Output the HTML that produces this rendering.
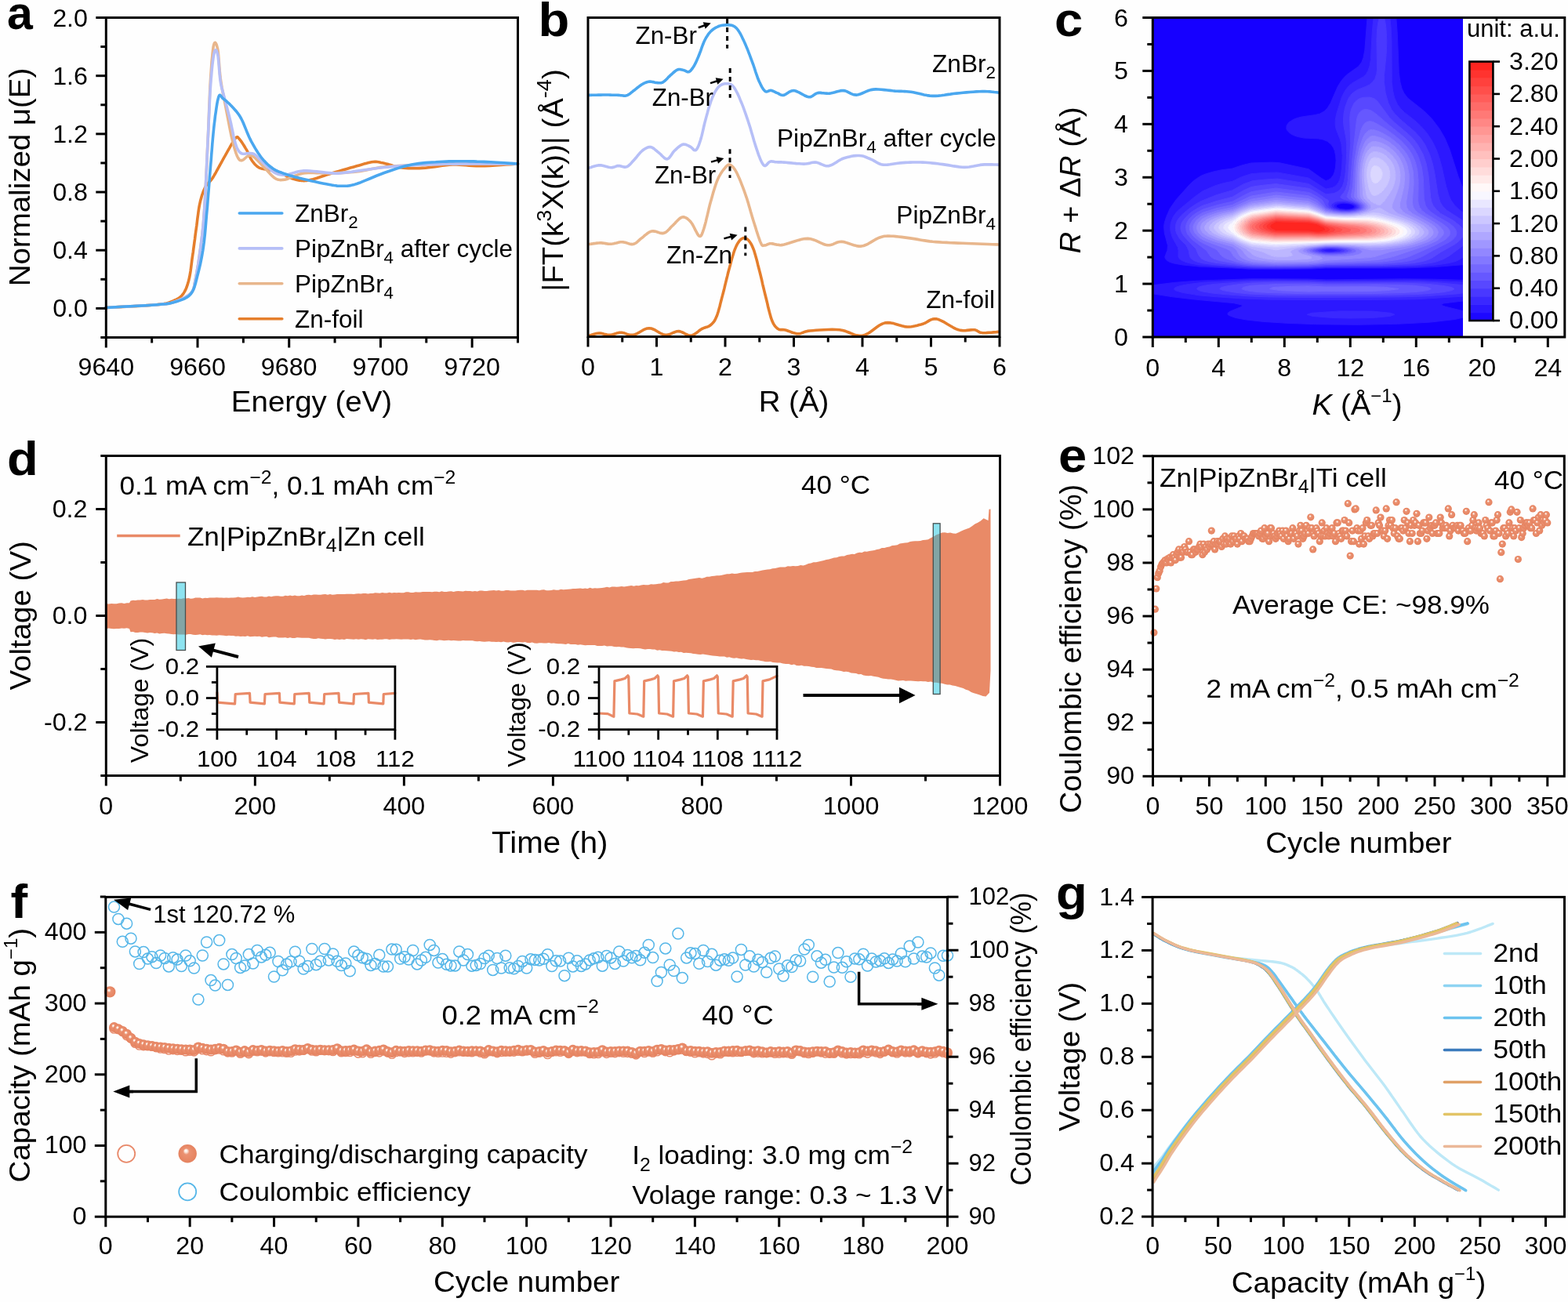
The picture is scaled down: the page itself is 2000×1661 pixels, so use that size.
<!DOCTYPE html>
<html><head><meta charset="utf-8"><style>
html,body{margin:0;padding:0;background:#fff;}
svg{display:block;}
text{font-family:'Liberation Sans', Arial, sans-serif;}
</style></head><body>
<svg width="2000" height="1661" viewBox="0 0 2000 1661">
<rect width="2000" height="1661" fill="#fefefe"/>
<path d="M135.0,392.5 L140.3,392.2 L147.7,391.9 L156.5,391.4 L166.1,391.0 L175.9,390.4 L185.2,389.9 L193.4,389.3 L200.0,388.7 L205.0,388.1 L209.0,387.5 L212.2,386.9 L214.8,386.2 L217.0,385.5 L219.0,384.7 L220.9,383.9 L222.9,383.0 L224.9,382.1 L226.7,381.2 L228.2,380.2 L229.6,379.2 L230.9,378.1 L232.0,376.9 L233.2,375.5 L234.3,373.9 L235.4,372.1 L236.4,370.2 L237.3,368.2 L238.2,366.0 L239.0,363.7 L239.7,361.2 L240.5,358.5 L241.2,355.6 L241.9,352.5 L242.5,349.1 L243.1,345.5 L243.6,341.7 L244.1,337.8 L244.6,333.8 L245.1,329.8 L245.7,325.8 L246.3,321.7 L246.8,317.5 L247.4,313.2 L248.0,308.8 L248.6,304.4 L249.1,300.0 L249.7,295.7 L250.3,291.5 L250.9,287.3 L251.4,283.1 L251.9,278.8 L252.5,274.6 L253.0,270.6 L253.6,266.6 L254.2,262.9 L254.9,259.5 L255.6,256.3 L256.4,253.4 L257.2,250.6 L258.0,248.0 L258.9,245.5 L259.8,243.2 L260.7,241.1 L261.7,239.0 L262.7,237.2 L263.8,235.6 L265.0,234.2 L266.2,233.0 L267.4,231.7 L268.6,230.5 L269.7,229.1 L270.9,227.5 L272.0,225.7 L273.1,223.9 L274.2,222.0 L275.3,220.1 L276.4,218.0 L277.6,215.9 L278.7,213.8 L280.0,211.5 L281.3,209.1 L282.8,206.5 L284.2,203.9 L285.7,201.1 L287.3,198.4 L288.7,195.8 L290.2,193.2 L291.5,190.9 L292.8,188.7 L294.0,186.4 L295.3,184.2 L296.5,182.1 L297.6,180.2 L298.7,178.5 L299.7,177.1 L300.6,176.0 L301.4,175.3 L302.0,174.9 L302.5,174.7 L302.9,174.8 L303.3,175.1 L303.8,175.6 L304.4,176.3 L305.2,177.2 L306.1,178.3 L307.2,179.7 L308.4,181.4 L309.6,183.3 L310.9,185.2 L312.1,187.2 L313.2,189.1 L314.3,190.9 L315.3,192.6 L316.1,194.4 L317.0,196.2 L317.8,198.0 L318.5,199.8 L319.4,201.5 L320.2,203.1 L321.2,204.6 L322.2,206.0 L323.3,207.4 L324.3,208.7 L325.5,209.9 L326.6,211.0 L327.8,212.1 L329.0,213.0 L330.3,213.8 L331.6,214.4 L333.0,214.9 L334.3,215.3 L335.8,215.5 L337.2,215.8 L338.7,216.0 L340.2,216.2 L341.8,216.5 L343.4,216.8 L345.1,217.1 L346.8,217.4 L348.5,217.7 L350.3,218.1 L352.0,218.5 L353.8,218.9 L355.5,219.5 L357.2,220.2 L358.9,221.0 L360.6,221.9 L362.3,222.9 L364.1,223.9 L365.8,224.8 L367.5,225.7 L369.2,226.4 L370.9,227.1 L372.6,227.7 L374.4,228.3 L376.1,228.8 L377.8,229.3 L379.6,229.7 L381.3,230.1 L383.0,230.3 L384.7,230.5 L386.2,230.5 L387.7,230.6 L389.3,230.5 L390.9,230.4 L392.6,230.1 L394.5,229.8 L396.7,229.3 L399.1,228.7 L401.6,228.0 L404.2,227.2 L407.0,226.2 L410.0,225.2 L413.1,224.2 L416.5,223.1 L420.0,222.0 L423.9,220.8 L428.3,219.5 L432.9,218.2 L437.6,216.8 L442.4,215.4 L447.0,214.1 L451.2,212.9 L455.0,211.8 L458.3,210.9 L461.4,210.0 L464.2,209.1 L466.8,208.4 L469.3,207.8 L471.6,207.2 L473.8,206.8 L476.0,206.5 L478.0,206.4 L479.7,206.4 L481.3,206.5 L482.8,206.7 L484.3,207.0 L485.9,207.4 L487.8,207.8 L490.0,208.3 L492.5,208.9 L495.3,209.6 L498.3,210.5 L501.4,211.4 L504.6,212.2 L507.9,213.0 L511.2,213.7 L514.5,214.2 L517.8,214.5 L521.1,214.7 L524.4,214.8 L527.8,214.8 L531.3,214.8 L534.9,214.6 L538.6,214.4 L542.5,214.2 L546.5,213.8 L550.8,213.3 L555.1,212.7 L559.6,212.0 L564.1,211.3 L568.6,210.7 L573.1,210.3 L577.5,210.0 L581.8,210.0 L585.9,210.1 L590.1,210.4 L594.2,210.8 L598.4,211.2 L602.8,211.5 L607.5,211.8 L612.5,211.8 L618.2,211.7 L624.7,211.4 L631.7,211.0 L638.7,210.5 L645.4,210.0 L651.6,209.6 L656.7,209.2 L660.5,209.0" stroke="#e57e2c" stroke-width="3.6" fill="none" stroke-linejoin="round" stroke-linecap="round"/>
<path d="M135.0,392.5 L140.3,392.2 L147.7,391.8 L156.5,391.3 L166.1,390.8 L175.9,390.3 L185.2,389.7 L193.4,389.2 L200.0,388.7 L204.9,388.3 L208.7,387.9 L211.8,387.6 L214.2,387.3 L216.3,386.9 L218.3,386.4 L220.4,385.8 L222.9,385.0 L225.7,384.0 L228.5,382.9 L231.4,381.6 L234.2,380.3 L236.9,378.8 L239.4,377.3 L241.6,375.7 L243.4,374.0 L244.8,372.4 L245.8,371.0 L246.5,369.5 L247.0,368.0 L247.5,366.2 L247.9,364.0 L248.3,361.3 L249.0,357.9 L249.8,353.8 L250.7,349.0 L251.6,343.7 L252.6,338.0 L253.5,332.1 L254.4,326.1 L255.2,320.1 L256.0,314.4 L256.7,309.1 L257.3,304.2 L257.9,299.4 L258.4,294.5 L259.0,289.3 L259.5,283.4 L260.0,276.6 L260.6,268.7 L261.2,259.4 L261.8,248.7 L262.4,237.1 L263.0,224.9 L263.6,212.5 L264.1,200.1 L264.7,188.3 L265.2,177.2 L265.7,166.6 L266.1,156.1 L266.5,145.7 L266.9,135.6 L267.3,125.8 L267.7,116.5 L268.1,107.9 L268.6,100.0 L269.1,92.7 L269.6,85.7 L270.0,79.3 L270.6,73.4 L271.1,68.2 L271.6,63.7 L272.1,60.0 L272.7,57.2 L273.3,55.4 L273.9,54.5 L274.6,54.4 L275.2,55.1 L275.9,56.3 L276.5,58.1 L277.1,60.4 L277.7,62.9 L278.2,66.1 L278.6,70.1 L279.0,74.8 L279.4,79.8 L279.8,85.1 L280.2,90.4 L280.7,95.4 L281.2,100.0 L281.8,104.1 L282.4,107.9 L283.0,111.6 L283.7,115.2 L284.4,118.9 L285.2,122.8 L286.0,126.9 L286.9,131.5 L287.9,136.7 L289.0,142.5 L290.2,148.6 L291.4,154.9 L292.6,161.1 L293.8,167.1 L294.9,172.5 L296.0,177.2 L297.0,181.3 L297.9,184.9 L298.8,188.2 L299.7,191.2 L300.5,193.8 L301.3,196.1 L302.1,198.2 L302.9,200.0 L303.7,201.5 L304.4,202.7 L305.0,203.5 L305.7,204.1 L306.3,204.4 L307.0,204.6 L307.8,204.6 L308.6,204.6 L309.5,204.3 L310.5,203.7 L311.5,202.9 L312.5,202.0 L313.6,201.0 L314.6,200.1 L315.6,199.4 L316.6,198.9 L317.5,198.6 L318.2,198.4 L319.0,198.3 L319.7,198.2 L320.5,198.4 L321.3,198.7 L322.3,199.2 L323.5,200.0 L324.9,201.1 L326.4,202.6 L328.1,204.2 L329.9,206.1 L331.8,208.1 L333.6,210.1 L335.4,212.0 L337.2,213.8 L338.9,215.6 L340.7,217.5 L342.5,219.5 L344.2,221.4 L346.0,223.2 L347.7,224.9 L349.4,226.4 L351.0,227.5 L352.5,228.3 L354.0,228.9 L355.5,229.3 L356.9,229.5 L358.2,229.6 L359.6,229.5 L361.0,229.4 L362.4,229.3 L363.8,229.1 L365.1,228.7 L366.5,228.2 L367.8,227.7 L369.2,227.0 L370.6,226.4 L372.2,225.8 L373.8,225.2 L375.5,224.6 L377.1,224.0 L378.8,223.3 L380.6,222.6 L382.6,222.0 L384.7,221.4 L387.1,220.9 L389.8,220.6 L392.9,220.4 L396.2,220.4 L399.9,220.5 L403.7,220.6 L407.7,220.8 L411.8,221.0 L415.9,221.0 L420.0,221.0 L424.1,220.9 L428.4,220.8 L432.8,220.6 L437.2,220.4 L441.7,220.1 L446.1,219.8 L450.6,219.5 L455.0,219.0 L459.3,218.4 L463.3,217.7 L467.4,216.9 L471.4,216.1 L475.6,215.2 L480.0,214.4 L484.8,213.6 L490.0,213.0 L495.7,212.5 L501.9,212.0 L508.4,211.6 L515.2,211.2 L522.0,210.8 L529.0,210.5 L535.8,210.3 L542.5,210.0 L549.0,209.8 L555.3,209.6 L561.6,209.4 L567.9,209.3 L574.4,209.2 L581.0,209.1 L587.8,209.1 L595.0,209.0 L603.0,209.0 L612.0,208.9 L621.5,208.9 L631.0,208.9 L640.2,209.0 L648.4,209.0 L655.4,209.0 L660.5,209.0" stroke="#e8b68c" stroke-width="3.6" fill="none" stroke-linejoin="round" stroke-linecap="round"/>
<path d="M135.0,392.5 L140.3,392.2 L147.7,391.8 L156.5,391.3 L166.1,390.8 L175.9,390.3 L185.2,389.7 L193.4,389.2 L200.0,388.7 L204.9,388.3 L208.7,387.9 L211.8,387.6 L214.2,387.3 L216.3,386.9 L218.3,386.4 L220.4,385.8 L222.9,385.0 L225.7,384.0 L228.5,382.9 L231.4,381.6 L234.2,380.3 L236.9,378.8 L239.4,377.3 L241.6,375.7 L243.4,374.0 L244.8,372.4 L245.8,371.0 L246.5,369.5 L247.0,368.0 L247.5,366.2 L247.9,364.0 L248.3,361.3 L249.0,357.9 L249.8,353.8 L250.7,349.0 L251.6,343.7 L252.6,338.0 L253.5,332.1 L254.4,326.1 L255.2,320.1 L256.0,314.4 L256.7,309.1 L257.3,304.2 L257.9,299.4 L258.4,294.5 L259.0,289.3 L259.5,283.4 L260.0,276.6 L260.6,268.7 L261.2,259.3 L261.8,248.5 L262.4,236.7 L263.0,224.4 L263.6,211.8 L264.1,199.5 L264.7,187.9 L265.2,177.2 L265.7,167.3 L266.1,157.8 L266.5,148.6 L266.9,139.8 L267.3,131.3 L267.7,123.3 L268.1,115.7 L268.6,108.6 L269.1,101.8 L269.7,95.4 L270.2,89.2 L270.8,83.6 L271.4,78.5 L272.0,74.0 L272.6,70.3 L273.2,67.4 L273.8,65.4 L274.4,64.2 L274.9,63.7 L275.5,63.8 L276.1,64.6 L276.6,65.9 L277.2,67.6 L277.7,69.7 L278.2,72.5 L278.6,76.3 L279.0,80.7 L279.4,85.6 L279.8,90.6 L280.2,95.5 L280.7,100.0 L281.2,104.0 L281.8,107.4 L282.4,110.4 L283.1,113.2 L283.8,115.9 L284.6,118.5 L285.3,121.1 L286.1,123.9 L286.9,126.9 L287.7,130.1 L288.5,133.4 L289.4,136.7 L290.3,140.2 L291.2,143.7 L292.1,147.2 L292.9,150.7 L293.8,154.3 L294.7,158.0 L295.5,162.0 L296.4,166.1 L297.2,170.1 L298.0,174.1 L298.9,177.8 L299.7,181.1 L300.6,184.0 L301.4,186.4 L302.2,188.4 L303.0,190.2 L303.8,191.6 L304.6,192.8 L305.5,193.9 L306.4,194.7 L307.5,195.5 L308.7,196.0 L310.1,196.3 L311.6,196.2 L313.2,196.1 L314.8,195.8 L316.3,195.6 L317.7,195.5 L318.9,195.5 L319.9,195.6 L320.8,195.7 L321.6,195.8 L322.3,195.9 L323.1,196.2 L323.9,196.5 L324.8,197.1 L325.8,197.8 L327.0,198.8 L328.3,200.0 L329.6,201.4 L331.1,202.9 L332.6,204.5 L334.1,206.1 L335.6,207.7 L337.2,209.2 L338.8,210.7 L340.5,212.3 L342.2,213.9 L344.0,215.5 L345.7,217.0 L347.5,218.4 L349.3,219.6 L351.0,220.6 L352.6,221.4 L354.2,222.0 L355.7,222.5 L357.2,222.8 L358.8,223.0 L360.6,223.1 L362.5,223.1 L364.6,223.0 L367.0,222.7 L369.4,222.1 L372.1,221.3 L374.9,220.4 L377.8,219.6 L380.9,218.8 L384.1,218.2 L387.5,217.9 L391.2,217.9 L395.3,218.1 L399.6,218.5 L404.1,218.9 L408.5,219.4 L412.7,219.9 L416.6,220.3 L420.0,220.6 L422.7,220.8 L424.6,220.9 L426.1,221.1 L427.5,221.2 L429.0,221.2 L431.0,221.1 L433.7,220.9 L437.5,220.5 L442.4,219.9 L448.2,219.2 L454.6,218.2 L461.6,217.2 L468.8,216.2 L476.1,215.2 L483.2,214.3 L490.0,213.5 L496.6,212.9 L503.1,212.3 L509.7,211.8 L516.2,211.4 L522.8,211.0 L529.4,210.6 L535.9,210.3 L542.5,210.0 L549.0,209.7 L555.3,209.6 L561.6,209.4 L567.9,209.3 L574.4,209.2 L581.0,209.1 L587.8,209.1 L595.0,209.0 L603.0,209.0 L612.0,208.9 L621.5,208.9 L631.0,208.9 L640.2,209.0 L648.4,209.0 L655.4,209.0 L660.5,209.0" stroke="#b6bff7" stroke-width="3.6" fill="none" stroke-linejoin="round" stroke-linecap="round"/>
<path d="M135.0,392.5 L140.3,392.2 L147.7,391.8 L156.5,391.3 L166.1,390.8 L175.9,390.3 L185.2,389.7 L193.4,389.2 L200.0,388.7 L204.9,388.3 L208.7,388.0 L211.8,387.7 L214.2,387.4 L216.3,387.1 L218.3,386.6 L220.4,386.1 L222.9,385.3 L225.7,384.5 L228.5,383.6 L231.3,382.6 L234.0,381.6 L236.6,380.3 L239.1,378.9 L241.4,377.1 L243.4,375.0 L245.1,372.5 L246.5,369.7 L247.8,366.7 L248.8,363.4 L249.8,359.9 L250.7,356.2 L251.6,352.5 L252.6,348.7 L253.6,344.9 L254.5,341.0 L255.5,336.9 L256.3,332.8 L257.2,328.4 L258.0,324.0 L258.8,319.3 L259.5,314.4 L260.2,309.3 L260.8,304.0 L261.4,298.6 L261.9,293.0 L262.4,287.2 L262.9,281.2 L263.4,275.0 L264.0,268.7 L264.6,262.1 L265.1,255.1 L265.7,247.9 L266.3,240.5 L266.9,233.1 L267.4,225.7 L268.0,218.5 L268.6,211.5 L269.2,204.6 L269.7,197.6 L270.3,190.7 L270.8,183.8 L271.4,177.2 L272.0,170.7 L272.6,164.6 L273.2,158.9 L273.9,153.4 L274.5,148.0 L275.3,142.7 L276.0,137.8 L276.7,133.3 L277.4,129.3 L278.2,126.0 L278.9,123.5 L279.6,121.9 L280.2,121.2 L280.8,121.3 L281.4,121.8 L282.0,122.7 L282.8,123.8 L283.6,124.9 L284.6,125.8 L285.8,126.7 L287.0,127.7 L288.5,128.8 L289.9,130.1 L291.5,131.5 L293.0,132.9 L294.5,134.4 L296.0,136.0 L297.4,137.6 L298.9,139.2 L300.3,140.8 L301.8,142.5 L303.2,144.3 L304.6,146.3 L306.1,148.6 L307.5,151.0 L308.9,153.8 L310.3,156.8 L311.7,160.2 L313.1,163.6 L314.5,167.1 L315.9,170.6 L317.4,174.0 L318.9,177.2 L320.5,180.3 L322.2,183.3 L323.9,186.4 L325.6,189.4 L327.4,192.3 L329.1,195.0 L330.9,197.6 L332.6,200.0 L334.3,202.2 L336.0,204.2 L337.8,206.1 L339.5,207.9 L341.2,209.5 L343.0,211.1 L344.7,212.5 L346.4,213.8 L348.0,215.0 L349.6,216.0 L351.1,216.9 L352.6,217.6 L354.2,218.4 L355.9,219.1 L357.9,219.8 L360.0,220.6 L362.3,221.5 L364.8,222.3 L367.3,223.1 L370.0,224.0 L372.9,224.8 L376.0,225.7 L379.4,226.6 L383.0,227.5 L387.1,228.5 L391.7,229.6 L396.7,230.7 L401.8,231.8 L406.9,232.9 L411.8,233.9 L416.2,234.8 L420.0,235.5 L423.1,236.1 L425.7,236.5 L428.0,236.8 L430.0,237.1 L431.8,237.2 L433.6,237.3 L435.4,237.3 L437.5,237.3 L439.6,237.2 L441.5,237.2 L443.3,237.1 L445.2,236.9 L447.2,236.6 L449.4,236.1 L452.0,235.4 L455.0,234.5 L458.5,233.3 L462.5,231.7 L466.8,229.9 L471.4,228.0 L476.1,226.0 L480.8,224.0 L485.5,222.2 L490.0,220.5 L494.4,219.0 L498.8,217.5 L503.1,216.0 L507.5,214.6 L511.9,213.3 L516.2,212.1 L520.6,211.0 L525.0,210.0 L529.4,209.2 L533.8,208.6 L538.1,208.1 L542.5,207.6 L546.9,207.3 L551.2,207.0 L555.6,206.8 L560.0,206.5 L564.4,206.3 L568.8,206.1 L573.1,205.9 L577.5,205.9 L581.9,205.8 L586.2,205.8 L590.6,205.8 L595.0,205.8 L599.4,205.9 L603.9,205.9 L608.3,206.1 L612.8,206.2 L617.2,206.4 L621.6,206.6 L625.8,206.8 L630.0,207.0 L634.2,207.2 L638.7,207.5 L643.1,207.8 L647.4,208.1 L651.5,208.4 L655.1,208.6 L658.2,208.8 L660.5,209.0" stroke="#4aa7ef" stroke-width="3.6" fill="none" stroke-linejoin="round" stroke-linecap="round"/>
<rect x="135.30" y="22.50" width="525.20" height="408.00" stroke="#000" stroke-width="3" fill="none"/>
<line x1="135.30" y1="393.41" x2="122.30" y2="393.41" stroke="#000" stroke-width="3"/>
<line x1="135.30" y1="319.23" x2="122.30" y2="319.23" stroke="#000" stroke-width="3"/>
<line x1="135.30" y1="245.05" x2="122.30" y2="245.05" stroke="#000" stroke-width="3"/>
<line x1="135.30" y1="170.86" x2="122.30" y2="170.86" stroke="#000" stroke-width="3"/>
<line x1="135.30" y1="96.68" x2="122.30" y2="96.68" stroke="#000" stroke-width="3"/>
<line x1="135.30" y1="22.50" x2="122.30" y2="22.50" stroke="#000" stroke-width="3"/>
<line x1="135.30" y1="430.50" x2="128.30" y2="430.50" stroke="#000" stroke-width="3"/>
<line x1="135.30" y1="356.32" x2="128.30" y2="356.32" stroke="#000" stroke-width="3"/>
<line x1="135.30" y1="282.14" x2="128.30" y2="282.14" stroke="#000" stroke-width="3"/>
<line x1="135.30" y1="207.95" x2="128.30" y2="207.95" stroke="#000" stroke-width="3"/>
<line x1="135.30" y1="133.77" x2="128.30" y2="133.77" stroke="#000" stroke-width="3"/>
<line x1="135.30" y1="59.59" x2="128.30" y2="59.59" stroke="#000" stroke-width="3"/>
<text font-size="31" text-anchor="end" transform="translate(112.0,404.4) scale(1.04,1)" fill="#000">0.0</text>
<text font-size="31" text-anchor="end" transform="translate(112.0,330.2) scale(1.04,1)" fill="#000">0.4</text>
<text font-size="31" text-anchor="end" transform="translate(112.0,256.0) scale(1.04,1)" fill="#000">0.8</text>
<text font-size="31" text-anchor="end" transform="translate(112.0,181.9) scale(1.04,1)" fill="#000">1.2</text>
<text font-size="31" text-anchor="end" transform="translate(112.0,107.7) scale(1.04,1)" fill="#000">1.6</text>
<text font-size="31" text-anchor="end" transform="translate(112.0,33.5) scale(1.04,1)" fill="#000">2.0</text>
<line x1="135.30" y1="430.50" x2="135.30" y2="443.50" stroke="#000" stroke-width="3"/>
<line x1="252.01" y1="430.50" x2="252.01" y2="443.50" stroke="#000" stroke-width="3"/>
<line x1="368.72" y1="430.50" x2="368.72" y2="443.50" stroke="#000" stroke-width="3"/>
<line x1="485.43" y1="430.50" x2="485.43" y2="443.50" stroke="#000" stroke-width="3"/>
<line x1="602.14" y1="430.50" x2="602.14" y2="443.50" stroke="#000" stroke-width="3"/>
<line x1="193.66" y1="430.50" x2="193.66" y2="437.50" stroke="#000" stroke-width="3"/>
<line x1="310.37" y1="430.50" x2="310.37" y2="437.50" stroke="#000" stroke-width="3"/>
<line x1="427.08" y1="430.50" x2="427.08" y2="437.50" stroke="#000" stroke-width="3"/>
<line x1="543.79" y1="430.50" x2="543.79" y2="437.50" stroke="#000" stroke-width="3"/>
<line x1="660.50" y1="430.50" x2="660.50" y2="437.50" stroke="#000" stroke-width="3"/>
<text font-size="31" text-anchor="middle" transform="translate(135.3,479.0) scale(1.04,1)" fill="#000">9640</text>
<text font-size="31" text-anchor="middle" transform="translate(252.0,479.0) scale(1.04,1)" fill="#000">9660</text>
<text font-size="31" text-anchor="middle" transform="translate(368.7,479.0) scale(1.04,1)" fill="#000">9680</text>
<text font-size="31" text-anchor="middle" transform="translate(485.4,479.0) scale(1.04,1)" fill="#000">9700</text>
<text font-size="31" text-anchor="middle" transform="translate(602.1,479.0) scale(1.04,1)" fill="#000">9720</text>
<text font-size="37" text-anchor="middle" transform="translate(397.5,525.0) scale(1.04,1)" fill="#000">Energy (eV)</text>
<text font-size="37" text-anchor="middle" transform="translate(38.0,226.0) rotate(-90) scale(1.04,1)" fill="#000">Normalized μ(E)</text>
<text font-size="59" text-anchor="start" font-weight="bold" transform="translate(9.0,37.0)" fill="#000">a</text>
<line x1="305.30" y1="272.00" x2="359.80" y2="272.00" stroke="#4aa7ef" stroke-width="3.6" stroke-linecap="round"/>
<text font-size="31" text-anchor="start" transform="translate(376.0,282.8) scale(1.015,1)" fill="#000">ZnBr<tspan font-size="22" dy="8">2</tspan></text>
<line x1="305.30" y1="316.90" x2="359.80" y2="316.90" stroke="#b6bff7" stroke-width="3.6" stroke-linecap="round"/>
<text font-size="31" text-anchor="start" transform="translate(376.0,327.7) scale(1.015,1)" fill="#000">PipZnBr<tspan font-size="22" dy="8">4</tspan><tspan dy="-8"> after cycle</tspan></text>
<line x1="305.30" y1="361.80" x2="359.80" y2="361.80" stroke="#e8b68c" stroke-width="3.6" stroke-linecap="round"/>
<text font-size="31" text-anchor="start" transform="translate(376.0,372.6) scale(1.015,1)" fill="#000">PipZnBr<tspan font-size="22" dy="8">4</tspan></text>
<line x1="305.30" y1="406.70" x2="359.80" y2="406.70" stroke="#e57e2c" stroke-width="3.6" stroke-linecap="round"/>
<text font-size="31" text-anchor="start" transform="translate(376.0,417.5) scale(1.015,1)" fill="#000">Zn-foil</text>
<path d="M751.6,121.4 L753.2,121.4 L755.2,121.3 L757.7,121.2 L760.5,121.2 L763.4,121.1 L766.2,121.1 L769.0,121.0 L771.5,121.0 L773.8,121.0 L776.1,121.0 L778.4,121.1 L780.7,121.2 L782.9,121.2 L784.9,121.3 L786.9,121.3 L788.7,121.4 L790.3,121.5 L791.8,121.7 L793.2,121.8 L794.5,122.0 L795.7,122.1 L796.9,122.2 L798.1,122.1 L799.3,121.8 L800.5,121.3 L801.7,120.7 L802.8,120.0 L804.0,119.1 L805.1,118.2 L806.2,117.3 L807.4,116.3 L808.6,115.4 L809.9,114.5 L811.2,113.4 L812.5,112.3 L813.9,111.3 L815.3,110.2 L816.6,109.2 L817.9,108.3 L819.2,107.5 L820.4,106.8 L821.6,106.2 L822.8,105.7 L823.9,105.2 L825.1,104.8 L826.2,104.5 L827.3,104.3 L828.5,104.1 L829.7,104.1 L830.9,104.2 L832.0,104.4 L833.2,104.6 L834.4,104.9 L835.6,105.2 L836.7,105.4 L837.8,105.5 L838.8,105.6 L839.8,105.7 L840.8,105.7 L841.7,105.8 L842.7,105.7 L843.7,105.6 L844.7,105.3 L845.7,104.8 L846.8,104.1 L847.9,103.2 L849.1,102.1 L850.3,100.9 L851.5,99.7 L852.6,98.4 L853.8,97.3 L855.0,96.2 L856.2,95.2 L857.4,94.1 L858.5,93.0 L859.7,92.0 L860.9,91.0 L862.1,90.1 L863.2,89.4 L864.3,88.9 L865.4,88.6 L866.4,88.5 L867.4,88.5 L868.4,88.7 L869.4,88.9 L870.3,89.1 L871.3,89.4 L872.2,89.6 L873.1,89.9 L873.9,90.2 L874.8,90.7 L875.6,91.1 L876.4,91.5 L877.2,91.8 L878.0,91.8 L878.8,91.6 L879.6,91.1 L880.5,90.5 L881.3,89.6 L882.1,88.6 L883.0,87.5 L883.8,86.3 L884.7,85.0 L885.5,83.6 L886.3,82.1 L887.2,80.5 L888.0,78.7 L888.8,76.9 L889.6,75.0 L890.5,73.0 L891.3,71.0 L892.1,69.0 L892.9,66.9 L893.7,64.8 L894.5,62.5 L895.3,60.2 L896.1,58.0 L897.0,55.8 L897.8,53.7 L898.7,51.8 L899.6,50.0 L900.5,48.3 L901.5,46.7 L902.5,45.2 L903.4,43.7 L904.5,42.4 L905.6,41.1 L906.7,39.9 L907.9,38.8 L909.2,37.8 L910.5,36.8 L911.8,35.9 L913.2,35.2 L914.6,34.5 L916.0,33.8 L917.3,33.3 L918.6,32.9 L920.0,32.5 L921.4,32.3 L922.8,32.1 L924.1,32.0 L925.4,31.9 L926.7,31.9 L927.9,31.9 L929.0,31.9 L930.1,31.9 L931.1,32.0 L932.1,32.1 L933.1,32.3 L934.0,32.5 L934.9,32.9 L935.8,33.3 L936.7,33.8 L937.5,34.4 L938.3,35.0 L939.1,35.7 L939.9,36.5 L940.7,37.5 L941.5,38.6 L942.4,39.9 L943.3,41.4 L944.3,43.0 L945.2,44.8 L946.2,46.8 L947.2,48.9 L948.3,51.1 L949.3,53.4 L950.4,55.8 L951.5,58.4 L952.7,61.2 L953.9,64.2 L955.1,67.3 L956.3,70.4 L957.4,73.5 L958.6,76.6 L959.7,79.6 L960.8,82.5 L961.8,85.5 L962.8,88.5 L963.7,91.5 L964.7,94.4 L965.7,97.2 L966.6,99.8 L967.6,102.2 L968.6,104.5 L969.6,106.6 L970.6,108.7 L971.6,110.6 L972.6,112.3 L973.6,113.9 L974.6,115.1 L975.6,116.1 L976.6,116.7 L977.6,116.9 L978.6,116.7 L979.6,116.4 L980.5,116.0 L981.5,115.6 L982.5,115.4 L983.5,115.4 L984.5,115.6 L985.5,116.0 L986.5,116.4 L987.5,116.8 L988.5,117.3 L989.5,117.8 L990.5,118.3 L991.5,118.7 L992.5,119.1 L993.4,119.6 L994.2,120.1 L995.1,120.6 L996.1,121.0 L997.1,121.3 L998.2,121.5 L999.4,121.4 L1000.8,121.0 L1002.2,120.2 L1003.7,119.2 L1005.3,118.2 L1007.0,117.1 L1008.8,116.3 L1010.6,115.7 L1012.6,115.6 L1014.7,116.0 L1017.1,117.0 L1019.6,118.2 L1022.2,119.6 L1024.8,121.0 L1027.2,122.3 L1029.5,123.2 L1031.6,123.7 L1033.4,123.7 L1034.9,123.2 L1036.3,122.5 L1037.5,121.6 L1038.8,120.7 L1040.1,119.8 L1041.4,119.1 L1043.0,118.6 L1044.7,118.4 L1046.5,118.4 L1048.3,118.6 L1050.2,118.7 L1052.1,119.0 L1054.1,119.1 L1056.2,119.2 L1058.2,119.1 L1060.3,118.8 L1062.5,118.3 L1064.7,117.7 L1067.0,117.0 L1069.2,116.4 L1071.5,115.9 L1073.7,115.6 L1075.9,115.6 L1078.0,115.9 L1080.0,116.6 L1081.9,117.6 L1083.9,118.6 L1085.8,119.6 L1087.9,120.4 L1090.0,120.9 L1092.3,121.1 L1094.7,120.8 L1097.2,120.0 L1099.7,119.0 L1102.3,117.8 L1105.1,116.6 L1107.9,115.5 L1110.8,114.6 L1113.8,114.1 L1117.0,113.9 L1120.5,114.0 L1124.1,114.2 L1127.8,114.6 L1131.5,115.0 L1135.0,115.4 L1138.4,115.8 L1141.6,116.1 L1144.4,116.3 L1147.0,116.4 L1149.4,116.4 L1151.7,116.5 L1154.0,116.6 L1156.4,116.7 L1159.0,117.0 L1161.8,117.3 L1164.9,117.8 L1168.2,118.5 L1171.6,119.3 L1175.1,120.1 L1178.7,120.9 L1182.3,121.6 L1185.9,122.1 L1189.6,122.4 L1193.3,122.4 L1197.0,122.1 L1200.7,121.7 L1204.5,121.2 L1208.3,120.6 L1212.2,120.1 L1216.1,119.5 L1220.0,119.1 L1224.1,118.7 L1228.3,118.3 L1232.6,117.9 L1237.0,117.5 L1241.2,117.2 L1245.3,116.9 L1249.2,116.7 L1252.8,116.6 L1256.2,116.6 L1259.5,116.7 L1262.6,116.9 L1265.6,117.2 L1268.3,117.5 L1270.7,117.7 L1272.7,118.0 L1274.3,118.1" stroke="#4aa7ef" stroke-width="3.6" fill="none" stroke-linejoin="round" stroke-linecap="round"/>
<path d="M751.6,214.1 L752.6,213.8 L754.0,213.4 L755.6,212.8 L757.3,212.3 L759.2,211.7 L761.2,211.3 L763.1,210.9 L764.9,210.8 L766.7,210.9 L768.6,211.2 L770.5,211.7 L772.5,212.2 L774.4,212.7 L776.2,213.2 L777.9,213.5 L779.5,213.7 L780.9,213.6 L782.1,213.4 L783.3,213.1 L784.4,212.7 L785.4,212.3 L786.4,211.9 L787.5,211.6 L788.7,211.5 L790.0,211.6 L791.3,211.8 L792.6,212.2 L794.0,212.6 L795.4,212.9 L796.7,213.1 L798.0,213.1 L799.3,212.8 L800.5,212.2 L801.7,211.4 L802.8,210.4 L804.0,209.3 L805.1,208.1 L806.2,206.8 L807.4,205.5 L808.6,204.2 L809.9,202.8 L811.2,201.3 L812.5,199.7 L813.8,198.0 L815.2,196.4 L816.5,194.8 L817.9,193.5 L819.2,192.3 L820.5,191.3 L821.9,190.3 L823.2,189.5 L824.5,188.8 L825.8,188.2 L827.1,187.8 L828.5,187.6 L829.8,187.6 L831.1,187.9 L832.4,188.6 L833.8,189.4 L835.1,190.5 L836.4,191.6 L837.7,192.7 L839.1,193.9 L840.4,194.9 L841.7,196.0 L843.1,197.3 L844.4,198.7 L845.8,200.0 L847.1,201.2 L848.4,202.2 L849.7,202.8 L851.0,202.9 L852.2,202.4 L853.4,201.5 L854.5,200.2 L855.7,198.6 L856.8,196.9 L857.9,195.2 L859.1,193.6 L860.3,192.3 L861.6,191.1 L862.9,189.9 L864.2,188.6 L865.6,187.5 L867.0,186.4 L868.3,185.5 L869.6,184.8 L870.9,184.3 L872.1,184.1 L873.4,184.2 L874.6,184.4 L875.8,184.9 L876.9,185.4 L878.1,185.9 L879.1,186.5 L880.2,187.0 L881.2,187.6 L882.2,188.4 L883.1,189.3 L884.0,190.3 L884.9,191.1 L885.7,191.6 L886.6,191.8 L887.4,191.6 L888.2,190.9 L889.0,190.0 L889.7,188.7 L890.4,187.2 L891.2,185.5 L891.9,183.5 L892.6,181.4 L893.4,179.0 L894.2,176.4 L895.0,173.4 L895.8,170.1 L896.6,166.6 L897.4,163.0 L898.2,159.5 L899.1,155.9 L900.0,152.5 L900.9,149.1 L901.9,145.6 L902.8,142.1 L903.8,138.6 L904.8,135.2 L905.9,131.9 L906.9,128.8 L908.0,126.0 L909.1,123.4 L910.2,121.0 L911.3,118.7 L912.4,116.6 L913.6,114.7 L914.8,112.9 L916.0,111.4 L917.3,110.1 L918.7,109.0 L920.2,108.2 L921.7,107.5 L923.3,107.1 L924.9,106.8 L926.4,106.7 L927.9,106.7 L929.2,106.8 L930.4,107.0 L931.4,107.3 L932.4,107.8 L933.3,108.4 L934.2,109.1 L935.1,110.1 L936.1,111.3 L937.1,112.8 L938.2,114.6 L939.3,116.6 L940.5,118.9 L941.7,121.4 L942.9,124.1 L944.0,126.9 L945.2,129.7 L946.4,132.6 L947.6,135.6 L948.8,138.8 L949.9,142.0 L951.1,145.4 L952.3,148.9 L953.5,152.3 L954.6,155.7 L955.7,159.1 L956.8,162.5 L957.8,165.9 L958.8,169.4 L959.8,172.8 L960.8,176.2 L961.7,179.5 L962.7,182.7 L963.6,185.6 L964.5,188.4 L965.4,191.1 L966.3,193.7 L967.1,196.1 L967.9,198.4 L968.8,200.5 L969.5,202.5 L970.3,204.2 L971.0,205.7 L971.7,207.1 L972.3,208.3 L973.0,209.3 L973.6,210.2 L974.2,210.8 L974.9,211.3 L975.6,211.5 L976.4,211.4 L977.1,210.9 L977.9,210.2 L978.7,209.3 L979.6,208.3 L980.4,207.4 L981.3,206.7 L982.2,206.2 L983.1,206.0 L984.0,205.9 L985.0,206.0 L985.9,206.1 L986.9,206.3 L988.0,206.5 L989.0,206.7 L990.1,206.8 L991.1,206.8 L992.1,206.9 L993.0,206.9 L994.0,206.9 L995.1,206.9 L996.4,206.9 L998.0,207.0 L1000.0,207.1 L1002.5,207.3 L1005.5,207.6 L1008.8,207.9 L1012.3,208.2 L1015.9,208.6 L1019.3,208.8 L1022.5,209.0 L1025.3,209.1 L1027.7,209.0 L1029.8,208.7 L1031.7,208.4 L1033.5,207.9 L1035.2,207.5 L1036.9,207.2 L1038.6,207.1 L1040.5,207.1 L1042.5,207.5 L1044.5,208.1 L1046.4,209.0 L1048.5,209.9 L1050.5,210.7 L1052.6,211.4 L1054.7,211.8 L1056.9,211.7 L1059.1,211.1 L1061.4,210.1 L1063.8,208.8 L1066.2,207.4 L1068.6,205.8 L1071.0,204.3 L1073.4,203.0 L1075.9,202.0 L1078.4,201.2 L1081.0,200.5 L1083.6,199.9 L1086.2,199.3 L1088.8,198.9 L1091.4,198.6 L1093.8,198.5 L1096.1,198.5 L1098.2,198.7 L1100.3,199.1 L1102.2,199.6 L1104.0,200.3 L1105.8,201.0 L1107.6,201.8 L1109.4,202.5 L1111.3,203.3 L1113.1,204.1 L1114.8,205.1 L1116.5,206.1 L1118.2,207.2 L1120.0,208.1 L1121.9,209.0 L1124.0,209.7 L1126.4,210.1 L1129.1,210.2 L1132.0,210.1 L1135.1,209.8 L1138.4,209.3 L1141.8,208.8 L1145.1,208.3 L1148.5,207.9 L1151.7,207.6 L1154.9,207.4 L1158.0,207.3 L1161.2,207.1 L1164.3,207.0 L1167.5,207.0 L1170.7,207.0 L1173.8,207.0 L1177.0,207.1 L1180.1,207.3 L1183.3,207.5 L1186.4,207.8 L1189.5,208.1 L1192.6,208.4 L1195.8,208.8 L1199.0,209.2 L1202.3,209.6 L1205.7,210.1 L1209.2,210.6 L1212.8,211.2 L1216.4,211.9 L1219.9,212.4 L1223.4,212.9 L1226.9,213.3 L1230.1,213.4 L1233.2,213.3 L1236.2,213.0 L1239.0,212.5 L1241.8,212.0 L1244.6,211.4 L1247.3,210.9 L1250.1,210.4 L1252.8,210.1 L1255.7,209.9 L1258.8,209.9 L1261.9,209.9 L1265.0,209.9 L1267.9,210.0 L1270.5,210.0 L1272.6,210.1 L1274.3,210.1" stroke="#b6bff7" stroke-width="3.6" fill="none" stroke-linejoin="round" stroke-linecap="round"/>
<path d="M752.0,311.5 L753.0,311.4 L754.4,311.1 L756.0,310.9 L757.8,310.6 L759.7,310.4 L761.6,310.1 L763.5,310.0 L765.3,309.9 L767.0,309.9 L768.8,310.1 L770.5,310.3 L772.3,310.6 L774.1,310.9 L775.9,311.1 L777.6,311.2 L779.4,311.2 L781.2,311.0 L782.9,310.7 L784.7,310.3 L786.5,309.9 L788.2,309.4 L790.0,309.0 L791.7,308.8 L793.5,308.7 L795.3,308.9 L797.1,309.3 L798.9,309.8 L800.7,310.4 L802.5,311.0 L804.3,311.4 L806.0,311.6 L807.6,311.5 L809.1,311.0 L810.5,310.3 L811.9,309.4 L813.2,308.3 L814.5,307.1 L815.8,305.9 L817.2,304.7 L818.6,303.6 L820.1,302.5 L821.5,301.2 L823.0,299.9 L824.6,298.7 L826.1,297.5 L827.7,296.4 L829.4,295.6 L831.1,295.0 L832.9,294.9 L834.9,295.1 L836.9,295.6 L839.0,296.2 L841.1,296.9 L843.1,297.4 L844.9,297.6 L846.7,297.4 L848.3,296.8 L849.7,295.9 L851.1,294.8 L852.4,293.5 L853.7,292.2 L855.0,290.7 L856.3,289.3 L857.7,288.0 L859.2,286.6 L860.8,285.0 L862.3,283.2 L864.0,281.5 L865.6,279.9 L867.1,278.6 L868.7,277.6 L870.2,277.0 L871.6,276.9 L873.1,277.1 L874.4,277.6 L875.8,278.3 L877.1,279.3 L878.5,280.5 L879.8,281.8 L881.2,283.3 L882.6,285.2 L884.0,287.7 L885.5,290.5 L886.9,293.4 L888.4,296.2 L889.7,298.6 L891.0,300.4 L892.1,301.3 L893.1,301.4 L894.0,300.9 L894.7,299.9 L895.4,298.5 L896.1,296.7 L896.8,294.6 L897.6,292.2 L898.4,289.6 L899.3,286.6 L900.2,283.1 L901.1,279.2 L902.1,275.1 L903.1,270.8 L904.1,266.5 L905.1,262.3 L906.2,258.3 L907.3,254.4 L908.4,250.4 L909.5,246.4 L910.7,242.5 L911.9,238.6 L913.1,235.0 L914.3,231.6 L915.6,228.5 L916.9,225.7 L918.4,223.1 L919.8,220.7 L921.3,218.5 L922.8,216.5 L924.2,214.8 L925.4,213.3 L926.6,212.1 L927.6,211.2 L928.4,210.5 L929.2,210.1 L929.9,210.0 L930.6,210.1 L931.2,210.3 L932.0,210.7 L932.8,211.3 L933.7,212.0 L934.6,212.8 L935.5,213.8 L936.4,215.0 L937.4,216.4 L938.4,218.1 L939.5,220.0 L940.6,222.3 L941.8,225.0 L943.2,228.0 L944.6,231.4 L946.0,235.1 L947.5,238.9 L948.9,242.7 L950.3,246.6 L951.6,250.4 L952.9,254.2 L954.1,258.1 L955.2,262.0 L956.4,266.0 L957.5,270.0 L958.7,274.0 L959.8,277.9 L961.0,281.7 L962.2,285.5 L963.5,289.6 L964.7,293.6 L966.0,297.6 L967.2,301.3 L968.4,304.7 L969.4,307.6 L970.4,309.9 L971.2,311.5 L971.8,312.6 L972.4,313.1 L972.8,313.4 L973.3,313.3 L973.8,313.2 L974.4,313.0 L975.1,313.0 L975.9,312.9 L976.8,312.7 L977.7,312.4 L978.7,311.9 L979.7,311.5 L980.8,311.1 L981.8,310.8 L982.9,310.7 L984.0,310.7 L985.2,310.9 L986.4,311.1 L987.6,311.4 L988.8,311.7 L990.0,311.9 L991.2,312.2 L992.3,312.3 L993.2,312.4 L993.8,312.5 L994.3,312.6 L994.8,312.7 L995.5,312.7 L996.5,312.6 L998.0,312.4 L1000.0,312.0 L1002.7,311.3 L1006.1,310.2 L1009.9,309.0 L1014.0,307.7 L1018.3,306.4 L1022.5,305.3 L1026.6,304.6 L1030.3,304.4 L1033.8,304.8 L1037.2,305.7 L1040.5,306.9 L1043.7,308.4 L1046.9,309.9 L1049.9,311.2 L1052.8,312.3 L1055.6,312.8 L1058.1,312.8 L1060.4,312.3 L1062.5,311.6 L1064.5,310.7 L1066.4,309.8 L1068.5,309.0 L1070.8,308.5 L1073.3,308.3 L1076.1,308.6 L1079.1,309.4 L1082.3,310.5 L1085.6,311.6 L1089.0,312.7 L1092.3,313.6 L1095.5,314.1 L1098.6,314.1 L1101.6,313.5 L1104.7,312.3 L1107.7,310.8 L1110.6,309.1 L1113.5,307.4 L1116.3,305.7 L1118.9,304.3 L1121.4,303.2 L1123.6,302.5 L1125.4,302.0 L1127.1,301.6 L1128.6,301.3 L1130.2,301.2 L1132.0,301.1 L1134.1,301.1 L1136.5,301.2 L1139.4,301.3 L1142.6,301.6 L1146.1,302.0 L1149.8,302.4 L1153.5,302.9 L1157.2,303.4 L1160.9,303.9 L1164.3,304.4 L1167.5,304.9 L1170.5,305.4 L1173.4,305.9 L1176.3,306.4 L1179.3,306.9 L1182.4,307.4 L1185.8,307.9 L1189.6,308.3 L1193.7,308.6 L1198.0,308.9 L1202.5,309.2 L1207.3,309.4 L1212.2,309.7 L1217.2,309.9 L1222.3,310.1 L1227.6,310.3 L1233.3,310.5 L1239.8,310.8 L1246.5,311.0 L1253.3,311.3 L1259.8,311.5 L1265.7,311.7 L1270.6,311.9 L1274.3,312.0" stroke="#e8b68c" stroke-width="3.6" fill="none" stroke-linejoin="round" stroke-linecap="round"/>
<path d="M752.0,428.1 L752.9,427.8 L754.1,427.4 L755.5,426.9 L757.0,426.4 L758.7,425.9 L760.4,425.5 L762.1,425.2 L763.8,425.0 L765.5,425.1 L767.2,425.3 L768.9,425.7 L770.7,426.2 L772.5,426.6 L774.3,427.0 L776.1,427.2 L777.9,427.3 L779.7,427.1 L781.4,426.8 L783.1,426.3 L784.9,425.7 L786.6,425.1 L788.4,424.7 L790.2,424.3 L792.0,424.2 L793.8,424.4 L795.7,424.8 L797.5,425.4 L799.4,426.1 L801.3,426.7 L803.3,427.2 L805.4,427.4 L807.6,427.3 L809.9,426.7 L812.4,425.6 L814.9,424.2 L817.5,422.7 L820.1,421.2 L822.8,419.9 L825.4,419.0 L828.0,418.7 L830.6,419.0 L833.2,420.0 L835.8,421.2 L838.3,422.8 L840.9,424.3 L843.4,425.7 L845.9,426.7 L848.3,427.3 L850.6,427.3 L852.9,426.8 L855.0,426.1 L857.2,425.1 L859.3,424.2 L861.4,423.4 L863.4,422.8 L865.5,422.6 L867.5,422.9 L869.6,423.6 L871.6,424.5 L873.5,425.6 L875.5,426.6 L877.4,427.5 L879.3,428.0 L881.2,428.1 L883.1,427.7 L884.9,426.9 L886.7,425.7 L888.6,424.4 L890.3,423.1 L892.0,421.7 L893.7,420.5 L895.3,419.5 L896.8,418.8 L898.3,418.2 L899.8,417.7 L901.1,417.3 L902.5,416.9 L903.8,416.3 L905.0,415.7 L906.2,414.8 L907.3,413.8 L908.4,412.9 L909.3,411.9 L910.3,410.8 L911.2,409.5 L912.1,407.9 L913.0,406.0 L914.0,403.8 L915.0,401.1 L916.0,398.0 L917.0,394.6 L918.0,391.0 L918.9,387.2 L919.9,383.3 L920.9,379.4 L921.9,375.6 L922.9,371.8 L923.9,367.9 L924.8,363.9 L925.8,359.9 L926.8,355.8 L927.8,351.9 L928.7,348.0 L929.7,344.3 L930.7,340.7 L931.7,337.0 L932.6,333.4 L933.6,329.8 L934.6,326.4 L935.6,323.2 L936.5,320.3 L937.5,317.7 L938.5,315.4 L939.4,313.3 L940.4,311.4 L941.4,309.8 L942.4,308.4 L943.3,307.1 L944.3,306.1 L945.3,305.2 L946.3,304.5 L947.3,304.0 L948.3,303.7 L949.2,303.6 L950.2,303.7 L951.2,304.0 L952.2,304.5 L953.2,305.2 L954.2,306.1 L955.2,307.1 L956.1,308.3 L957.1,309.7 L958.1,311.3 L959.1,313.2 L960.0,315.3 L961.0,317.7 L962.0,320.4 L962.9,323.5 L963.9,326.9 L964.9,330.5 L965.9,334.3 L966.8,338.2 L967.8,342.0 L968.8,345.9 L969.8,349.8 L970.8,353.9 L971.8,358.0 L972.7,362.3 L973.7,366.5 L974.7,370.7 L975.7,374.8 L976.7,378.8 L977.7,382.8 L978.7,386.9 L979.6,391.0 L980.6,395.0 L981.6,398.9 L982.6,402.5 L983.5,405.7 L984.5,408.5 L985.5,410.8 L986.4,412.8 L987.4,414.4 L988.3,415.8 L989.3,416.9 L990.2,417.9 L991.2,418.7 L992.3,419.5 L993.4,420.1 L994.4,420.5 L995.4,420.6 L996.5,420.6 L997.6,420.6 L998.8,420.6 L1000.2,420.7 L1001.7,421.0 L1003.4,421.5 L1005.3,422.2 L1007.3,422.9 L1009.3,423.7 L1011.5,424.5 L1013.6,425.1 L1015.7,425.6 L1017.7,425.8 L1019.5,425.7 L1021.0,425.4 L1022.5,424.9 L1023.9,424.3 L1025.6,423.6 L1027.5,423.0 L1029.9,422.4 L1032.9,422.0 L1036.6,421.7 L1041.0,421.3 L1045.8,421.0 L1051.0,420.7 L1056.2,420.5 L1061.4,420.4 L1066.3,420.5 L1070.8,420.8 L1074.9,421.5 L1078.7,422.6 L1082.4,424.0 L1085.9,425.5 L1089.4,426.9 L1092.8,427.9 L1096.3,428.4 L1099.9,428.3 L1103.5,427.2 L1107.2,425.4 L1110.8,423.0 L1114.5,420.2 L1118.1,417.5 L1121.7,415.0 L1125.3,413.1 L1128.9,411.9 L1132.5,411.6 L1136.1,411.9 L1139.8,412.6 L1143.4,413.7 L1146.9,414.8 L1150.4,415.8 L1153.7,416.6 L1156.8,417.0 L1159.7,417.0 L1162.5,416.7 L1165.0,416.3 L1167.5,415.8 L1169.9,415.2 L1172.3,414.5 L1174.6,413.9 L1177.0,413.2 L1179.3,412.4 L1181.4,411.3 L1183.4,410.1 L1185.4,408.9 L1187.4,407.9 L1189.6,407.1 L1192.0,406.7 L1194.7,406.9 L1197.7,407.8 L1201.1,409.3 L1204.7,411.2 L1208.4,413.5 L1212.2,415.7 L1215.8,417.8 L1219.3,419.6 L1222.5,420.8 L1225.5,421.4 L1228.3,421.7 L1231.1,421.7 L1233.7,421.4 L1236.2,421.1 L1238.5,420.9 L1240.7,420.7 L1242.7,420.8 L1244.4,421.1 L1245.7,421.6 L1246.7,422.2 L1247.7,422.8 L1248.6,423.4 L1249.7,423.9 L1251.1,424.3 L1252.8,424.6 L1255.1,424.7 L1257.9,424.6 L1261.0,424.4 L1264.2,424.2 L1267.3,423.9 L1270.2,423.7 L1272.6,423.4 L1274.3,423.3" stroke="#e57e2c" stroke-width="3.6" fill="none" stroke-linejoin="round" stroke-linecap="round"/>
<rect x="750.00" y="22.50" width="525.00" height="407.00" stroke="#000" stroke-width="3" fill="none"/>
<line x1="750.00" y1="429.50" x2="750.00" y2="442.50" stroke="#000" stroke-width="3"/>
<line x1="837.50" y1="429.50" x2="837.50" y2="442.50" stroke="#000" stroke-width="3"/>
<line x1="925.00" y1="429.50" x2="925.00" y2="442.50" stroke="#000" stroke-width="3"/>
<line x1="1012.50" y1="429.50" x2="1012.50" y2="442.50" stroke="#000" stroke-width="3"/>
<line x1="1100.00" y1="429.50" x2="1100.00" y2="442.50" stroke="#000" stroke-width="3"/>
<line x1="1187.50" y1="429.50" x2="1187.50" y2="442.50" stroke="#000" stroke-width="3"/>
<line x1="1275.00" y1="429.50" x2="1275.00" y2="442.50" stroke="#000" stroke-width="3"/>
<line x1="793.75" y1="429.50" x2="793.75" y2="436.50" stroke="#000" stroke-width="3"/>
<line x1="881.25" y1="429.50" x2="881.25" y2="436.50" stroke="#000" stroke-width="3"/>
<line x1="968.75" y1="429.50" x2="968.75" y2="436.50" stroke="#000" stroke-width="3"/>
<line x1="1056.25" y1="429.50" x2="1056.25" y2="436.50" stroke="#000" stroke-width="3"/>
<line x1="1143.75" y1="429.50" x2="1143.75" y2="436.50" stroke="#000" stroke-width="3"/>
<line x1="1231.25" y1="429.50" x2="1231.25" y2="436.50" stroke="#000" stroke-width="3"/>
<text font-size="31" text-anchor="middle" transform="translate(750.0,479.0) scale(1.04,1)" fill="#000">0</text>
<text font-size="31" text-anchor="middle" transform="translate(837.5,479.0) scale(1.04,1)" fill="#000">1</text>
<text font-size="31" text-anchor="middle" transform="translate(925.0,479.0) scale(1.04,1)" fill="#000">2</text>
<text font-size="31" text-anchor="middle" transform="translate(1012.5,479.0) scale(1.04,1)" fill="#000">3</text>
<text font-size="31" text-anchor="middle" transform="translate(1100.0,479.0) scale(1.04,1)" fill="#000">4</text>
<text font-size="31" text-anchor="middle" transform="translate(1187.5,479.0) scale(1.04,1)" fill="#000">5</text>
<text font-size="31" text-anchor="middle" transform="translate(1275.0,479.0) scale(1.04,1)" fill="#000">6</text>
<text font-size="37" text-anchor="middle" transform="translate(1012.5,525.0) scale(1.04,1)" fill="#000">R (Å)</text>
<text font-size="37" text-anchor="middle" transform="translate(717.5,230.0) rotate(-90) scale(1.04,1)" fill="#000">|FT(k<tspan font-size="26" dy="-14.5">3</tspan><tspan dy="14.5">X(k))| (Å</tspan><tspan font-size="26" dy="-14.5">-4</tspan><tspan dy="14.5">)</tspan></text>
<text font-size="62" text-anchor="start" font-weight="bold" transform="translate(686.5,46.0) scale(1.05,1)" fill="#000">b</text>
<line x1="927.60" y1="24.00" x2="927.60" y2="61.70" stroke="#000" stroke-width="3" stroke-dasharray="6,5"/>
<line x1="931.20" y1="86.90" x2="931.20" y2="124.70" stroke="#000" stroke-width="3" stroke-dasharray="6,5"/>
<line x1="931.00" y1="190.20" x2="931.00" y2="227.00" stroke="#000" stroke-width="3" stroke-dasharray="6,5"/>
<line x1="950.80" y1="289.60" x2="950.80" y2="326.30" stroke="#000" stroke-width="3" stroke-dasharray="6,5"/>
<line x1="890.80" y1="35.20" x2="899.17" y2="32.20" stroke="#000" stroke-width="2.5"/>
<path d="M906.7,29.5 L899.7,36.8 L896.7,28.3Z" fill="#000"/>
<line x1="906.00" y1="106.10" x2="914.98" y2="103.23" stroke="#000" stroke-width="2.5"/>
<path d="M922.6,100.8 L915.4,107.8 L912.7,99.3Z" fill="#000"/>
<line x1="907.00" y1="206.60" x2="915.71" y2="204.10" stroke="#000" stroke-width="2.5"/>
<path d="M923.4,201.9 L916.0,208.7 L913.5,200.1Z" fill="#000"/>
<line x1="923.40" y1="304.40" x2="932.88" y2="301.81" stroke="#000" stroke-width="2.5"/>
<path d="M940.6,299.7 L933.1,306.4 L930.7,297.7Z" fill="#000"/>
<text font-size="31" text-anchor="start" transform="translate(810.6,56.4) scale(1.01,1)" fill="#000">Zn-Br</text>
<text font-size="31" text-anchor="start" transform="translate(831.8,134.6) scale(1.01,1)" fill="#000">Zn-Br</text>
<text font-size="31" text-anchor="start" transform="translate(835.0,233.5) scale(1.01,1)" fill="#000">Zn-Br</text>
<text font-size="31" text-anchor="start" transform="translate(849.9,335.7) scale(1.02,1)" fill="#000">Zn-Zn</text>
<text font-size="31" text-anchor="end" transform="translate(1270.0,91.6) scale(1.02,1)" fill="#000">ZnBr<tspan font-size="22" dy="8">2</tspan></text>
<text font-size="31" text-anchor="end" transform="translate(1270.5,187.4) scale(1.02,1)" fill="#000">PipZnBr<tspan font-size="22" dy="8">4</tspan><tspan dy="-8"> after cycle</tspan></text>
<text font-size="31" text-anchor="end" transform="translate(1270.0,285.0) scale(1.02,1)" fill="#000">PipZnBr<tspan font-size="22" dy="8">4</tspan></text>
<text font-size="31" text-anchor="end" transform="translate(1269.0,393.0) scale(1.02,1)" fill="#000">Zn-foil</text>
<defs><clipPath id="cclip"><rect x="1470.3" y="22.5" width="395.7" height="407.5"/></clipPath></defs>
<g clip-path="url(#cclip)"><rect x="1470" y="22" width="397" height="409" fill="#1600ff"/>
<path d="M1677.2,413.7 1732.8,414.3 1782.5,413.3 1824.3,411.1 1855.5,407.5 1866.0,405.1 1866.0,396.7 1843.4,391.1 1837.8,389.1 1841.1,387.0 1866.0,384.0 1866.0,378.2 1816.3,381.4 1788.5,382.1 1669.2,382.6 1597.7,381.7 1544.0,378.2 1518.2,375.3 1504.7,372.7 1498.9,370.6 1497.2,368.6 1499.3,366.5 1505.5,364.5 1516.4,362.4 1533.4,360.4 1595.7,357.2 1627.5,356.9 1669.2,357.4 1691.1,358.2 1804.4,357.5 1866.0,360.0 1866.0,357.4 1828.2,356.2 1788.5,355.8 1691.1,356.9 1669.2,356.0 1595.7,355.7 1524.7,358.3 1497.8,360.4 1470.5,363.8 1470.5,374.8 1494.3,378.6 1522.2,381.9 1573.8,386.7 1584.2,389.1 1584.1,391.1 1569.0,397.2 1566.1,399.3 1566.1,401.3 1567.9,402.5 1575.7,405.4 1589.7,408.0 1611.6,410.4 1641.4,412.3 1675.4,413.6ZM1698.3,405.4 1674.1,403.4 1667.1,401.3 1673.0,399.3 1709.0,396.9 1750.7,397.1 1774.1,399.3 1779.1,401.3 1773.0,403.4 1754.7,405.2 1742.8,405.7 1720.9,406.0 1699.1,405.5ZM1571.9,342.0 1595.7,343.4 1627.5,343.7 1675.2,343.0 1691.1,342.0 1790.5,342.1 1830.2,340.6 1866.0,337.7 1866.0,328.5 1860.6,331.7 1856.1,333.6 1847.1,335.8 1832.2,338.0 1806.4,340.0 1760.7,341.0 1691.1,341.0 1669.2,342.1 1627.5,342.7 1597.7,342.4 1550.0,339.7 1528.0,337.9 1516.9,335.8 1510.5,333.8 1506.3,331.7 1504.0,329.7 1502.9,327.6 1503.0,319.4 1502.2,315.4 1495.4,303.1 1492.9,294.9 1492.9,286.7 1495.3,278.5 1499.2,272.4 1506.3,265.3 1530.1,246.2 1534.1,243.6 1540.1,240.8 1556.0,234.9 1571.9,231.2 1583.8,225.6 1595.7,221.7 1625.5,219.8 1631.5,220.2 1669.2,227.0 1691.1,241.0 1699.1,239.5 1702.8,237.6 1705.1,235.5 1708.7,229.4 1710.3,223.2 1711.6,213.0 1712.2,198.7 1711.8,190.5 1710.4,182.3 1703.4,161.8 1702.9,155.7 1704.1,147.5 1710.2,127.0 1713.8,118.8 1716.9,113.7 1720.9,109.1 1724.9,105.9 1736.8,99.3 1740.7,96.3 1743.8,92.2 1745.8,88.1 1747.5,82.0 1748.6,73.8 1750.2,41.0 1752.0,22.6 1744.0,22.6 1740.8,64.1 1738.9,73.8 1736.8,79.3 1732.8,84.7 1718.9,94.6 1715.0,98.2 1711.0,102.8 1706.2,110.6 1697.1,131.5 1693.1,138.0 1689.1,142.0 1683.2,145.2 1677.2,146.6 1659.3,149.2 1651.3,151.6 1644.3,155.7 1641.2,159.8 1640.8,163.9 1641.5,165.9 1645.3,170.0 1649.4,172.4 1655.3,174.5 1663.3,176.1 1681.2,176.9 1687.1,177.9 1693.1,180.3 1697.9,184.3 1700.7,188.4 1702.4,192.5 1703.7,198.7 1704.1,204.8 1703.6,213.0 1702.3,219.1 1700.7,223.2 1697.6,227.3 1694.6,229.4 1691.1,230.7 1685.1,227.1 1669.2,215.7 1631.5,207.6 1621.5,207.1 1595.7,208.0 1583.8,210.9 1571.9,215.0 1557.9,216.8 1548.0,218.9 1538.1,221.8 1532.1,224.2 1524.2,229.3 1518.2,234.5 1500.3,254.5 1492.4,265.8 1487.7,276.5 1485.2,284.6 1484.6,288.7 1485.2,296.9 1489.5,313.3 1488.9,319.4 1485.8,327.6 1486.3,329.7 1487.8,331.7 1490.7,333.8 1496.4,335.8 1507.9,337.9 1532.1,340.4 1570.2,342.0ZM1695.1,321.6 1701.0,321.4 1707.4,319.4 1703.0,318.2 1697.1,317.6 1691.1,318.1 1687.0,319.4 1691.1,321.2 1693.4,321.5ZM1692.8,319.4 1700.2,319.4 1693.1,319.5ZM1866.0,270.9 1866.0,240.0 1860.0,224.9 1849.0,190.5 1842.9,176.1 1835.8,163.9 1826.4,151.6 1816.3,141.5 1795.5,125.0 1790.8,118.8 1788.0,112.7 1785.9,104.5 1784.3,92.2 1782.3,43.1 1780.8,22.6 1772.8,22.6 1774.1,34.9 1775.0,51.3 1775.3,104.5 1776.6,116.0 1778.8,125.0 1782.5,133.1 1786.5,138.5 1791.5,143.4 1804.5,153.6 1812.3,160.7 1818.7,168.0 1825.8,178.2 1831.1,188.4 1835.7,200.7 1839.1,213.0 1845.2,239.6 1849.2,251.9 1852.5,258.0 1855.6,262.1 1859.7,266.2 1864.9,270.3ZM1705.0,266.3 1711.0,267.7 1716.9,268.2 1722.9,267.7 1726.9,266.6 1730.0,264.2 1729.3,262.1 1724.9,259.7 1715.0,257.9 1709.0,258.2 1705.0,259.1 1703.0,260.1 1701.2,262.1 1701.7,264.2 1704.9,266.2ZM1708.3,266.2 1704.7,264.2 1704.5,262.1 1707.0,260.4 1713.0,259.2 1722.1,260.1 1726.9,262.2 1727.7,264.2 1725.1,266.2 1720.9,267.1 1716.9,267.2 1709.0,266.4Z" fill="#2c18ff" stroke="#2c18ff" stroke-width="1" fill-rule="evenodd"/>
<path d="M1699.1,405.5 1720.9,406.0 1742.8,405.7 1754.7,405.2 1773.0,403.4 1779.1,401.3 1774.1,399.3 1750.7,397.1 1709.0,396.9 1673.0,399.3 1667.1,401.3 1674.1,403.4 1698.3,405.4ZM1585.8,381.0 1619.6,382.2 1667.3,382.6 1750.7,382.5 1806.4,381.8 1866.0,378.2 1866.0,373.9 1826.3,377.4 1782.5,378.9 1669.2,379.5 1627.5,379.1 1595.7,378.2 1559.9,375.5 1544.0,373.7 1537.1,372.7 1529.2,370.6 1526.5,368.6 1528.2,366.5 1536.1,364.2 1548.3,362.4 1579.8,360.0 1597.7,358.9 1627.5,358.4 1669.2,358.7 1691.1,359.6 1796.4,359.2 1829.7,360.4 1866.0,363.6 1866.0,360.0 1806.4,357.5 1691.1,358.2 1669.2,357.4 1627.5,356.9 1595.7,357.2 1534.1,360.3 1516.4,362.4 1505.5,364.5 1499.3,366.5 1497.2,368.6 1498.9,370.6 1508.3,373.4 1529.0,376.8 1548.0,378.5 1583.9,380.9ZM1589.7,342.0 1627.5,342.7 1669.2,342.1 1691.1,341.0 1760.7,341.0 1806.4,340.0 1832.2,338.0 1847.1,335.8 1856.1,333.6 1860.6,331.7 1866.0,328.5 1866.0,313.5 1846.7,327.6 1838.4,331.7 1832.6,333.8 1823.5,335.8 1806.4,338.0 1762.7,339.6 1691.1,340.0 1669.2,341.2 1627.5,341.7 1595.7,341.2 1550.2,337.9 1532.1,335.5 1525.9,333.8 1520.2,330.7 1517.6,327.6 1516.0,319.4 1514.3,315.4 1512.2,312.3 1504.3,304.1 1500.3,296.9 1499.4,292.8 1499.3,288.7 1500.2,284.6 1502.0,280.6 1506.9,274.4 1520.2,263.7 1534.1,255.4 1554.0,247.9 1571.9,242.7 1583.8,235.8 1595.7,231.0 1613.6,229.0 1629.5,228.0 1669.2,234.4 1691.1,247.7 1701.0,246.7 1705.0,245.1 1709.0,242.2 1711.1,239.6 1713.0,236.1 1714.9,229.4 1717.2,204.8 1717.7,192.5 1717.5,182.3 1713.5,155.7 1713.7,147.5 1715.0,139.3 1718.9,127.6 1721.6,122.9 1724.9,119.0 1730.9,114.7 1742.8,110.0 1746.8,108.0 1750.9,104.5 1754.6,98.3 1756.1,92.2 1756.6,86.1 1755.9,57.4 1756.3,41.0 1757.4,30.8 1759.3,22.6 1752.0,22.6 1750.2,41.0 1748.4,75.8 1747.0,84.0 1744.9,90.2 1742.5,94.3 1738.8,97.9 1724.9,105.9 1720.9,109.1 1716.9,113.7 1713.8,118.8 1711.0,125.0 1704.6,145.4 1703.1,153.6 1703.1,159.8 1703.9,163.9 1709.0,177.3 1710.9,184.3 1712.2,198.7 1711.6,213.0 1710.3,223.2 1708.7,229.4 1707.0,233.0 1705.0,235.6 1702.8,237.6 1699.1,239.5 1691.1,241.0 1669.2,227.0 1629.5,219.9 1613.6,220.3 1595.7,221.7 1583.8,225.6 1571.9,231.2 1559.9,233.8 1550.0,236.8 1534.1,243.6 1524.2,250.7 1504.3,267.0 1500.3,271.0 1496.3,276.5 1493.2,284.6 1492.7,288.7 1492.9,294.9 1495.4,303.1 1502.2,315.4 1503.0,319.4 1502.9,327.6 1504.0,329.7 1506.3,331.7 1510.5,333.8 1516.9,335.8 1528.0,337.9 1548.0,339.6 1589.2,342.0ZM1687.1,321.6 1697.1,322.4 1708.3,321.5 1712.1,319.4 1706.7,317.4 1697.1,316.8 1687.9,317.4 1683.3,319.4 1686.8,321.5ZM1693.4,321.5 1691.1,321.2 1687.0,319.4 1691.1,318.1 1697.1,317.6 1703.0,318.2 1707.4,319.4 1701.0,321.4 1695.1,321.6ZM1866.0,281.5 1866.0,270.9 1862.1,268.3 1855.6,262.1 1851.2,256.0 1848.4,249.8 1844.6,237.6 1839.1,213.0 1835.7,200.7 1832.0,190.5 1827.0,180.2 1820.3,170.0 1812.3,160.7 1804.5,153.6 1791.5,143.4 1786.5,138.5 1782.5,133.1 1778.8,125.0 1776.6,116.0 1775.3,104.5 1775.0,51.3 1774.1,34.9 1772.8,22.6 1765.5,22.6 1766.6,26.4 1767.9,34.9 1768.9,53.3 1768.2,69.7 1765.5,96.3 1765.4,104.5 1767.3,118.8 1770.1,129.1 1773.7,137.2 1779.3,145.4 1785.4,151.6 1800.4,163.8 1806.8,170.0 1813.6,178.2 1819.8,188.4 1824.3,198.7 1827.4,208.9 1830.0,221.2 1834.2,248.5 1836.2,256.0 1838.2,260.4 1841.0,264.2 1845.6,268.3 1864.3,280.6ZM1709.0,268.3 1716.9,268.9 1722.9,268.5 1726.9,267.6 1730.9,265.7 1732.0,264.2 1730.9,261.6 1726.9,259.3 1718.9,257.0 1713.0,256.3 1707.0,256.5 1703.0,257.3 1698.6,260.1 1697.8,262.1 1698.8,264.2 1701.7,266.2 1708.8,268.3ZM1704.9,266.2 1701.7,264.2 1701.2,262.1 1703.0,260.1 1705.0,259.1 1709.0,258.2 1715.0,257.9 1724.9,259.7 1729.3,262.1 1730.0,264.2 1726.9,266.6 1722.9,267.7 1716.9,268.2 1711.0,267.7 1705.0,266.3Z" fill="#3a28ff" stroke="#3a28ff" stroke-width="1" fill-rule="evenodd"/>
<path d="M1617.6,378.9 1669.2,379.5 1784.5,378.9 1820.3,377.8 1858.1,374.9 1866.0,373.9 1866.0,363.6 1834.2,360.7 1806.4,359.4 1691.1,359.6 1669.2,358.7 1621.5,358.5 1595.7,358.9 1548.3,362.4 1534.5,364.5 1528.2,366.5 1526.5,368.6 1529.2,370.6 1534.1,372.0 1546.0,374.0 1561.9,375.6 1593.7,378.0 1616.3,378.8ZM1641.0,376.8 1593.7,375.1 1575.8,373.2 1560.1,370.6 1555.7,368.6 1557.8,366.5 1567.2,364.5 1581.8,362.4 1597.7,361.0 1627.5,360.2 1669.2,360.3 1691.1,361.2 1790.5,361.1 1821.3,362.4 1840.8,364.5 1851.6,366.5 1855.0,368.6 1851.8,370.6 1841.0,372.7 1832.2,373.7 1806.4,375.6 1758.7,376.8 1641.4,376.8ZM1579.8,340.1 1597.7,341.3 1627.5,341.7 1669.2,341.2 1691.1,340.0 1764.6,339.6 1807.4,337.9 1826.3,335.3 1832.6,333.8 1840.2,331.0 1848.1,326.7 1866.0,313.5 1866.0,302.1 1861.5,307.2 1856.2,311.3 1838.2,321.4 1830.2,327.1 1825.6,329.7 1820.5,331.7 1813.3,333.8 1798.4,336.1 1764.6,338.1 1691.1,338.8 1669.2,340.2 1627.5,340.7 1595.7,340.1 1553.5,335.8 1542.3,333.8 1534.1,330.9 1530.0,327.6 1525.4,317.4 1509.9,301.0 1506.5,294.9 1505.9,290.8 1506.4,286.7 1509.6,280.6 1518.2,271.6 1528.1,265.2 1534.1,262.2 1544.0,258.8 1571.9,251.2 1585.8,243.0 1595.7,238.5 1609.6,236.3 1629.5,234.5 1669.2,240.3 1681.2,246.7 1691.1,253.8 1693.1,254.5 1694.7,256.0 1693.8,260.1 1694.1,262.1 1695.6,264.2 1698.6,266.2 1707.0,268.8 1716.9,269.6 1726.9,268.5 1732.5,266.2 1734.0,264.2 1733.5,262.1 1731.1,260.1 1724.9,257.3 1713.0,253.9 1709.6,251.9 1710.5,249.8 1713.9,245.7 1716.3,241.7 1718.3,235.5 1719.3,229.4 1722.7,184.3 1722.7,174.1 1721.5,153.6 1721.9,147.5 1722.9,141.3 1726.2,133.2 1730.9,127.7 1736.8,124.8 1742.8,123.9 1750.7,124.8 1754.7,127.0 1756.7,128.8 1767.0,143.4 1773.9,151.6 1780.4,157.7 1797.6,172.0 1806.7,182.3 1810.8,188.4 1814.0,194.6 1819.2,208.9 1822.0,223.2 1824.8,251.9 1826.1,258.0 1827.9,262.1 1830.8,266.2 1835.2,270.3 1858.1,284.3 1862.0,287.8 1866.0,292.4 1866.0,281.5 1845.6,268.3 1840.2,263.1 1837.0,258.0 1834.1,247.8 1830.0,221.2 1827.4,208.9 1823.5,196.6 1817.6,184.3 1812.0,176.1 1804.8,168.0 1785.4,151.6 1779.3,145.4 1774.8,139.3 1770.8,131.1 1767.3,118.8 1765.4,104.5 1765.5,96.3 1768.2,69.7 1768.9,53.3 1767.9,34.9 1766.6,26.4 1765.5,22.6 1759.3,22.6 1757.4,30.8 1756.5,39.0 1755.9,51.3 1756.5,88.1 1755.8,94.3 1753.7,100.4 1750.9,104.5 1746.8,108.0 1742.8,110.0 1730.9,114.7 1724.9,119.0 1721.6,122.9 1719.2,127.0 1715.5,137.2 1713.9,145.4 1713.4,153.6 1713.8,159.8 1716.8,176.1 1717.6,184.3 1717.7,194.6 1717.0,208.9 1715.8,223.2 1714.4,231.4 1712.3,237.6 1709.0,242.2 1705.0,245.1 1701.0,246.7 1691.1,247.7 1669.2,234.4 1629.5,228.0 1615.6,228.8 1597.7,230.6 1585.8,234.9 1571.9,242.7 1552.0,248.5 1532.1,256.4 1524.2,261.0 1516.2,266.6 1506.9,274.4 1502.0,280.6 1500.2,284.6 1499.3,288.7 1499.4,292.8 1500.3,296.9 1504.3,304.1 1512.2,312.3 1514.3,315.4 1516.0,319.4 1517.6,327.6 1519.0,329.7 1521.6,331.7 1525.9,333.8 1534.1,335.9 1550.2,337.9 1578.0,339.9ZM1708.8,268.3 1701.7,266.2 1698.8,264.2 1697.8,262.1 1698.6,260.1 1703.0,257.3 1707.0,256.5 1713.0,256.3 1718.9,257.0 1726.9,259.3 1730.9,261.6 1732.0,264.2 1730.9,265.7 1726.9,267.6 1722.9,268.5 1716.9,268.9 1709.0,268.3ZM1683.2,321.6 1689.1,322.8 1695.1,323.2 1709.0,322.4 1713.6,321.5 1716.2,319.4 1712.0,317.4 1699.1,316.1 1687.1,316.8 1683.8,317.4 1679.9,319.4 1682.7,321.5ZM1686.8,321.5 1683.3,319.4 1687.9,317.4 1697.1,316.8 1706.7,317.4 1712.1,319.4 1708.3,321.5 1697.1,322.4 1687.1,321.6Z" fill="#4938ff" stroke="#4938ff" stroke-width="1" fill-rule="evenodd"/>
<path d="M1641.4,376.8 1758.7,376.8 1806.4,375.6 1832.2,373.7 1841.0,372.7 1851.8,370.6 1855.0,368.6 1851.6,366.5 1840.8,364.5 1821.3,362.4 1790.5,361.1 1691.1,361.2 1669.2,360.3 1627.5,360.2 1597.7,361.0 1581.8,362.4 1567.2,364.5 1557.8,366.5 1555.7,368.6 1560.1,370.6 1575.8,373.2 1593.7,375.1 1641.0,376.8ZM1662.0,374.7 1619.6,373.5 1605.0,372.7 1591.7,371.1 1588.9,370.6 1583.9,368.6 1585.6,366.5 1595.7,364.3 1629.5,362.4 1669.2,362.2 1691.1,363.2 1758.7,362.9 1802.4,364.1 1821.4,366.5 1825.4,368.6 1824.3,369.1 1820.7,370.6 1808.4,372.3 1788.5,373.5 1750.7,374.6 1663.3,374.7ZM1593.7,339.9 1627.5,340.7 1669.2,340.2 1691.1,338.8 1764.6,338.1 1786.5,337.0 1802.4,335.7 1814.3,333.5 1820.5,331.7 1826.3,329.3 1838.2,321.4 1856.2,311.3 1861.5,307.2 1866.0,302.1 1866.0,292.4 1862.0,287.8 1854.1,281.6 1837.9,272.4 1832.2,267.6 1827.9,262.1 1826.1,258.0 1824.8,251.9 1822.0,223.2 1819.2,208.9 1815.0,196.6 1808.4,184.6 1803.5,178.2 1798.4,172.8 1778.6,156.1 1772.0,149.5 1756.7,128.8 1752.7,125.6 1746.8,124.0 1738.8,124.3 1734.8,125.4 1731.9,127.0 1728.9,129.5 1726.9,132.0 1723.5,139.3 1722.1,145.4 1721.6,151.6 1722.7,182.3 1719.3,229.4 1718.3,235.5 1716.3,241.7 1713.9,245.7 1710.5,249.8 1709.6,251.9 1713.0,253.9 1724.9,257.3 1731.1,260.1 1733.5,262.1 1734.0,264.2 1732.5,266.2 1726.9,268.5 1718.9,269.6 1711.0,269.3 1703.0,267.8 1698.6,266.2 1695.6,264.2 1694.1,262.1 1693.8,260.1 1694.7,256.0 1693.1,254.5 1691.1,253.8 1681.2,246.7 1671.2,241.1 1669.2,240.3 1627.5,234.5 1607.6,236.6 1595.7,238.5 1585.8,243.0 1571.9,251.2 1552.0,256.4 1534.1,262.2 1528.1,265.2 1520.2,270.1 1515.1,274.4 1509.6,280.6 1507.1,284.6 1506.0,288.7 1506.0,292.8 1507.3,296.9 1509.9,301.0 1514.2,305.9 1525.4,317.4 1528.9,325.6 1532.0,329.7 1535.8,331.7 1542.0,333.7 1552.0,335.6 1593.3,339.9ZM1586.3,337.9 1556.0,332.7 1548.0,330.0 1544.3,327.6 1538.5,319.4 1520.2,305.4 1514.8,299.0 1513.1,294.9 1512.5,288.7 1513.6,284.6 1516.2,280.0 1519.4,276.5 1524.2,272.6 1534.1,267.1 1554.0,261.1 1571.9,257.1 1587.8,248.5 1595.7,244.8 1607.6,242.6 1627.5,240.0 1669.2,245.4 1671.2,246.1 1681.2,251.4 1685.1,254.2 1687.1,256.1 1690.2,262.1 1691.9,264.2 1695.3,266.2 1701.0,268.4 1711.0,270.1 1720.9,270.2 1728.9,268.9 1734.7,266.2 1736.0,264.2 1734.8,261.4 1730.9,258.5 1720.7,253.9 1718.4,251.9 1718.1,249.8 1721.1,241.7 1722.6,233.5 1724.6,204.8 1730.5,151.6 1732.7,145.4 1734.8,142.5 1738.8,139.9 1742.8,139.3 1748.7,140.8 1754.7,144.8 1769.7,157.7 1790.5,174.5 1798.2,182.3 1802.9,188.4 1806.6,194.6 1809.5,200.7 1813.3,213.0 1815.4,227.3 1816.4,253.9 1818.3,262.1 1820.9,266.2 1825.0,270.3 1834.1,276.5 1848.4,284.6 1854.1,289.2 1856.8,292.8 1858.0,296.9 1857.0,301.0 1855.7,303.1 1852.1,306.6 1848.1,309.2 1828.0,319.4 1813.6,327.6 1802.6,331.7 1792.3,333.8 1776.6,335.4 1758.7,336.5 1691.1,337.6 1669.2,339.1 1627.5,339.7 1597.7,338.9 1587.8,338.0ZM1689.1,323.7 1705.0,323.8 1713.0,322.9 1718.4,321.5 1720.4,319.4 1716.6,317.4 1711.0,316.4 1703.0,315.6 1693.1,315.5 1680.2,317.4 1676.5,319.4 1679.0,321.5 1688.3,323.5ZM1682.7,321.5 1679.9,319.4 1683.8,317.4 1687.1,316.8 1699.1,316.1 1712.0,317.4 1716.2,319.4 1713.6,321.5 1709.0,322.4 1695.1,323.2 1689.1,322.8 1683.2,321.6Z" fill="#5848ff" stroke="#5848ff" stroke-width="1" fill-rule="evenodd"/>
<path d="M1663.3,374.7 1750.7,374.6 1788.5,373.5 1808.4,372.3 1820.7,370.6 1824.3,369.1 1825.4,368.6 1821.4,366.5 1802.4,364.1 1758.7,362.9 1691.1,363.2 1669.2,362.2 1629.5,362.4 1595.7,364.3 1585.6,366.5 1583.9,368.6 1588.9,370.6 1591.7,371.1 1605.0,372.7 1619.6,373.5 1662.0,374.7ZM1632.6,370.6 1619.5,368.6 1623.7,366.5 1647.4,365.3 1669.2,364.9 1691.1,366.0 1740.8,365.7 1766.6,366.3 1784.2,368.6 1769.4,370.6 1752.7,371.4 1718.9,371.8 1691.1,371.4 1669.2,372.0 1633.5,370.7ZM1587.8,338.0 1597.7,338.9 1627.5,339.7 1669.2,339.1 1691.1,337.6 1758.7,336.5 1776.6,335.4 1792.3,333.8 1802.6,331.7 1813.6,327.6 1828.0,319.4 1848.1,309.2 1852.1,306.6 1855.7,303.1 1857.0,301.0 1858.0,296.9 1856.8,292.8 1854.1,289.2 1848.4,284.6 1834.1,276.5 1825.0,270.3 1820.9,266.2 1818.3,262.1 1816.4,253.9 1815.4,227.3 1813.3,213.0 1809.5,200.7 1806.6,194.6 1802.9,188.4 1798.2,182.3 1790.5,174.5 1769.7,157.7 1754.7,144.8 1748.7,140.8 1742.8,139.3 1738.8,139.9 1734.8,142.5 1732.7,145.4 1730.5,151.6 1724.6,204.8 1722.6,233.5 1721.1,241.7 1718.1,249.8 1718.4,251.9 1720.7,253.9 1730.9,258.5 1734.8,261.4 1736.0,264.2 1734.7,266.2 1728.9,268.9 1720.9,270.2 1711.0,270.1 1701.0,268.4 1695.3,266.2 1691.9,264.2 1690.2,262.1 1687.1,256.1 1685.1,254.2 1681.2,251.4 1671.2,246.1 1669.2,245.4 1627.5,240.0 1607.6,242.6 1595.7,244.8 1587.8,248.5 1571.9,257.1 1554.0,261.1 1534.1,267.1 1524.2,272.6 1519.4,276.5 1516.2,280.0 1513.6,284.6 1512.5,288.7 1513.1,294.9 1514.8,299.0 1520.2,305.4 1538.5,319.4 1544.3,327.6 1548.0,330.0 1556.0,332.7 1586.3,337.9ZM1604.8,337.9 1595.7,337.3 1584.7,335.8 1576.0,333.8 1563.3,329.7 1559.6,327.6 1557.4,325.6 1552.7,319.4 1549.9,317.4 1534.1,310.1 1528.1,306.5 1521.7,301.0 1517.9,294.9 1517.2,290.8 1517.7,286.7 1521.2,280.6 1526.1,276.0 1534.1,271.2 1552.0,265.6 1571.9,261.3 1595.7,250.1 1627.5,244.9 1669.2,249.8 1681.2,255.7 1691.1,266.0 1701.0,269.3 1711.0,270.8 1720.9,270.9 1728.9,269.7 1734.8,267.5 1736.8,266.2 1738.0,264.2 1737.5,262.1 1734.8,259.4 1725.5,253.9 1723.7,251.9 1723.3,249.8 1725.5,237.6 1727.5,206.9 1730.9,185.3 1735.8,165.9 1738.7,159.8 1740.8,157.2 1742.8,155.8 1746.8,154.6 1750.7,155.2 1754.7,157.0 1764.6,162.7 1774.6,169.4 1788.0,180.2 1797.0,190.5 1800.9,196.6 1803.8,202.8 1806.0,208.9 1807.9,217.1 1809.2,231.4 1808.7,256.0 1809.3,260.1 1810.7,264.2 1813.7,268.3 1818.5,272.4 1840.2,285.5 1846.1,290.1 1848.4,292.8 1849.3,294.9 1849.3,299.0 1848.3,301.0 1846.1,303.6 1842.2,306.5 1830.2,312.9 1796.9,327.6 1790.6,329.7 1781.1,331.7 1765.5,333.8 1752.7,334.7 1691.1,336.2 1669.2,338.0 1627.5,338.5 1605.6,337.9ZM1683.2,323.6 1691.1,324.8 1699.1,325.0 1709.0,324.5 1716.4,323.5 1723.5,321.5 1724.8,319.4 1721.2,317.4 1718.9,316.9 1709.2,315.4 1701.0,314.9 1691.1,315.0 1683.2,316.0 1676.4,317.4 1673.2,319.4 1675.2,321.5 1682.9,323.5ZM1688.3,323.5 1679.0,321.5 1676.5,319.4 1680.2,317.4 1693.1,315.5 1703.0,315.6 1711.0,316.4 1716.6,317.4 1720.4,319.4 1718.4,321.5 1713.0,322.9 1705.0,323.8 1689.1,323.7Z" fill="#6658ff" stroke="#6658ff" stroke-width="1" fill-rule="evenodd"/>
<path d="M1633.5,370.7 1669.2,372.0 1691.1,371.4 1718.9,371.8 1752.7,371.4 1769.4,370.6 1784.2,368.6 1766.6,366.3 1740.8,365.7 1691.1,366.0 1669.2,364.9 1647.4,365.3 1623.7,366.5 1619.5,368.6 1632.6,370.6ZM1605.6,337.9 1627.5,338.5 1669.2,338.0 1691.1,336.2 1752.7,334.7 1765.5,333.8 1781.1,331.7 1790.6,329.7 1796.9,327.6 1830.2,312.9 1842.2,306.5 1846.1,303.6 1848.3,301.0 1849.3,299.0 1849.3,294.9 1848.4,292.8 1846.1,290.1 1840.2,285.5 1818.5,272.4 1813.7,268.3 1810.7,264.2 1809.3,260.1 1808.7,256.0 1809.2,231.4 1807.9,217.1 1806.0,208.9 1803.8,202.8 1800.9,196.6 1797.0,190.5 1788.0,180.2 1774.6,169.4 1764.6,162.7 1754.7,157.0 1750.7,155.2 1746.8,154.6 1742.8,155.8 1740.8,157.2 1738.7,159.8 1735.8,165.9 1730.9,185.3 1727.5,206.9 1725.5,237.6 1723.3,249.8 1723.7,251.9 1725.5,253.9 1734.8,259.4 1737.5,262.1 1738.0,264.2 1736.8,266.2 1734.8,267.5 1728.9,269.7 1720.9,270.9 1711.0,270.8 1701.0,269.3 1691.1,266.0 1681.2,255.7 1669.2,249.8 1627.5,244.9 1595.7,250.1 1571.9,261.3 1552.0,265.6 1534.1,271.2 1526.1,276.0 1521.2,280.6 1517.7,286.7 1517.2,290.8 1517.9,294.9 1521.7,301.0 1528.1,306.5 1534.1,310.1 1549.9,317.4 1552.7,319.4 1557.4,325.6 1559.6,327.6 1563.3,329.7 1576.0,333.8 1584.7,335.8 1595.7,337.3 1604.8,337.9ZM1597.3,335.8 1586.3,333.8 1580.0,331.7 1575.8,329.4 1574.0,327.6 1570.1,321.5 1567.9,319.4 1564.4,317.4 1538.1,307.7 1534.1,305.9 1529.6,303.1 1525.3,299.0 1523.8,296.9 1522.1,292.8 1522.0,288.7 1522.5,286.7 1526.1,281.0 1532.1,276.1 1538.1,273.4 1552.0,268.9 1571.9,264.6 1595.7,254.2 1627.5,249.1 1669.2,253.6 1679.2,258.4 1691.1,267.7 1701.0,270.3 1711.0,271.6 1720.9,271.6 1728.9,270.6 1736.0,268.3 1739.0,266.2 1740.1,264.2 1739.7,262.1 1736.8,259.1 1729.5,253.9 1727.9,251.9 1727.5,249.8 1728.6,239.6 1729.4,217.1 1730.6,204.8 1733.9,188.4 1738.8,174.6 1741.7,170.0 1744.8,166.9 1746.8,165.9 1750.7,165.2 1756.7,166.8 1762.7,169.3 1774.6,176.4 1784.5,184.5 1793.1,194.6 1796.7,200.7 1799.4,206.9 1802.4,219.1 1803.2,233.5 1801.3,258.0 1802.5,264.2 1805.2,268.3 1810.0,272.4 1830.2,284.0 1836.5,288.7 1840.1,292.8 1841.1,294.9 1841.4,296.9 1841.0,299.0 1839.8,301.0 1835.6,305.1 1832.6,307.2 1820.3,312.8 1776.6,327.6 1758.7,331.4 1742.8,332.7 1691.1,334.5 1681.2,335.9 1669.2,336.7 1627.5,337.3 1597.7,335.9ZM1691.1,325.7 1701.0,326.0 1713.0,325.4 1720.9,324.3 1726.9,322.7 1729.5,321.5 1730.1,319.4 1726.3,317.4 1718.9,315.8 1705.0,314.4 1691.1,314.4 1682.4,315.4 1672.6,317.4 1669.7,319.4 1671.4,321.5 1679.2,323.8 1690.5,325.6ZM1682.9,323.5 1675.2,321.5 1673.2,319.4 1676.4,317.4 1683.2,316.0 1691.1,315.0 1701.0,314.9 1709.2,315.4 1718.9,316.9 1721.2,317.4 1724.8,319.4 1723.5,321.5 1716.4,323.5 1709.0,324.5 1699.1,325.0 1691.1,324.8 1683.2,323.6Z" fill="#7568ff" stroke="#7568ff" stroke-width="1" fill-rule="evenodd"/>
<path d="M1597.7,335.9 1627.5,337.3 1669.2,336.7 1681.2,335.9 1691.1,334.5 1742.8,332.7 1758.7,331.4 1776.6,327.6 1820.3,312.8 1832.6,307.2 1835.6,305.1 1839.8,301.0 1841.0,299.0 1841.4,296.9 1841.1,294.9 1840.1,292.8 1836.5,288.7 1830.2,284.0 1810.0,272.4 1805.2,268.3 1802.5,264.2 1801.3,258.0 1803.2,233.5 1802.4,219.1 1799.4,206.9 1796.7,200.7 1793.1,194.6 1784.5,184.5 1774.6,176.4 1762.7,169.3 1756.7,166.8 1750.7,165.2 1746.8,165.9 1744.8,166.9 1741.7,170.0 1738.8,174.6 1733.9,188.4 1730.6,204.8 1729.4,217.1 1728.6,239.6 1727.5,249.8 1727.9,251.9 1729.5,253.9 1736.8,259.1 1739.7,262.1 1740.1,264.2 1739.0,266.2 1736.0,268.3 1728.9,270.6 1720.9,271.6 1711.0,271.6 1701.0,270.3 1691.1,267.7 1679.2,258.4 1669.2,253.6 1627.5,249.1 1595.7,254.2 1571.9,264.6 1552.0,268.9 1538.1,273.4 1532.1,276.1 1526.1,281.0 1522.5,286.7 1522.0,288.7 1522.1,292.8 1523.8,296.9 1525.3,299.0 1529.6,303.1 1534.1,305.9 1538.1,307.7 1564.4,317.4 1567.9,319.4 1570.1,321.5 1574.0,327.6 1575.8,329.4 1580.0,331.7 1586.3,333.8 1597.3,335.8ZM1598.0,333.8 1589.7,331.7 1583.8,328.8 1580.6,325.6 1577.3,319.4 1571.9,314.7 1546.0,307.1 1538.1,303.9 1532.8,301.0 1528.8,296.9 1527.5,294.9 1526.5,290.8 1527.2,286.7 1530.1,282.3 1534.1,278.9 1542.0,275.2 1554.0,271.3 1571.9,267.4 1595.7,257.5 1627.5,252.6 1669.2,256.8 1679.2,261.6 1691.1,269.2 1703.0,271.6 1713.0,272.4 1722.9,272.2 1730.9,271.0 1738.7,268.3 1741.4,266.2 1742.4,264.2 1742.1,262.1 1740.5,260.1 1733.1,253.9 1731.8,251.9 1731.3,249.8 1732.0,219.1 1733.1,206.9 1736.3,192.5 1740.8,181.5 1743.0,178.2 1746.8,174.7 1748.7,173.8 1752.7,173.3 1762.7,176.2 1772.6,181.6 1782.5,189.9 1789.4,198.7 1792.7,204.8 1795.0,210.9 1797.3,223.2 1797.1,235.5 1793.6,258.0 1794.2,264.2 1796.7,268.3 1801.6,272.4 1824.1,284.6 1828.2,287.4 1831.9,290.8 1834.2,294.9 1834.4,296.9 1832.8,301.0 1830.9,303.1 1828.2,305.1 1822.3,308.3 1806.4,313.9 1796.4,316.5 1772.8,321.5 1753.0,327.6 1746.8,328.6 1691.1,332.3 1681.2,334.1 1669.2,335.1 1627.5,335.8 1599.7,333.9ZM1683.2,325.7 1691.1,327.2 1701.0,327.5 1715.0,327.3 1724.9,326.5 1732.8,324.6 1735.1,323.5 1737.6,321.5 1736.6,319.4 1732.4,317.4 1720.9,315.1 1705.0,313.8 1691.1,313.8 1677.5,315.4 1668.7,317.4 1665.8,319.4 1667.2,321.5 1669.2,322.4 1675.2,324.2 1682.9,325.6ZM1690.5,325.6 1679.2,323.8 1671.4,321.5 1669.7,319.4 1672.6,317.4 1682.4,315.4 1691.1,314.4 1705.0,314.4 1718.9,315.8 1726.3,317.4 1730.1,319.4 1729.5,321.5 1726.9,322.7 1720.9,324.3 1713.0,325.4 1701.0,326.0 1691.1,325.7Z" fill="#8378ff" stroke="#8378ff" stroke-width="1" fill-rule="evenodd"/>
<path d="M1599.7,333.9 1627.5,335.8 1669.2,335.1 1681.2,334.1 1691.1,332.3 1746.8,328.6 1753.0,327.6 1772.8,321.5 1796.4,316.5 1806.4,313.9 1822.3,308.3 1828.2,305.1 1830.9,303.1 1832.8,301.0 1834.4,296.9 1834.2,294.9 1831.9,290.8 1828.2,287.4 1824.1,284.6 1801.6,272.4 1796.7,268.3 1794.2,264.2 1793.6,258.0 1797.1,235.5 1797.3,223.2 1795.0,210.9 1792.7,204.8 1789.4,198.7 1782.5,189.9 1772.6,181.6 1762.7,176.2 1752.7,173.3 1748.7,173.8 1746.8,174.7 1743.0,178.2 1740.8,181.5 1736.3,192.5 1733.1,206.9 1732.0,219.1 1731.3,249.8 1731.8,251.9 1733.1,253.9 1740.5,260.1 1742.1,262.1 1742.4,264.2 1741.4,266.2 1738.7,268.3 1730.9,271.0 1722.9,272.2 1713.0,272.4 1703.0,271.6 1691.1,269.2 1679.2,261.6 1669.2,256.8 1627.5,252.6 1595.7,257.5 1571.9,267.4 1554.0,271.3 1542.0,275.2 1534.1,278.9 1530.1,282.3 1527.2,286.7 1526.5,290.8 1527.5,294.9 1528.8,296.9 1532.8,301.0 1538.1,303.9 1546.0,307.1 1571.9,314.7 1577.3,319.4 1580.6,325.6 1583.8,328.8 1589.7,331.7 1598.0,333.8ZM1623.8,333.8 1603.4,331.7 1594.4,329.7 1589.7,326.5 1584.4,319.4 1582.0,317.4 1573.8,312.2 1571.9,311.2 1552.0,306.0 1539.8,301.0 1534.1,297.1 1531.5,292.8 1531.3,288.7 1533.3,284.6 1538.3,280.6 1547.1,276.5 1557.9,273.0 1571.9,269.8 1583.8,264.5 1595.7,260.2 1627.5,255.5 1669.2,259.5 1677.2,263.0 1691.1,270.5 1703.0,272.5 1715.0,273.3 1724.9,272.8 1732.8,271.5 1740.8,268.7 1744.2,266.2 1745.2,264.2 1744.8,262.1 1743.3,260.1 1736.6,253.9 1734.9,249.8 1734.5,223.2 1735.3,210.9 1737.8,198.7 1741.9,188.4 1744.8,184.3 1746.8,182.4 1748.7,181.1 1752.7,180.3 1756.7,180.8 1762.7,182.6 1770.6,186.7 1778.6,193.3 1784.5,200.7 1787.8,206.9 1790.0,213.0 1791.3,219.1 1791.8,225.3 1790.8,237.6 1785.4,260.1 1785.6,264.2 1786.4,266.2 1789.9,270.3 1792.9,272.4 1816.3,284.1 1823.4,288.7 1826.3,291.6 1828.0,294.9 1828.2,296.9 1827.6,299.0 1826.2,301.0 1822.3,304.3 1816.8,307.2 1802.4,312.0 1788.5,315.0 1760.7,318.8 1748.7,318.9 1730.9,315.3 1707.0,313.2 1691.1,313.2 1673.2,315.2 1664.3,317.4 1661.4,319.4 1662.3,321.5 1669.2,324.2 1684.1,327.6 1686.8,329.7 1683.2,331.2 1669.2,333.3 1625.5,333.9ZM1682.9,325.6 1675.2,324.2 1669.2,322.4 1667.2,321.5 1665.8,319.4 1668.7,317.4 1677.5,315.4 1691.1,313.8 1705.0,313.8 1720.9,315.1 1732.4,317.4 1736.6,319.4 1737.6,321.5 1735.1,323.5 1732.8,324.6 1724.9,326.5 1715.0,327.3 1701.0,327.5 1691.1,327.2 1683.2,325.7Z" fill="#9287ff" stroke="#9287ff" stroke-width="1" fill-rule="evenodd"/>
<path d="M1625.5,333.9 1669.2,333.3 1683.2,331.2 1686.8,329.7 1684.1,327.6 1669.2,324.2 1662.3,321.5 1661.4,319.4 1664.3,317.4 1673.2,315.2 1691.1,313.2 1707.0,313.2 1730.9,315.3 1748.7,318.9 1760.7,318.8 1788.5,315.0 1802.4,312.0 1816.8,307.2 1822.3,304.3 1826.2,301.0 1827.6,299.0 1828.2,296.9 1828.0,294.9 1826.3,291.6 1823.4,288.7 1816.3,284.1 1792.9,272.4 1789.9,270.3 1786.4,266.2 1785.6,264.2 1785.4,260.1 1790.8,237.6 1791.8,225.3 1791.3,219.1 1790.0,213.0 1787.8,206.9 1784.5,200.7 1778.6,193.3 1770.6,186.7 1762.7,182.6 1756.7,180.8 1752.7,180.3 1748.7,181.1 1746.8,182.4 1744.8,184.3 1741.9,188.4 1737.8,198.7 1735.3,210.9 1734.5,223.2 1734.9,249.8 1736.6,253.9 1743.3,260.1 1744.8,262.1 1745.2,264.2 1744.2,266.2 1740.8,268.7 1732.8,271.5 1724.9,272.8 1715.0,273.3 1703.0,272.5 1691.1,270.5 1677.2,263.0 1669.2,259.5 1627.5,255.5 1595.7,260.2 1583.8,264.5 1571.9,269.8 1557.9,273.0 1547.1,276.5 1538.3,280.6 1533.3,284.6 1531.3,288.7 1531.5,292.8 1534.1,297.1 1539.8,301.0 1552.0,306.0 1571.9,311.2 1573.8,312.2 1582.0,317.4 1584.4,319.4 1589.7,326.5 1594.4,329.7 1603.4,331.7 1623.8,333.8ZM1612.5,329.7 1604.1,327.6 1598.9,325.6 1589.0,317.4 1573.4,309.2 1554.0,303.7 1543.3,299.0 1540.1,296.7 1537.0,292.8 1536.5,290.8 1536.7,288.7 1539.4,284.6 1544.0,281.3 1550.0,278.4 1559.9,275.0 1571.9,272.1 1583.8,266.7 1595.7,262.4 1627.5,258.0 1669.2,261.8 1677.2,265.0 1691.1,271.7 1703.0,273.4 1715.0,274.1 1724.9,273.7 1734.8,272.1 1742.8,269.5 1747.8,266.2 1748.8,264.2 1748.4,262.1 1746.9,260.1 1740.4,253.9 1738.7,249.8 1737.2,225.3 1737.5,217.1 1738.5,208.9 1741.3,198.7 1743.1,194.6 1746.0,190.5 1748.7,188.0 1750.7,187.1 1756.7,187.2 1762.7,188.9 1766.6,190.8 1774.6,196.9 1780.7,204.8 1782.8,208.9 1784.9,215.0 1786.0,223.2 1785.3,233.5 1782.5,243.7 1776.0,260.1 1775.6,264.2 1776.2,266.2 1780.0,270.3 1783.4,272.4 1804.4,281.6 1817.1,288.7 1821.1,292.8 1821.9,294.9 1822.0,296.9 1821.3,299.0 1819.8,301.0 1813.6,305.1 1800.4,310.0 1788.5,312.6 1768.6,315.1 1748.7,316.0 1722.4,313.3 1701.0,312.4 1689.1,312.7 1666.8,315.4 1659.1,317.4 1655.8,319.4 1656.1,321.5 1661.3,324.3 1672.6,327.6 1672.8,329.7 1669.2,330.3 1651.4,331.4 1629.5,331.7 1613.6,329.9Z" fill="#a097ff" stroke="#a097ff" stroke-width="1" fill-rule="evenodd"/>
<path d="M1613.6,329.9 1629.5,331.7 1651.4,331.4 1669.2,330.3 1672.8,329.7 1672.6,327.6 1661.3,324.3 1656.1,321.5 1655.8,319.4 1659.1,317.4 1666.8,315.4 1689.1,312.7 1701.0,312.4 1722.4,313.3 1748.7,316.0 1768.6,315.1 1788.5,312.6 1800.4,310.0 1813.6,305.1 1819.8,301.0 1821.3,299.0 1822.0,296.9 1821.9,294.9 1821.1,292.8 1817.1,288.7 1804.4,281.6 1783.4,272.4 1780.0,270.3 1776.2,266.2 1775.6,264.2 1776.0,260.1 1782.5,243.7 1785.3,233.5 1786.0,223.2 1784.9,215.0 1782.8,208.9 1780.7,204.8 1774.6,196.9 1766.6,190.8 1762.7,188.9 1756.7,187.2 1750.7,187.1 1748.7,188.0 1746.0,190.5 1743.1,194.6 1741.3,198.7 1738.5,208.9 1737.5,217.1 1737.2,225.3 1738.7,249.8 1740.4,253.9 1746.9,260.1 1748.4,262.1 1748.8,264.2 1747.8,266.2 1742.8,269.5 1734.8,272.1 1724.9,273.7 1715.0,274.1 1703.0,273.4 1691.1,271.7 1677.2,265.0 1669.2,261.8 1627.5,258.0 1595.7,262.4 1583.8,266.7 1571.9,272.1 1559.9,275.0 1550.0,278.4 1544.0,281.3 1539.4,284.6 1536.7,288.7 1536.5,290.8 1537.0,292.8 1540.1,296.7 1543.3,299.0 1554.0,303.7 1573.4,309.2 1589.0,317.4 1598.9,325.6 1604.1,327.6 1612.5,329.7ZM1626.4,327.6 1619.6,325.6 1611.1,321.5 1595.7,317.1 1571.9,306.2 1557.9,302.3 1548.0,297.7 1544.5,294.9 1543.1,292.8 1542.5,290.8 1542.8,288.7 1545.7,284.6 1552.3,280.6 1561.9,276.9 1571.9,274.3 1583.8,268.6 1595.7,264.4 1627.5,260.1 1669.2,263.7 1691.1,272.9 1711.0,274.8 1722.9,274.7 1734.8,273.3 1745.7,270.3 1758.7,265.2 1760.7,265.5 1772.1,272.4 1792.5,279.6 1802.4,283.8 1808.4,287.1 1813.4,290.8 1816.0,294.9 1816.0,296.9 1815.2,299.0 1812.3,301.8 1806.4,305.1 1798.4,308.1 1788.5,310.4 1774.6,312.5 1760.7,313.7 1746.8,313.9 1718.9,312.1 1701.0,311.7 1691.1,311.8 1669.2,313.9 1655.3,316.5 1651.9,317.4 1647.5,319.4 1646.1,321.5 1648.8,325.6 1647.4,326.3 1640.7,327.6 1627.5,327.8ZM1754.4,260.1 1750.7,258.3 1746.8,255.3 1744.8,253.1 1743.2,249.8 1741.2,237.6 1740.3,227.3 1740.3,219.1 1741.2,210.9 1742.8,204.8 1744.8,200.2 1747.2,196.6 1750.7,193.9 1754.7,193.5 1758.7,194.2 1762.7,195.6 1766.6,197.8 1770.6,201.1 1773.8,204.8 1776.4,208.9 1778.1,213.0 1779.8,221.2 1779.9,225.3 1779.1,231.4 1777.3,237.6 1774.6,243.5 1764.6,258.1 1760.7,261.4 1758.7,261.7 1754.7,260.3Z" fill="#afa7ff" stroke="#afa7ff" stroke-width="1" fill-rule="evenodd"/>
<path d="M1627.5,327.8 1640.7,327.6 1647.4,326.3 1648.8,325.6 1646.1,321.5 1647.5,319.4 1651.9,317.4 1655.3,316.5 1669.2,313.9 1691.1,311.8 1701.0,311.7 1718.9,312.1 1746.8,313.9 1760.7,313.7 1774.6,312.5 1788.5,310.4 1798.4,308.1 1806.4,305.1 1812.3,301.8 1815.2,299.0 1816.0,296.9 1816.0,294.9 1813.4,290.8 1808.4,287.1 1802.4,283.8 1792.5,279.6 1772.1,272.4 1760.7,265.5 1758.7,265.2 1745.7,270.3 1734.8,273.3 1722.9,274.7 1711.0,274.8 1691.1,272.9 1669.2,263.7 1627.5,260.1 1595.7,264.4 1583.8,268.6 1571.9,274.3 1561.9,276.9 1552.3,280.6 1545.7,284.6 1542.8,288.7 1542.5,290.8 1543.1,292.8 1544.5,294.9 1548.0,297.7 1557.9,302.3 1571.9,306.2 1595.7,317.1 1611.1,321.5 1619.6,325.6 1626.4,327.6ZM1618.4,317.4 1595.7,314.2 1581.8,308.9 1571.9,303.9 1563.9,301.6 1557.1,299.0 1552.0,295.8 1549.2,292.8 1548.5,290.8 1548.8,288.7 1549.9,286.7 1555.1,282.6 1561.9,279.5 1571.9,276.5 1581.8,271.3 1593.7,266.7 1603.7,264.8 1629.5,261.8 1669.2,265.3 1691.1,274.0 1703.0,275.2 1715.0,275.8 1724.9,275.6 1734.8,274.5 1750.7,271.5 1758.7,272.0 1792.5,282.4 1801.9,286.7 1807.5,290.8 1809.2,292.8 1810.1,294.9 1810.1,296.9 1809.1,299.0 1804.1,303.1 1796.4,306.3 1782.5,309.6 1760.7,312.0 1746.8,312.4 1713.0,311.1 1691.1,311.2 1663.3,313.6 1627.5,318.9 1619.6,317.6ZM1754.7,260.3 1758.7,261.7 1760.7,261.4 1764.6,258.1 1774.6,243.5 1777.3,237.6 1779.1,231.4 1779.9,225.3 1779.8,221.2 1778.1,213.0 1776.4,208.9 1773.8,204.8 1770.6,201.1 1766.6,197.8 1762.7,195.6 1758.7,194.2 1754.7,193.5 1750.7,193.9 1747.2,196.6 1744.8,200.2 1742.8,204.8 1741.2,210.9 1740.3,219.1 1740.3,227.3 1741.2,237.6 1743.2,249.8 1744.8,253.1 1746.8,255.3 1750.7,258.3 1754.4,260.1ZM1749.7,247.8 1748.3,245.7 1746.0,239.6 1743.8,227.3 1743.6,221.2 1744.1,215.0 1746.5,206.9 1748.7,203.2 1750.7,201.6 1752.7,200.9 1756.7,201.2 1760.7,202.5 1766.7,206.9 1770.8,213.0 1772.6,219.1 1772.8,225.3 1771.3,231.4 1768.4,237.6 1762.7,244.7 1756.7,248.7 1752.7,249.6 1750.7,248.9Z" fill="#bdb7ff" stroke="#bdb7ff" stroke-width="1" fill-rule="evenodd"/>
<path d="M1619.6,317.6 1627.5,318.9 1663.3,313.6 1691.1,311.2 1713.0,311.1 1746.8,312.4 1760.7,312.0 1782.5,309.6 1796.4,306.3 1804.1,303.1 1809.1,299.0 1810.1,296.9 1810.1,294.9 1809.2,292.8 1807.5,290.8 1801.9,286.7 1792.5,282.4 1758.7,272.0 1750.7,271.5 1734.8,274.5 1724.9,275.6 1715.0,275.8 1703.0,275.2 1691.1,274.0 1669.2,265.3 1629.5,261.8 1603.7,264.8 1593.7,266.7 1581.8,271.3 1571.9,276.5 1561.9,279.5 1555.1,282.6 1549.9,286.7 1548.8,288.7 1548.5,290.8 1549.2,292.8 1552.0,295.8 1557.1,299.0 1563.9,301.6 1571.9,303.9 1581.8,308.9 1595.7,314.2 1618.4,317.4ZM1606.4,313.3 1595.7,312.0 1581.8,307.0 1571.9,301.6 1564.2,299.0 1560.0,296.9 1557.1,294.9 1555.3,292.8 1554.6,290.8 1554.8,288.7 1556.0,286.7 1561.7,282.6 1571.9,278.7 1583.8,272.1 1595.7,267.7 1629.5,263.4 1669.2,266.7 1691.1,275.0 1701.0,276.0 1722.9,276.7 1746.8,274.3 1752.7,274.3 1760.7,275.7 1786.5,282.8 1796.2,286.7 1802.2,290.8 1803.8,292.8 1804.6,294.9 1804.5,296.9 1803.5,299.0 1801.5,301.0 1798.2,303.1 1788.5,306.5 1772.6,309.4 1754.7,310.8 1709.0,310.1 1691.1,310.4 1627.5,315.3 1607.6,313.5ZM1750.7,248.9 1752.7,249.6 1756.7,248.7 1762.7,244.7 1768.4,237.6 1771.3,231.4 1772.8,225.3 1772.6,219.1 1770.8,213.0 1766.7,206.9 1760.7,202.5 1756.7,201.2 1752.7,200.9 1750.7,201.6 1748.7,203.2 1746.5,206.9 1744.1,215.0 1743.6,221.2 1743.8,227.3 1746.0,239.6 1748.3,245.7 1749.7,247.8ZM1752.3,233.5 1750.7,232.1 1748.7,226.3 1748.5,221.2 1749.0,217.1 1750.7,212.9 1752.7,211.5 1754.7,211.4 1758.7,213.0 1760.8,215.0 1762.7,218.7 1763.1,221.2 1762.8,225.3 1760.9,229.4 1758.7,231.9 1755.7,233.5 1752.7,233.8Z" fill="#ccc7ff" stroke="#ccc7ff" stroke-width="1" fill-rule="evenodd"/>
<path d="M1607.6,313.5 1627.5,315.3 1691.1,310.4 1709.0,310.1 1754.7,310.8 1772.6,309.4 1788.5,306.5 1798.2,303.1 1801.5,301.0 1803.5,299.0 1804.5,296.9 1804.6,294.9 1803.8,292.8 1802.2,290.8 1796.2,286.7 1786.5,282.8 1760.7,275.7 1752.7,274.3 1746.8,274.3 1722.9,276.7 1701.0,276.0 1691.1,275.0 1669.2,266.7 1629.5,263.4 1595.7,267.7 1583.8,272.1 1571.9,278.7 1561.7,282.6 1556.0,286.7 1554.8,288.7 1554.6,290.8 1555.3,292.8 1557.1,294.9 1560.0,296.9 1564.2,299.0 1571.9,301.6 1581.8,307.0 1595.7,312.0 1606.4,313.3ZM1604.4,311.3 1595.7,310.3 1581.8,305.2 1571.9,299.2 1566.6,296.9 1563.4,294.9 1561.4,292.8 1560.6,290.8 1560.8,288.7 1561.9,287.0 1564.6,284.6 1571.9,281.2 1582.5,274.4 1595.7,269.2 1611.6,266.8 1629.5,264.8 1669.2,268.0 1679.2,271.3 1691.1,276.0 1695.5,276.5 1718.9,277.7 1744.8,276.3 1750.7,276.4 1760.7,278.1 1782.5,283.8 1790.5,286.8 1797.1,290.8 1798.9,292.8 1799.7,294.9 1799.6,296.9 1798.4,299.0 1796.0,301.0 1792.1,303.1 1784.5,305.5 1768.6,308.4 1750.7,309.6 1693.1,309.5 1627.5,313.1 1605.6,311.4ZM1752.7,233.8 1755.7,233.5 1758.7,231.9 1760.9,229.4 1762.8,225.3 1763.1,221.2 1762.7,218.7 1760.8,215.0 1758.7,213.0 1754.7,211.4 1752.7,211.5 1750.7,212.9 1749.0,217.1 1748.5,221.2 1748.7,226.3 1750.7,232.1 1752.3,233.5Z" fill="#dbd7ff" stroke="#dbd7ff" stroke-width="1" fill-rule="evenodd"/>
<path d="M1605.6,311.4 1627.5,313.1 1693.1,309.5 1750.7,309.6 1768.6,308.4 1784.5,305.5 1792.1,303.1 1796.0,301.0 1798.4,299.0 1799.6,296.9 1799.7,294.9 1798.9,292.8 1797.1,290.8 1790.5,286.8 1782.5,283.8 1760.7,278.1 1750.7,276.4 1744.8,276.3 1718.9,277.7 1695.5,276.5 1691.1,276.0 1679.2,271.3 1669.2,268.0 1629.5,264.8 1611.6,266.8 1595.7,269.2 1582.5,274.4 1571.9,281.2 1564.6,284.6 1561.9,287.0 1560.8,288.7 1560.6,290.8 1561.4,292.8 1563.4,294.9 1566.6,296.9 1571.9,299.2 1581.8,305.2 1595.7,310.3 1604.4,311.3ZM1624.7,311.3 1597.7,309.0 1587.8,306.0 1577.8,301.2 1569.7,294.9 1567.5,292.8 1566.6,290.8 1566.8,288.7 1568.3,286.7 1578.4,278.5 1585.8,274.5 1593.7,271.3 1597.7,270.2 1613.6,267.9 1627.5,266.2 1631.5,266.3 1669.2,269.2 1681.2,273.0 1691.1,276.9 1716.9,278.7 1746.8,278.0 1756.7,279.2 1776.6,284.2 1786.5,287.7 1791.9,290.8 1793.9,292.8 1794.8,294.9 1794.6,296.9 1793.2,299.0 1790.5,301.0 1784.5,303.5 1772.6,306.4 1760.7,307.8 1744.8,308.6 1701.0,308.5 1625.5,311.3Z" fill="#e9e7ff" stroke="#e9e7ff" stroke-width="1" fill-rule="evenodd"/>
<path d="M1625.5,311.3 1701.0,308.5 1744.8,308.6 1760.7,307.8 1772.6,306.4 1784.5,303.5 1790.5,301.0 1793.2,299.0 1794.6,296.9 1794.8,294.9 1793.9,292.8 1791.9,290.8 1786.5,287.7 1776.6,284.2 1756.7,279.2 1746.8,278.0 1716.9,278.7 1691.1,276.9 1681.2,273.0 1669.2,269.2 1631.5,266.3 1627.5,266.2 1613.6,267.9 1597.7,270.2 1593.7,271.3 1585.8,274.5 1578.4,278.5 1568.3,286.7 1566.8,288.7 1566.6,290.8 1567.5,292.8 1569.7,294.9 1577.8,301.2 1587.8,306.0 1597.7,309.0 1624.7,311.3ZM1615.7,309.2 1595.7,307.2 1584.5,303.1 1577.7,299.0 1574.0,294.9 1572.2,290.8 1573.1,286.7 1576.1,282.6 1578.4,280.6 1585.8,276.0 1595.7,271.9 1623.5,267.9 1629.5,267.4 1665.3,270.0 1671.2,270.7 1691.1,277.8 1715.0,279.6 1746.8,279.6 1760.7,281.8 1778.1,286.7 1786.7,290.8 1788.9,292.8 1789.9,294.9 1789.6,296.9 1788.0,299.0 1782.5,302.0 1774.6,304.4 1764.6,306.1 1752.7,307.1 1701.0,307.6 1627.5,310.0 1617.6,309.4Z" fill="#f8f7ff" stroke="#f8f7ff" stroke-width="1" fill-rule="evenodd"/>
<path d="M1617.6,309.4 1627.5,310.0 1701.0,307.6 1752.7,307.1 1764.6,306.1 1774.6,304.4 1782.5,302.0 1788.0,299.0 1789.6,296.9 1789.9,294.9 1788.9,292.8 1786.7,290.8 1778.1,286.7 1760.7,281.8 1746.8,279.6 1715.0,279.6 1691.1,277.8 1671.2,270.7 1665.3,270.0 1629.5,267.4 1623.5,267.9 1595.7,271.9 1585.8,276.0 1578.4,280.6 1576.1,282.6 1573.1,286.7 1572.2,290.8 1574.0,294.9 1577.7,299.0 1584.5,303.1 1595.7,307.2 1615.7,309.2ZM1606.7,307.2 1595.7,305.9 1589.7,303.8 1580.6,299.0 1576.5,294.9 1575.0,290.8 1575.7,286.7 1578.7,282.6 1584.2,278.5 1591.7,274.8 1597.7,272.8 1627.5,268.6 1669.2,271.3 1681.2,274.9 1691.1,278.7 1715.0,280.5 1746.8,281.0 1762.7,283.9 1774.6,287.6 1781.4,290.8 1783.9,292.8 1784.9,294.9 1784.6,296.9 1782.5,299.1 1778.6,301.3 1770.6,303.7 1760.7,305.3 1748.7,306.2 1703.0,306.7 1681.2,307.7 1627.5,308.7 1607.6,307.3Z" fill="#fff8f8" stroke="#fff8f8" stroke-width="1" fill-rule="evenodd"/>
<path d="M1607.6,307.3 1627.5,308.7 1681.2,307.7 1703.0,306.7 1748.7,306.2 1760.7,305.3 1770.6,303.7 1778.6,301.3 1782.5,299.1 1784.6,296.9 1784.9,294.9 1783.9,292.8 1781.4,290.8 1774.6,287.6 1762.7,283.9 1746.8,281.0 1715.0,280.5 1691.1,278.7 1681.2,274.9 1669.2,271.3 1627.5,268.6 1597.7,272.8 1591.7,274.8 1584.2,278.5 1578.7,282.6 1575.7,286.7 1575.0,290.8 1576.5,294.9 1580.6,299.0 1589.7,303.8 1595.7,305.9 1606.7,307.2ZM1621.7,307.2 1595.7,304.5 1589.7,302.3 1583.8,299.2 1579.0,294.9 1577.4,290.8 1578.1,286.7 1581.8,282.2 1587.1,278.5 1595.7,274.5 1627.5,269.7 1665.3,272.0 1671.2,272.7 1691.1,279.5 1713.0,281.3 1744.8,282.2 1758.7,284.5 1766.6,286.8 1776.6,291.0 1778.9,292.8 1780.0,294.9 1779.6,296.9 1777.6,299.0 1773.6,301.0 1766.3,303.1 1748.7,305.1 1703.0,305.8 1681.2,306.8 1623.5,307.3Z" fill="#ffeae9" stroke="#ffeae9" stroke-width="1" fill-rule="evenodd"/>
<path d="M1623.5,307.3 1681.2,306.8 1703.0,305.8 1748.7,305.1 1766.3,303.1 1773.6,301.0 1777.6,299.0 1779.6,296.9 1780.0,294.9 1778.9,292.8 1776.6,291.0 1766.6,286.8 1758.7,284.5 1744.8,282.2 1713.0,281.3 1691.1,279.5 1671.2,272.7 1665.3,272.0 1627.5,269.7 1595.7,274.5 1587.1,278.5 1581.8,282.2 1578.1,286.7 1577.4,290.8 1579.0,294.9 1583.8,299.2 1589.7,302.3 1595.7,304.5 1621.7,307.2ZM1610.7,305.1 1595.7,303.2 1586.4,299.0 1581.6,294.9 1579.8,290.8 1580.5,286.7 1583.8,282.6 1589.9,278.5 1597.7,275.3 1627.5,270.7 1669.2,273.2 1679.2,276.0 1691.1,280.3 1713.0,282.2 1742.8,283.3 1756.7,285.6 1766.9,288.7 1774.1,292.8 1775.3,294.9 1774.8,296.9 1772.5,299.0 1767.7,301.0 1760.7,302.6 1742.8,304.3 1703.0,305.0 1681.2,306.0 1627.5,306.5 1611.6,305.2Z" fill="#ffdcdb" stroke="#ffdcdb" stroke-width="1" fill-rule="evenodd"/>
<path d="M1611.6,305.2 1627.5,306.5 1681.2,306.0 1703.0,305.0 1742.8,304.3 1760.7,302.6 1767.7,301.0 1772.5,299.0 1774.8,296.9 1775.3,294.9 1774.1,292.8 1766.9,288.7 1756.7,285.6 1742.8,283.3 1713.0,282.2 1691.1,280.3 1679.2,276.0 1669.2,273.2 1627.5,270.7 1597.7,275.3 1589.9,278.5 1583.8,282.6 1580.5,286.7 1579.8,290.8 1581.6,294.9 1586.4,299.0 1595.7,303.2 1610.7,305.1ZM1623.6,305.1 1597.7,302.4 1591.7,300.2 1586.3,296.9 1582.8,292.8 1582.2,288.7 1584.3,284.6 1589.2,280.6 1597.7,276.5 1627.5,271.7 1669.2,274.1 1681.2,277.5 1691.1,281.0 1713.0,283.0 1740.8,284.4 1754.7,286.6 1762.7,289.1 1766.4,290.8 1769.3,292.8 1770.5,294.9 1769.9,296.9 1768.6,298.0 1766.6,299.2 1760.7,301.1 1750.7,302.7 1742.8,303.3 1681.2,305.1 1625.5,305.3Z" fill="#ffcecd" stroke="#ffcecd" stroke-width="1" fill-rule="evenodd"/>
<path d="M1625.5,305.3 1681.2,305.1 1742.8,303.3 1750.7,302.7 1760.7,301.1 1766.6,299.2 1768.6,298.0 1769.9,296.9 1770.5,294.9 1769.3,292.8 1766.4,290.8 1762.7,289.1 1754.7,286.6 1740.8,284.4 1713.0,283.0 1691.1,281.0 1681.2,277.5 1669.2,274.1 1627.5,271.7 1597.7,276.5 1589.2,280.6 1584.3,284.6 1582.2,288.7 1582.8,292.8 1586.3,296.9 1591.7,300.2 1597.7,302.4 1623.6,305.1ZM1612.7,303.1 1595.7,300.5 1589.1,296.9 1585.8,293.5 1584.6,290.8 1585.4,286.7 1588.9,282.6 1595.6,278.5 1607.6,275.8 1627.5,272.7 1669.2,275.0 1679.2,277.7 1691.1,281.8 1711.0,283.7 1738.8,285.4 1752.7,287.7 1761.5,290.8 1764.6,292.8 1765.7,294.9 1764.9,296.9 1761.3,299.0 1753.3,301.0 1742.8,302.2 1681.2,304.3 1669.2,303.9 1627.5,304.4 1613.6,303.2Z" fill="#ffc0be" stroke="#ffc0be" stroke-width="1" fill-rule="evenodd"/>
<path d="M1613.6,303.2 1627.5,304.4 1669.2,303.9 1681.2,304.3 1742.8,302.2 1753.3,301.0 1761.3,299.0 1764.9,296.9 1765.7,294.9 1764.6,292.8 1761.5,290.8 1752.7,287.7 1738.8,285.4 1711.0,283.7 1691.1,281.8 1679.2,277.7 1669.2,275.0 1627.5,272.7 1607.6,275.8 1595.6,278.5 1588.9,282.6 1585.4,286.7 1584.6,290.8 1585.8,293.5 1589.1,296.9 1595.7,300.5 1612.7,303.1ZM1623.6,303.1 1597.7,299.7 1591.7,296.9 1587.8,292.8 1587.0,290.8 1587.0,288.7 1589.2,284.6 1594.5,280.6 1597.7,279.2 1605.6,277.4 1627.5,273.7 1669.2,275.9 1681.2,279.1 1691.1,282.6 1709.0,284.4 1736.8,286.4 1748.7,288.2 1756.3,290.8 1759.6,292.8 1760.7,294.9 1759.4,296.9 1754.9,299.0 1750.7,299.9 1736.8,301.4 1681.2,303.5 1669.2,303.0 1625.5,303.2Z" fill="#ffb2b0" stroke="#ffb2b0" stroke-width="1" fill-rule="evenodd"/>
<path d="M1625.5,303.2 1669.2,303.0 1681.2,303.5 1736.8,301.4 1750.7,299.9 1754.9,299.0 1759.4,296.9 1760.7,294.9 1759.6,292.8 1756.3,290.8 1748.7,288.2 1736.8,286.4 1709.0,284.4 1691.1,282.6 1681.2,279.1 1669.2,275.9 1627.5,273.7 1605.6,277.4 1597.7,279.2 1594.5,280.6 1589.2,284.6 1587.0,288.7 1587.0,290.8 1587.8,292.8 1591.7,296.9 1597.7,299.7 1623.6,303.1ZM1614.1,301.0 1597.7,298.3 1594.6,296.9 1590.3,292.8 1589.4,290.8 1589.4,288.7 1590.1,286.7 1594.0,282.6 1597.7,280.6 1611.6,277.3 1627.5,274.6 1669.2,276.8 1681.2,279.9 1691.1,283.3 1711.0,285.5 1730.9,287.0 1743.9,288.7 1751.0,290.8 1754.4,292.8 1755.3,294.9 1753.5,296.9 1747.4,299.0 1736.8,300.2 1681.2,302.7 1669.2,302.1 1627.5,302.4 1615.6,301.2Z" fill="#ffa4a2" stroke="#ffa4a2" stroke-width="1" fill-rule="evenodd"/>
<path d="M1615.6,301.2 1627.5,302.4 1669.2,302.1 1681.2,302.7 1736.8,300.2 1747.4,299.0 1753.5,296.9 1755.3,294.9 1754.4,292.8 1751.0,290.8 1743.9,288.7 1730.9,287.0 1711.0,285.5 1691.1,283.3 1681.2,279.9 1669.2,276.8 1627.5,274.6 1611.6,277.3 1597.7,280.6 1594.0,282.6 1590.1,286.7 1589.4,288.7 1589.4,290.8 1590.3,292.8 1594.6,296.9 1597.7,298.3 1614.1,301.0ZM1623.3,301.0 1607.6,298.9 1598.6,296.9 1595.7,295.7 1592.7,292.8 1591.8,290.8 1591.8,288.7 1592.5,286.7 1594.1,284.6 1596.9,282.6 1611.5,278.5 1627.5,275.6 1669.2,277.7 1681.2,280.6 1691.1,284.1 1730.9,288.2 1742.8,290.3 1748.8,292.8 1749.6,294.9 1746.9,296.9 1734.8,299.1 1691.1,301.6 1681.2,301.9 1669.2,301.2 1627.5,301.4 1623.5,301.1Z" fill="#ff9693" stroke="#ff9693" stroke-width="1" fill-rule="evenodd"/>
<path d="M1623.5,301.1 1627.5,301.4 1669.2,301.2 1681.2,301.9 1691.1,301.6 1734.8,299.1 1746.9,296.9 1749.6,294.9 1748.8,292.8 1742.8,290.3 1730.9,288.2 1691.1,284.1 1681.2,280.6 1669.2,277.7 1627.5,275.6 1611.5,278.5 1596.9,282.6 1594.1,284.6 1592.5,286.7 1591.8,288.7 1591.8,290.8 1592.7,292.8 1595.7,295.7 1598.6,296.9 1607.6,298.9 1623.3,301.0ZM1679.7,301.0 1669.2,300.3 1627.5,300.5 1609.6,297.9 1597.7,294.7 1595.2,292.8 1594.3,290.8 1594.2,288.7 1594.9,286.7 1597.7,284.2 1605.6,281.3 1615.6,278.8 1627.5,276.6 1631.5,276.5 1669.2,278.5 1681.2,281.5 1691.1,284.9 1730.9,289.6 1736.9,290.8 1742.1,292.8 1742.8,294.9 1738.3,296.9 1732.8,297.8 1691.1,300.8 1681.2,301.1Z" fill="#ff8785" stroke="#ff8785" stroke-width="1" fill-rule="evenodd"/>
<path d="M1681.2,301.1 1691.1,300.8 1732.8,297.8 1738.3,296.9 1742.8,294.9 1742.1,292.8 1736.9,290.8 1730.9,289.6 1691.1,284.9 1681.2,281.5 1669.2,278.5 1631.5,276.5 1627.5,276.6 1615.6,278.8 1605.6,281.3 1597.7,284.2 1594.9,286.7 1594.2,288.7 1594.3,290.8 1595.2,292.8 1597.7,294.7 1609.6,297.9 1627.5,300.5 1669.2,300.3 1679.7,301.0ZM1623.5,299.0 1609.6,296.5 1603.7,294.9 1599.1,292.8 1597.1,290.8 1596.9,288.7 1598.1,286.7 1601.4,284.6 1613.4,280.6 1627.5,277.6 1669.2,279.4 1681.2,282.3 1691.1,285.7 1730.9,291.7 1734.1,292.8 1734.3,294.9 1725.6,296.9 1691.1,299.9 1681.2,300.2 1669.2,299.4 1627.5,299.5 1623.5,299.0Z" fill="#ff7976" stroke="#ff7976" stroke-width="1" fill-rule="evenodd"/>
<path d="M1623.5,299.0 1627.5,299.5 1669.2,299.4 1681.2,300.2 1691.1,299.9 1725.6,296.9 1734.3,294.9 1734.1,292.8 1730.9,291.7 1691.1,285.7 1681.2,282.3 1669.2,279.4 1627.5,277.6 1613.4,280.6 1601.4,284.6 1598.1,286.7 1596.9,288.7 1597.1,290.8 1599.1,292.8 1603.7,294.9 1609.6,296.5 1623.5,299.0ZM1675.3,299.0 1669.2,298.5 1627.5,298.4 1618.0,296.9 1609.5,294.9 1604.4,292.8 1601.9,290.8 1601.4,288.7 1602.9,286.7 1606.2,284.6 1615.6,281.4 1627.5,278.6 1669.2,280.4 1679.4,282.6 1691.1,286.6 1715.3,290.8 1722.5,292.8 1721.9,294.9 1711.1,296.9 1691.1,299.1 1677.2,299.1Z" fill="#ff6b68" stroke="#ff6b68" stroke-width="1" fill-rule="evenodd"/>
<path d="M1677.2,299.1 1691.1,299.1 1711.1,296.9 1721.9,294.9 1722.5,292.8 1715.3,290.8 1691.1,286.6 1679.4,282.6 1669.2,280.4 1627.5,278.6 1615.6,281.4 1606.2,284.6 1602.9,286.7 1601.4,288.7 1601.9,290.8 1604.4,292.8 1609.5,294.9 1618.0,296.9 1627.5,298.4 1669.2,298.5 1675.3,299.0ZM1624.9,296.9 1613.6,294.3 1609.7,292.8 1606.8,290.8 1606.2,288.7 1607.6,286.7 1611.0,284.6 1616.2,282.6 1623.6,280.6 1629.5,279.6 1669.2,281.4 1681.2,284.0 1691.1,287.6 1706.4,290.8 1711.8,292.8 1710.2,294.9 1693.1,297.8 1681.2,298.5 1669.2,297.5 1625.5,297.0Z" fill="#ff5d5a" stroke="#ff5d5a" stroke-width="1" fill-rule="evenodd"/>
<path d="M1625.5,297.0 1669.2,297.5 1681.2,298.5 1693.1,297.8 1710.2,294.9 1711.8,292.8 1706.4,290.8 1691.1,287.6 1681.2,284.0 1669.2,281.4 1629.5,279.6 1623.6,280.6 1616.2,282.6 1611.0,284.6 1607.6,286.7 1606.2,288.7 1606.8,290.8 1609.7,292.8 1613.6,294.3 1624.9,296.9ZM1674.1,296.9 1669.2,296.5 1627.5,296.1 1621.4,294.9 1615.1,292.8 1611.9,290.8 1611.1,288.7 1612.4,286.7 1615.7,284.6 1627.5,280.9 1669.2,282.4 1681.2,285.0 1691.1,288.7 1699.1,290.8 1702.9,292.8 1700.7,294.9 1691.8,296.9 1681.2,297.5 1675.2,297.0Z" fill="#ff4f4b" stroke="#ff4f4b" stroke-width="1" fill-rule="evenodd"/>
<path d="M1675.2,297.0 1681.2,297.5 1691.8,296.9 1700.7,294.9 1702.9,292.8 1699.1,290.8 1691.1,288.7 1681.2,285.0 1669.2,282.4 1627.5,280.9 1615.7,284.6 1612.4,286.7 1611.1,288.7 1611.9,290.8 1615.1,292.8 1621.4,294.9 1627.5,296.1 1669.2,296.5 1674.1,296.9ZM1627.5,294.9 1620.5,292.8 1616.9,290.8 1615.9,288.7 1617.1,286.7 1620.5,284.6 1627.5,282.2 1669.2,283.6 1675.2,284.6 1681.2,286.1 1693.2,290.8 1696.1,292.8 1693.6,294.9 1691.1,295.5 1681.2,296.4 1669.2,295.3 1627.5,294.9Z" fill="#ff413d" stroke="#ff413d" stroke-width="1" fill-rule="evenodd"/>
<path d="M1627.5,294.9 1669.2,295.3 1681.2,296.4 1691.1,295.5 1693.6,294.9 1696.1,292.8 1693.2,290.8 1681.2,286.1 1675.2,284.6 1669.2,283.6 1627.5,282.2 1620.5,284.6 1617.1,286.7 1615.9,288.7 1616.9,290.8 1620.5,292.8 1627.5,294.9ZM1677.3,294.9 1669.2,293.8 1627.5,293.3 1622.0,290.8 1620.7,288.7 1621.9,286.7 1627.5,283.8 1669.2,285.0 1679.2,286.8 1688.2,290.8 1689.8,292.8 1689.1,293.2 1683.9,294.9 1679.2,295.1Z" fill="#ff332f" stroke="#ff332f" stroke-width="1" fill-rule="evenodd"/>
<path d="M1679.2,295.1 1683.9,294.9 1689.1,293.2 1689.8,292.8 1688.2,290.8 1679.2,286.8 1669.2,285.0 1627.5,283.8 1621.9,286.7 1620.7,288.7 1622.0,290.8 1627.5,293.3 1669.2,293.8 1677.3,294.9Z" fill="#ff2520" stroke="#ff2520" stroke-width="1" fill-rule="evenodd"/>
</g>
<rect x="1470.30" y="22.50" width="525.50" height="407.50" stroke="#000" stroke-width="3" fill="none"/>
<line x1="1470.30" y1="430.00" x2="1457.30" y2="430.00" stroke="#000" stroke-width="3"/>
<line x1="1470.30" y1="362.08" x2="1457.30" y2="362.08" stroke="#000" stroke-width="3"/>
<line x1="1470.30" y1="294.17" x2="1457.30" y2="294.17" stroke="#000" stroke-width="3"/>
<line x1="1470.30" y1="226.25" x2="1457.30" y2="226.25" stroke="#000" stroke-width="3"/>
<line x1="1470.30" y1="158.33" x2="1457.30" y2="158.33" stroke="#000" stroke-width="3"/>
<line x1="1470.30" y1="90.42" x2="1457.30" y2="90.42" stroke="#000" stroke-width="3"/>
<line x1="1470.30" y1="22.50" x2="1457.30" y2="22.50" stroke="#000" stroke-width="3"/>
<line x1="1470.30" y1="396.04" x2="1463.30" y2="396.04" stroke="#000" stroke-width="3"/>
<line x1="1470.30" y1="328.12" x2="1463.30" y2="328.12" stroke="#000" stroke-width="3"/>
<line x1="1470.30" y1="260.21" x2="1463.30" y2="260.21" stroke="#000" stroke-width="3"/>
<line x1="1470.30" y1="192.29" x2="1463.30" y2="192.29" stroke="#000" stroke-width="3"/>
<line x1="1470.30" y1="124.38" x2="1463.30" y2="124.38" stroke="#000" stroke-width="3"/>
<line x1="1470.30" y1="56.46" x2="1463.30" y2="56.46" stroke="#000" stroke-width="3"/>
<text font-size="31" text-anchor="end" transform="translate(1439.0,441.0) scale(1.04,1)" fill="#000">0</text>
<text font-size="31" text-anchor="end" transform="translate(1439.0,373.1) scale(1.04,1)" fill="#000">1</text>
<text font-size="31" text-anchor="end" transform="translate(1439.0,305.2) scale(1.04,1)" fill="#000">2</text>
<text font-size="31" text-anchor="end" transform="translate(1439.0,237.2) scale(1.04,1)" fill="#000">3</text>
<text font-size="31" text-anchor="end" transform="translate(1439.0,169.3) scale(1.04,1)" fill="#000">4</text>
<text font-size="31" text-anchor="end" transform="translate(1439.0,101.4) scale(1.04,1)" fill="#000">5</text>
<text font-size="31" text-anchor="end" transform="translate(1439.0,33.5) scale(1.04,1)" fill="#000">6</text>
<line x1="1470.30" y1="430.00" x2="1470.30" y2="443.00" stroke="#000" stroke-width="3"/>
<text font-size="31" text-anchor="middle" transform="translate(1470.3,480.0) scale(1.04,1)" fill="#000">0</text>
<line x1="1554.30" y1="430.00" x2="1554.30" y2="443.00" stroke="#000" stroke-width="3"/>
<text font-size="31" text-anchor="middle" transform="translate(1554.3,480.0) scale(1.04,1)" fill="#000">4</text>
<line x1="1638.30" y1="430.00" x2="1638.30" y2="443.00" stroke="#000" stroke-width="3"/>
<text font-size="31" text-anchor="middle" transform="translate(1638.3,480.0) scale(1.04,1)" fill="#000">8</text>
<line x1="1722.30" y1="430.00" x2="1722.30" y2="443.00" stroke="#000" stroke-width="3"/>
<text font-size="31" text-anchor="middle" transform="translate(1722.3,480.0) scale(1.04,1)" fill="#000">12</text>
<line x1="1806.30" y1="430.00" x2="1806.30" y2="443.00" stroke="#000" stroke-width="3"/>
<text font-size="31" text-anchor="middle" transform="translate(1806.3,480.0) scale(1.04,1)" fill="#000">16</text>
<line x1="1890.30" y1="430.00" x2="1890.30" y2="443.00" stroke="#000" stroke-width="3"/>
<text font-size="31" text-anchor="middle" transform="translate(1890.3,480.0) scale(1.04,1)" fill="#000">20</text>
<line x1="1974.30" y1="430.00" x2="1974.30" y2="443.00" stroke="#000" stroke-width="3"/>
<text font-size="31" text-anchor="middle" transform="translate(1974.3,480.0) scale(1.04,1)" fill="#000">24</text>
<line x1="1512.30" y1="430.00" x2="1512.30" y2="437.00" stroke="#000" stroke-width="3"/>
<line x1="1596.30" y1="430.00" x2="1596.30" y2="437.00" stroke="#000" stroke-width="3"/>
<line x1="1680.30" y1="430.00" x2="1680.30" y2="437.00" stroke="#000" stroke-width="3"/>
<line x1="1764.30" y1="430.00" x2="1764.30" y2="437.00" stroke="#000" stroke-width="3"/>
<line x1="1848.30" y1="430.00" x2="1848.30" y2="437.00" stroke="#000" stroke-width="3"/>
<line x1="1932.30" y1="430.00" x2="1932.30" y2="437.00" stroke="#000" stroke-width="3"/>
<text font-size="37" text-anchor="middle" transform="translate(1377.7,230.0) rotate(-90) scale(1.04,1)" fill="#000"><tspan font-style="italic">R</tspan> + Δ<tspan font-style="italic">R</tspan> (Å)</text>
<text font-size="37" text-anchor="middle" transform="translate(1731.0,528.5) scale(1.04,1)" fill="#000"><tspan font-style="italic">K</tspan> (Å<tspan font-size="23" dy="-15.4">−1</tspan><tspan dy="15.4">)</tspan></text>
<text font-size="62" text-anchor="start" font-weight="bold" transform="translate(1345.0,45.5) scale(1.05,1)" fill="#000">c</text>
<rect x="1874.4" y="398.68" width="30" height="10.92" fill="#1d08ff"/>
<rect x="1874.4" y="388.35" width="30" height="10.92" fill="#2c18ff"/>
<rect x="1874.4" y="378.02" width="30" height="10.93" fill="#3a28ff"/>
<rect x="1874.4" y="367.70" width="30" height="10.92" fill="#4938ff"/>
<rect x="1874.4" y="357.38" width="30" height="10.92" fill="#5848ff"/>
<rect x="1874.4" y="347.05" width="30" height="10.92" fill="#6658ff"/>
<rect x="1874.4" y="336.73" width="30" height="10.92" fill="#7568ff"/>
<rect x="1874.4" y="326.40" width="30" height="10.93" fill="#8378ff"/>
<rect x="1874.4" y="316.07" width="30" height="10.92" fill="#9287ff"/>
<rect x="1874.4" y="305.75" width="30" height="10.92" fill="#a097ff"/>
<rect x="1874.4" y="295.43" width="30" height="10.92" fill="#afa7ff"/>
<rect x="1874.4" y="285.10" width="30" height="10.92" fill="#bdb7ff"/>
<rect x="1874.4" y="274.77" width="30" height="10.93" fill="#ccc7ff"/>
<rect x="1874.4" y="264.45" width="30" height="10.92" fill="#dbd7ff"/>
<rect x="1874.4" y="254.12" width="30" height="10.93" fill="#e9e7ff"/>
<rect x="1874.4" y="243.80" width="30" height="10.92" fill="#f8f7ff"/>
<rect x="1874.4" y="233.48" width="30" height="10.92" fill="#fff8f8"/>
<rect x="1874.4" y="223.15" width="30" height="10.93" fill="#ffeae9"/>
<rect x="1874.4" y="212.83" width="30" height="10.92" fill="#ffdcdb"/>
<rect x="1874.4" y="202.50" width="30" height="10.93" fill="#ffcecd"/>
<rect x="1874.4" y="192.18" width="30" height="10.92" fill="#ffc0be"/>
<rect x="1874.4" y="181.85" width="30" height="10.92" fill="#ffb2b0"/>
<rect x="1874.4" y="171.53" width="30" height="10.93" fill="#ffa4a2"/>
<rect x="1874.4" y="161.20" width="30" height="10.92" fill="#ff9693"/>
<rect x="1874.4" y="150.88" width="30" height="10.93" fill="#ff8785"/>
<rect x="1874.4" y="140.55" width="30" height="10.92" fill="#ff7976"/>
<rect x="1874.4" y="130.23" width="30" height="10.92" fill="#ff6b68"/>
<rect x="1874.4" y="119.90" width="30" height="10.92" fill="#ff5d5a"/>
<rect x="1874.4" y="109.58" width="30" height="10.92" fill="#ff4f4b"/>
<rect x="1874.4" y="99.25" width="30" height="10.93" fill="#ff413d"/>
<rect x="1874.4" y="88.93" width="30" height="10.92" fill="#ff332f"/>
<rect x="1874.4" y="78.60" width="30" height="10.92" fill="#ff2520"/>
<rect x="1874.40" y="78.60" width="30.00" height="330.40" stroke="#000" stroke-width="2.6" fill="none"/>
<line x1="1904.40" y1="409.00" x2="1913.00" y2="409.00" stroke="#000" stroke-width="2.6"/>
<text font-size="31" text-anchor="start" transform="translate(1925.0,419.4) scale(1.04,1)" fill="#000">0.00</text>
<line x1="1904.40" y1="367.70" x2="1913.00" y2="367.70" stroke="#000" stroke-width="2.6"/>
<text font-size="31" text-anchor="start" transform="translate(1925.0,378.1) scale(1.04,1)" fill="#000">0.40</text>
<line x1="1904.40" y1="326.40" x2="1913.00" y2="326.40" stroke="#000" stroke-width="2.6"/>
<text font-size="31" text-anchor="start" transform="translate(1925.0,336.8) scale(1.04,1)" fill="#000">0.80</text>
<line x1="1904.40" y1="285.10" x2="1913.00" y2="285.10" stroke="#000" stroke-width="2.6"/>
<text font-size="31" text-anchor="start" transform="translate(1925.0,295.5) scale(1.04,1)" fill="#000">1.20</text>
<line x1="1904.40" y1="243.80" x2="1913.00" y2="243.80" stroke="#000" stroke-width="2.6"/>
<text font-size="31" text-anchor="start" transform="translate(1925.0,254.2) scale(1.04,1)" fill="#000">1.60</text>
<line x1="1904.40" y1="202.50" x2="1913.00" y2="202.50" stroke="#000" stroke-width="2.6"/>
<text font-size="31" text-anchor="start" transform="translate(1925.0,212.9) scale(1.04,1)" fill="#000">2.00</text>
<line x1="1904.40" y1="161.20" x2="1913.00" y2="161.20" stroke="#000" stroke-width="2.6"/>
<text font-size="31" text-anchor="start" transform="translate(1925.0,171.6) scale(1.04,1)" fill="#000">2.40</text>
<line x1="1904.40" y1="119.90" x2="1913.00" y2="119.90" stroke="#000" stroke-width="2.6"/>
<text font-size="31" text-anchor="start" transform="translate(1925.0,130.3) scale(1.04,1)" fill="#000">2.80</text>
<line x1="1904.40" y1="78.60" x2="1913.00" y2="78.60" stroke="#000" stroke-width="2.6"/>
<text font-size="31" text-anchor="start" transform="translate(1925.0,89.0) scale(1.04,1)" fill="#000">3.20</text>
<text font-size="31" text-anchor="start" transform="translate(1871.0,47.3)" fill="#000">unit: a.u.</text>
<path d="M135.5,770.2 L138.8,770.4 L142.1,770.1 L145.3,770.3 L148.6,770.2 L151.9,769.4 L155.2,769.2 L158.4,770.1 L161.7,769.3 L165.0,769.2 L166.5,766.6 L169.6,765.8 L172.7,766.1 L175.7,765.6 L178.8,765.6 L181.9,764.9 L185.0,765.4 L188.1,765.5 L191.1,765.0 L194.2,765.1 L197.3,764.9 L200.4,764.0 L203.4,764.7 L206.5,764.4 L209.6,763.9 L212.7,763.5 L215.8,764.3 L218.8,763.7 L221.9,763.9 L225.0,764.0 L228.0,763.7 L231.1,763.9 L234.1,763.2 L237.1,763.6 L240.2,763.1 L243.2,763.7 L246.2,763.5 L249.2,762.5 L252.3,762.5 L255.3,762.6 L258.3,763.4 L261.4,762.7 L264.4,762.9 L267.4,762.4 L270.5,762.6 L273.5,762.4 L276.5,762.3 L279.5,762.5 L282.6,762.4 L285.6,762.8 L288.6,762.4 L291.7,762.7 L294.7,762.5 L297.7,762.6 L300.8,762.2 L303.8,761.5 L306.8,762.3 L309.8,762.4 L312.9,762.2 L315.9,761.8 L318.9,761.9 L322.0,761.2 L325.0,761.9 L328.0,761.5 L331.0,761.0 L334.0,760.7 L337.0,761.5 L340.0,761.6 L343.0,760.4 L346.0,761.2 L349.0,760.6 L352.0,760.2 L355.0,760.3 L358.0,760.7 L361.0,760.7 L364.0,759.7 L367.0,760.2 L370.0,759.5 L373.0,760.2 L376.0,759.6 L379.0,760.2 L382.0,760.2 L385.0,759.5 L388.0,760.0 L391.0,759.1 L394.0,758.7 L397.0,759.2 L400.0,758.4 L403.0,758.5 L406.0,758.7 L409.0,758.8 L412.0,758.2 L415.0,758.0 L418.0,758.8 L421.0,758.1 L424.0,758.8 L427.0,758.6 L430.0,757.9 L433.0,757.9 L436.1,757.9 L439.1,757.9 L442.1,757.8 L445.2,757.7 L448.2,757.7 L451.2,758.0 L454.2,757.4 L457.3,757.2 L460.3,757.5 L463.3,756.9 L466.4,756.9 L469.4,757.6 L472.4,757.0 L475.5,756.9 L478.5,756.2 L481.5,756.6 L484.5,756.7 L487.6,756.0 L490.6,756.6 L493.6,756.6 L496.7,755.8 L499.7,756.4 L502.7,756.1 L505.8,756.3 L508.8,755.9 L511.8,756.2 L514.8,756.2 L517.9,755.2 L520.9,755.2 L523.9,755.9 L527.0,756.1 L530.0,755.2 L533.0,755.4 L536.1,755.5 L539.1,755.1 L542.1,755.1 L545.2,755.0 L548.2,755.0 L551.2,755.2 L554.2,754.8 L557.3,754.8 L560.3,755.2 L563.3,754.3 L566.4,754.9 L569.4,755.0 L572.4,754.4 L575.5,754.3 L578.5,754.9 L581.5,754.2 L584.5,754.0 L587.6,754.3 L590.6,754.5 L593.6,753.7 L596.7,754.0 L599.7,753.9 L602.7,754.4 L605.8,753.9 L608.8,754.4 L611.8,753.5 L614.8,753.6 L617.9,753.9 L620.9,754.1 L623.9,753.6 L627.0,753.2 L630.0,753.0 L633.0,753.5 L636.1,753.1 L639.1,753.8 L642.2,753.8 L645.2,752.9 L648.3,753.0 L651.3,753.6 L654.3,753.4 L657.4,753.6 L660.4,753.0 L663.5,752.7 L666.5,752.8 L669.6,753.4 L672.6,752.7 L675.7,752.8 L678.7,752.8 L681.7,752.8 L684.8,752.8 L687.8,753.3 L690.9,752.4 L693.9,752.2 L697.0,753.3 L700.0,753.2 L703.1,753.1 L706.2,752.3 L709.3,752.8 L712.4,752.7 L715.5,751.7 L718.5,752.2 L721.6,752.1 L724.7,751.8 L727.8,751.5 L730.9,751.1 L734.0,751.0 L737.1,750.7 L740.2,750.4 L743.3,750.9 L746.4,750.4 L749.4,750.9 L752.5,749.8 L755.6,750.7 L758.7,750.3 L761.8,750.4 L764.9,750.3 L768.0,750.1 L771.1,749.5 L774.2,748.7 L777.3,749.4 L780.4,748.5 L783.5,748.5 L786.6,748.7 L789.7,748.4 L792.8,748.0 L796.0,748.5 L799.1,747.9 L802.2,747.4 L805.3,747.1 L808.4,747.7 L811.5,747.0 L814.6,747.2 L817.7,746.5 L820.8,746.1 L823.9,746.3 L827.1,746.3 L830.3,745.2 L833.4,745.5 L836.6,745.3 L839.8,744.8 L843.0,744.5 L846.1,743.1 L849.3,743.5 L852.5,743.4 L855.7,742.1 L858.8,742.0 L862.0,741.6 L865.2,741.5 L868.6,740.9 L871.9,740.5 L875.3,740.3 L878.7,738.9 L882.1,738.5 L885.4,738.1 L888.8,737.5 L892.0,737.0 L895.2,737.7 L898.4,737.1 L901.6,735.7 L904.8,735.8 L908.0,735.1 L911.1,734.7 L914.3,734.3 L917.5,734.2 L920.7,733.7 L923.9,733.0 L927.1,732.3 L930.4,732.2 L933.6,731.6 L936.9,731.9 L940.1,731.8 L943.4,731.1 L946.6,730.4 L949.9,730.2 L953.1,730.1 L956.4,730.1 L959.6,730.0 L962.8,729.0 L966.0,729.0 L969.3,728.2 L972.5,727.5 L975.7,726.9 L978.9,726.5 L982.1,726.2 L985.3,725.3 L988.6,725.1 L991.8,724.3 L995.0,723.5 L998.3,723.5 L1001.6,723.4 L1004.8,722.3 L1008.1,722.4 L1011.4,722.1 L1014.7,722.3 L1017.9,722.1 L1021.2,721.1 L1024.5,721.4 L1027.8,720.5 L1031.1,719.0 L1034.3,718.5 L1037.6,717.3 L1040.9,717.3 L1044.2,716.4 L1047.4,715.8 L1050.7,714.9 L1054.0,714.0 L1057.3,713.4 L1060.6,712.6 L1063.8,711.4 L1067.1,711.3 L1070.4,709.9 L1073.7,709.4 L1076.9,709.5 L1080.2,708.0 L1083.5,707.4 L1086.7,706.8 L1089.9,707.1 L1093.0,705.6 L1096.2,704.8 L1099.4,705.1 L1102.6,703.6 L1105.7,703.8 L1108.9,703.0 L1112.1,702.6 L1115.3,702.1 L1118.4,701.0 L1121.6,700.6 L1124.8,699.0 L1128.1,699.1 L1131.4,698.0 L1134.6,697.4 L1137.9,695.9 L1141.2,695.8 L1144.5,695.3 L1147.7,693.4 L1151.0,692.9 L1154.3,692.4 L1157.6,692.3 L1160.9,691.1 L1164.1,690.6 L1167.4,690.3 L1170.7,690.3 L1174.0,690.0 L1177.2,689.1 L1180.5,688.7 L1183.8,688.3 L1187.3,686.3 L1190.9,684.5 L1194.4,682.3 L1198.0,680.9 L1201.5,679.6 L1205.0,679.2 L1208.6,679.9 L1212.1,679.5 L1215.7,680.4 L1219.2,680.8 L1222.6,679.2 L1226.1,677.6 L1229.5,676.0 L1232.9,674.7 L1236.4,673.6 L1239.8,671.2 L1243.5,668.5 L1247.2,666.7 L1250.9,664.4 L1254.6,661.3 L1260.5,664.1 L1261.5,649.8 L1263.5,649.5 L1263.5,855.6 L1262.0,883.7 L1257.5,888.6 L1253.6,887.9 L1249.6,886.4 L1245.7,885.2 L1242.2,884.2 L1238.8,883.1 L1235.3,880.8 L1231.9,879.8 L1228.5,878.0 L1225.0,877.0 L1221.6,876.1 L1218.3,875.1 L1214.9,874.4 L1211.6,873.5 L1208.2,873.4 L1204.9,872.7 L1201.5,871.8 L1198.0,871.5 L1194.4,870.8 L1190.9,870.8 L1187.3,869.5 L1183.8,869.9 L1180.6,869.2 L1177.4,869.2 L1174.3,868.9 L1171.1,869.2 L1167.9,869.1 L1164.7,868.7 L1161.6,868.5 L1158.4,868.6 L1155.2,868.7 L1152.0,868.0 L1148.9,868.3 L1145.7,868.5 L1142.5,867.8 L1139.3,866.9 L1136.2,866.4 L1133.0,866.5 L1129.8,865.9 L1126.7,865.7 L1123.5,865.1 L1120.3,863.8 L1117.2,863.2 L1114.0,862.8 L1110.9,862.1 L1107.7,862.2 L1104.5,861.9 L1101.4,861.4 L1098.2,860.1 L1095.0,860.3 L1091.9,859.1 L1088.7,858.7 L1085.6,858.6 L1082.4,857.3 L1079.3,856.7 L1076.1,857.1 L1072.9,855.9 L1069.8,855.5 L1066.6,855.2 L1063.5,854.8 L1060.3,853.5 L1057.2,853.3 L1054.0,852.9 L1050.8,852.6 L1047.7,851.9 L1044.5,852.0 L1041.3,852.0 L1038.2,851.0 L1035.0,850.8 L1031.8,849.9 L1028.7,849.7 L1025.5,849.8 L1022.4,848.7 L1019.2,849.3 L1016.0,848.9 L1012.9,847.6 L1009.7,848.2 L1006.0,847.0 L1002.4,847.0 L998.7,846.5 L995.0,845.5 L991.9,845.6 L988.8,845.2 L985.7,845.1 L982.7,844.1 L979.6,844.3 L976.5,844.2 L973.4,843.6 L970.3,843.1 L967.2,842.2 L964.1,842.3 L961.0,841.8 L958.0,841.9 L954.9,841.5 L951.8,841.1 L948.7,840.3 L945.6,840.5 L942.5,840.1 L939.4,839.3 L936.4,839.8 L933.3,839.2 L930.2,838.2 L927.1,838.8 L924.0,837.6 L921.0,837.5 L917.9,837.6 L914.9,837.1 L911.8,836.8 L908.7,836.6 L905.7,836.0 L902.6,835.5 L899.5,835.0 L896.5,834.6 L893.4,835.0 L890.4,834.8 L887.3,834.2 L884.2,834.1 L881.2,833.3 L878.1,832.9 L875.1,832.7 L872.0,833.0 L868.9,831.7 L865.9,831.9 L862.8,831.3 L859.7,831.6 L856.7,830.8 L853.6,830.4 L850.6,830.2 L847.5,830.0 L844.4,830.1 L841.4,829.3 L838.3,829.7 L835.3,828.6 L832.2,828.5 L829.1,828.1 L826.1,827.9 L823.0,828.4 L820.0,828.1 L816.9,827.2 L813.8,827.0 L810.8,827.0 L807.7,827.2 L804.7,827.0 L801.6,826.7 L798.6,826.3 L795.5,825.5 L792.4,825.5 L789.4,825.1 L786.3,825.2 L783.3,825.0 L780.2,824.3 L777.1,824.2 L774.1,824.6 L771.0,823.4 L768.0,824.1 L764.9,824.0 L761.8,823.9 L758.7,823.1 L755.6,823.1 L752.5,823.0 L749.4,823.0 L746.4,823.2 L743.3,822.8 L740.2,822.2 L737.1,822.7 L734.0,822.1 L730.9,822.1 L727.8,822.1 L724.7,821.1 L721.6,821.9 L718.5,821.6 L715.5,821.3 L712.4,821.2 L709.3,821.0 L706.2,820.5 L703.1,820.8 L700.0,820.0 L697.0,820.5 L693.9,820.6 L690.9,820.3 L687.8,820.3 L684.8,820.7 L681.7,820.5 L678.7,819.5 L675.7,820.2 L672.6,819.9 L669.6,819.1 L666.5,819.4 L663.5,819.2 L660.4,818.9 L657.4,819.4 L654.3,819.7 L651.3,818.9 L648.3,819.5 L645.2,819.2 L642.2,818.4 L639.1,819.2 L636.1,818.8 L633.0,819.1 L630.0,818.8 L627.0,818.7 L623.9,818.2 L620.9,818.6 L617.9,818.7 L614.8,818.6 L611.8,818.0 L608.8,818.3 L605.8,817.9 L602.7,817.3 L599.7,817.2 L596.7,817.2 L593.6,817.2 L590.6,817.1 L587.6,817.4 L584.5,817.6 L581.5,817.3 L578.5,817.1 L575.5,817.3 L572.4,816.8 L569.4,816.9 L566.4,817.2 L563.3,816.7 L560.3,816.4 L557.3,817.2 L554.2,816.9 L551.2,816.4 L548.2,816.3 L545.2,816.4 L542.1,816.4 L539.1,815.9 L536.1,815.6 L533.0,815.7 L530.0,816.3 L527.0,815.6 L523.9,815.9 L520.9,815.6 L517.9,815.6 L514.8,815.5 L511.8,815.8 L508.8,815.5 L505.8,815.3 L502.7,815.4 L499.7,815.5 L496.7,815.9 L493.6,815.3 L490.6,815.3 L487.6,815.8 L484.5,815.7 L481.5,816.1 L478.5,815.3 L475.5,815.7 L472.4,815.6 L469.4,815.2 L466.4,816.3 L463.3,815.4 L460.3,815.2 L457.3,815.7 L454.2,815.3 L451.2,815.8 L448.2,815.5 L445.2,815.2 L442.1,815.1 L439.1,815.9 L436.1,815.4 L433.0,816.0 L430.0,815.6 L427.0,816.0 L424.0,815.2 L421.0,815.0 L418.0,814.9 L415.0,815.5 L412.0,815.1 L409.0,814.7 L406.0,814.3 L403.0,814.9 L400.0,815.1 L397.0,814.6 L394.0,813.8 L391.0,813.7 L388.0,813.7 L385.0,813.7 L382.0,813.4 L379.0,813.3 L376.0,813.9 L373.0,814.1 L370.0,813.2 L367.0,814.0 L364.0,813.3 L361.0,813.6 L358.0,813.6 L355.0,813.6 L352.0,812.4 L349.0,812.6 L346.0,812.8 L343.0,813.2 L340.0,812.0 L337.0,812.2 L334.0,812.7 L331.0,811.7 L328.0,812.0 L325.0,811.8 L322.0,812.1 L318.9,812.3 L315.9,811.3 L312.9,811.9 L309.8,811.8 L306.8,811.9 L303.8,811.4 L300.8,811.8 L297.7,811.0 L294.7,811.0 L291.7,810.7 L288.6,811.2 L285.6,810.8 L282.6,810.5 L279.5,810.2 L276.5,810.8 L273.5,810.6 L270.5,810.6 L267.4,810.1 L264.4,810.2 L261.4,809.7 L258.3,810.3 L255.3,809.3 L252.3,809.8 L249.2,810.0 L246.2,809.8 L243.2,809.1 L240.2,809.1 L237.1,809.8 L234.1,809.4 L231.1,809.6 L228.0,809.5 L225.0,808.9 L221.9,809.3 L218.8,809.0 L215.8,808.4 L212.7,808.3 L209.6,807.8 L206.5,808.1 L203.4,808.6 L200.4,807.5 L197.3,807.9 L194.2,807.2 L191.1,807.0 L188.1,807.6 L185.0,807.0 L181.9,806.6 L178.8,806.6 L175.7,807.1 L172.7,806.9 L169.6,806.0 L166.5,806.2 L165.0,802.1 L161.7,801.2 L158.4,801.7 L155.2,801.6 L151.9,802.1 L148.6,801.9 L145.3,802.2 L142.1,801.9 L138.8,801.6 L135.5,802.0Z" fill="#e98a67"/>
<defs><clipPath id="envclip"><path d="M135.5,770.2 L138.8,770.4 L142.1,770.1 L145.3,770.3 L148.6,770.2 L151.9,769.4 L155.2,769.2 L158.4,770.1 L161.7,769.3 L165.0,769.2 L166.5,766.6 L169.6,765.8 L172.7,766.1 L175.7,765.6 L178.8,765.6 L181.9,764.9 L185.0,765.4 L188.1,765.5 L191.1,765.0 L194.2,765.1 L197.3,764.9 L200.4,764.0 L203.4,764.7 L206.5,764.4 L209.6,763.9 L212.7,763.5 L215.8,764.3 L218.8,763.7 L221.9,763.9 L225.0,764.0 L228.0,763.7 L231.1,763.9 L234.1,763.2 L237.1,763.6 L240.2,763.1 L243.2,763.7 L246.2,763.5 L249.2,762.5 L252.3,762.5 L255.3,762.6 L258.3,763.4 L261.4,762.7 L264.4,762.9 L267.4,762.4 L270.5,762.6 L273.5,762.4 L276.5,762.3 L279.5,762.5 L282.6,762.4 L285.6,762.8 L288.6,762.4 L291.7,762.7 L294.7,762.5 L297.7,762.6 L300.8,762.2 L303.8,761.5 L306.8,762.3 L309.8,762.4 L312.9,762.2 L315.9,761.8 L318.9,761.9 L322.0,761.2 L325.0,761.9 L328.0,761.5 L331.0,761.0 L334.0,760.7 L337.0,761.5 L340.0,761.6 L343.0,760.4 L346.0,761.2 L349.0,760.6 L352.0,760.2 L355.0,760.3 L358.0,760.7 L361.0,760.7 L364.0,759.7 L367.0,760.2 L370.0,759.5 L373.0,760.2 L376.0,759.6 L379.0,760.2 L382.0,760.2 L385.0,759.5 L388.0,760.0 L391.0,759.1 L394.0,758.7 L397.0,759.2 L400.0,758.4 L403.0,758.5 L406.0,758.7 L409.0,758.8 L412.0,758.2 L415.0,758.0 L418.0,758.8 L421.0,758.1 L424.0,758.8 L427.0,758.6 L430.0,757.9 L433.0,757.9 L436.1,757.9 L439.1,757.9 L442.1,757.8 L445.2,757.7 L448.2,757.7 L451.2,758.0 L454.2,757.4 L457.3,757.2 L460.3,757.5 L463.3,756.9 L466.4,756.9 L469.4,757.6 L472.4,757.0 L475.5,756.9 L478.5,756.2 L481.5,756.6 L484.5,756.7 L487.6,756.0 L490.6,756.6 L493.6,756.6 L496.7,755.8 L499.7,756.4 L502.7,756.1 L505.8,756.3 L508.8,755.9 L511.8,756.2 L514.8,756.2 L517.9,755.2 L520.9,755.2 L523.9,755.9 L527.0,756.1 L530.0,755.2 L533.0,755.4 L536.1,755.5 L539.1,755.1 L542.1,755.1 L545.2,755.0 L548.2,755.0 L551.2,755.2 L554.2,754.8 L557.3,754.8 L560.3,755.2 L563.3,754.3 L566.4,754.9 L569.4,755.0 L572.4,754.4 L575.5,754.3 L578.5,754.9 L581.5,754.2 L584.5,754.0 L587.6,754.3 L590.6,754.5 L593.6,753.7 L596.7,754.0 L599.7,753.9 L602.7,754.4 L605.8,753.9 L608.8,754.4 L611.8,753.5 L614.8,753.6 L617.9,753.9 L620.9,754.1 L623.9,753.6 L627.0,753.2 L630.0,753.0 L633.0,753.5 L636.1,753.1 L639.1,753.8 L642.2,753.8 L645.2,752.9 L648.3,753.0 L651.3,753.6 L654.3,753.4 L657.4,753.6 L660.4,753.0 L663.5,752.7 L666.5,752.8 L669.6,753.4 L672.6,752.7 L675.7,752.8 L678.7,752.8 L681.7,752.8 L684.8,752.8 L687.8,753.3 L690.9,752.4 L693.9,752.2 L697.0,753.3 L700.0,753.2 L703.1,753.1 L706.2,752.3 L709.3,752.8 L712.4,752.7 L715.5,751.7 L718.5,752.2 L721.6,752.1 L724.7,751.8 L727.8,751.5 L730.9,751.1 L734.0,751.0 L737.1,750.7 L740.2,750.4 L743.3,750.9 L746.4,750.4 L749.4,750.9 L752.5,749.8 L755.6,750.7 L758.7,750.3 L761.8,750.4 L764.9,750.3 L768.0,750.1 L771.1,749.5 L774.2,748.7 L777.3,749.4 L780.4,748.5 L783.5,748.5 L786.6,748.7 L789.7,748.4 L792.8,748.0 L796.0,748.5 L799.1,747.9 L802.2,747.4 L805.3,747.1 L808.4,747.7 L811.5,747.0 L814.6,747.2 L817.7,746.5 L820.8,746.1 L823.9,746.3 L827.1,746.3 L830.3,745.2 L833.4,745.5 L836.6,745.3 L839.8,744.8 L843.0,744.5 L846.1,743.1 L849.3,743.5 L852.5,743.4 L855.7,742.1 L858.8,742.0 L862.0,741.6 L865.2,741.5 L868.6,740.9 L871.9,740.5 L875.3,740.3 L878.7,738.9 L882.1,738.5 L885.4,738.1 L888.8,737.5 L892.0,737.0 L895.2,737.7 L898.4,737.1 L901.6,735.7 L904.8,735.8 L908.0,735.1 L911.1,734.7 L914.3,734.3 L917.5,734.2 L920.7,733.7 L923.9,733.0 L927.1,732.3 L930.4,732.2 L933.6,731.6 L936.9,731.9 L940.1,731.8 L943.4,731.1 L946.6,730.4 L949.9,730.2 L953.1,730.1 L956.4,730.1 L959.6,730.0 L962.8,729.0 L966.0,729.0 L969.3,728.2 L972.5,727.5 L975.7,726.9 L978.9,726.5 L982.1,726.2 L985.3,725.3 L988.6,725.1 L991.8,724.3 L995.0,723.5 L998.3,723.5 L1001.6,723.4 L1004.8,722.3 L1008.1,722.4 L1011.4,722.1 L1014.7,722.3 L1017.9,722.1 L1021.2,721.1 L1024.5,721.4 L1027.8,720.5 L1031.1,719.0 L1034.3,718.5 L1037.6,717.3 L1040.9,717.3 L1044.2,716.4 L1047.4,715.8 L1050.7,714.9 L1054.0,714.0 L1057.3,713.4 L1060.6,712.6 L1063.8,711.4 L1067.1,711.3 L1070.4,709.9 L1073.7,709.4 L1076.9,709.5 L1080.2,708.0 L1083.5,707.4 L1086.7,706.8 L1089.9,707.1 L1093.0,705.6 L1096.2,704.8 L1099.4,705.1 L1102.6,703.6 L1105.7,703.8 L1108.9,703.0 L1112.1,702.6 L1115.3,702.1 L1118.4,701.0 L1121.6,700.6 L1124.8,699.0 L1128.1,699.1 L1131.4,698.0 L1134.6,697.4 L1137.9,695.9 L1141.2,695.8 L1144.5,695.3 L1147.7,693.4 L1151.0,692.9 L1154.3,692.4 L1157.6,692.3 L1160.9,691.1 L1164.1,690.6 L1167.4,690.3 L1170.7,690.3 L1174.0,690.0 L1177.2,689.1 L1180.5,688.7 L1183.8,688.3 L1187.3,686.3 L1190.9,684.5 L1194.4,682.3 L1198.0,680.9 L1201.5,679.6 L1205.0,679.2 L1208.6,679.9 L1212.1,679.5 L1215.7,680.4 L1219.2,680.8 L1222.6,679.2 L1226.1,677.6 L1229.5,676.0 L1232.9,674.7 L1236.4,673.6 L1239.8,671.2 L1243.5,668.5 L1247.2,666.7 L1250.9,664.4 L1254.6,661.3 L1260.5,664.1 L1261.5,649.8 L1263.5,649.5 L1263.5,855.6 L1262.0,883.7 L1257.5,888.6 L1253.6,887.9 L1249.6,886.4 L1245.7,885.2 L1242.2,884.2 L1238.8,883.1 L1235.3,880.8 L1231.9,879.8 L1228.5,878.0 L1225.0,877.0 L1221.6,876.1 L1218.3,875.1 L1214.9,874.4 L1211.6,873.5 L1208.2,873.4 L1204.9,872.7 L1201.5,871.8 L1198.0,871.5 L1194.4,870.8 L1190.9,870.8 L1187.3,869.5 L1183.8,869.9 L1180.6,869.2 L1177.4,869.2 L1174.3,868.9 L1171.1,869.2 L1167.9,869.1 L1164.7,868.7 L1161.6,868.5 L1158.4,868.6 L1155.2,868.7 L1152.0,868.0 L1148.9,868.3 L1145.7,868.5 L1142.5,867.8 L1139.3,866.9 L1136.2,866.4 L1133.0,866.5 L1129.8,865.9 L1126.7,865.7 L1123.5,865.1 L1120.3,863.8 L1117.2,863.2 L1114.0,862.8 L1110.9,862.1 L1107.7,862.2 L1104.5,861.9 L1101.4,861.4 L1098.2,860.1 L1095.0,860.3 L1091.9,859.1 L1088.7,858.7 L1085.6,858.6 L1082.4,857.3 L1079.3,856.7 L1076.1,857.1 L1072.9,855.9 L1069.8,855.5 L1066.6,855.2 L1063.5,854.8 L1060.3,853.5 L1057.2,853.3 L1054.0,852.9 L1050.8,852.6 L1047.7,851.9 L1044.5,852.0 L1041.3,852.0 L1038.2,851.0 L1035.0,850.8 L1031.8,849.9 L1028.7,849.7 L1025.5,849.8 L1022.4,848.7 L1019.2,849.3 L1016.0,848.9 L1012.9,847.6 L1009.7,848.2 L1006.0,847.0 L1002.4,847.0 L998.7,846.5 L995.0,845.5 L991.9,845.6 L988.8,845.2 L985.7,845.1 L982.7,844.1 L979.6,844.3 L976.5,844.2 L973.4,843.6 L970.3,843.1 L967.2,842.2 L964.1,842.3 L961.0,841.8 L958.0,841.9 L954.9,841.5 L951.8,841.1 L948.7,840.3 L945.6,840.5 L942.5,840.1 L939.4,839.3 L936.4,839.8 L933.3,839.2 L930.2,838.2 L927.1,838.8 L924.0,837.6 L921.0,837.5 L917.9,837.6 L914.9,837.1 L911.8,836.8 L908.7,836.6 L905.7,836.0 L902.6,835.5 L899.5,835.0 L896.5,834.6 L893.4,835.0 L890.4,834.8 L887.3,834.2 L884.2,834.1 L881.2,833.3 L878.1,832.9 L875.1,832.7 L872.0,833.0 L868.9,831.7 L865.9,831.9 L862.8,831.3 L859.7,831.6 L856.7,830.8 L853.6,830.4 L850.6,830.2 L847.5,830.0 L844.4,830.1 L841.4,829.3 L838.3,829.7 L835.3,828.6 L832.2,828.5 L829.1,828.1 L826.1,827.9 L823.0,828.4 L820.0,828.1 L816.9,827.2 L813.8,827.0 L810.8,827.0 L807.7,827.2 L804.7,827.0 L801.6,826.7 L798.6,826.3 L795.5,825.5 L792.4,825.5 L789.4,825.1 L786.3,825.2 L783.3,825.0 L780.2,824.3 L777.1,824.2 L774.1,824.6 L771.0,823.4 L768.0,824.1 L764.9,824.0 L761.8,823.9 L758.7,823.1 L755.6,823.1 L752.5,823.0 L749.4,823.0 L746.4,823.2 L743.3,822.8 L740.2,822.2 L737.1,822.7 L734.0,822.1 L730.9,822.1 L727.8,822.1 L724.7,821.1 L721.6,821.9 L718.5,821.6 L715.5,821.3 L712.4,821.2 L709.3,821.0 L706.2,820.5 L703.1,820.8 L700.0,820.0 L697.0,820.5 L693.9,820.6 L690.9,820.3 L687.8,820.3 L684.8,820.7 L681.7,820.5 L678.7,819.5 L675.7,820.2 L672.6,819.9 L669.6,819.1 L666.5,819.4 L663.5,819.2 L660.4,818.9 L657.4,819.4 L654.3,819.7 L651.3,818.9 L648.3,819.5 L645.2,819.2 L642.2,818.4 L639.1,819.2 L636.1,818.8 L633.0,819.1 L630.0,818.8 L627.0,818.7 L623.9,818.2 L620.9,818.6 L617.9,818.7 L614.8,818.6 L611.8,818.0 L608.8,818.3 L605.8,817.9 L602.7,817.3 L599.7,817.2 L596.7,817.2 L593.6,817.2 L590.6,817.1 L587.6,817.4 L584.5,817.6 L581.5,817.3 L578.5,817.1 L575.5,817.3 L572.4,816.8 L569.4,816.9 L566.4,817.2 L563.3,816.7 L560.3,816.4 L557.3,817.2 L554.2,816.9 L551.2,816.4 L548.2,816.3 L545.2,816.4 L542.1,816.4 L539.1,815.9 L536.1,815.6 L533.0,815.7 L530.0,816.3 L527.0,815.6 L523.9,815.9 L520.9,815.6 L517.9,815.6 L514.8,815.5 L511.8,815.8 L508.8,815.5 L505.8,815.3 L502.7,815.4 L499.7,815.5 L496.7,815.9 L493.6,815.3 L490.6,815.3 L487.6,815.8 L484.5,815.7 L481.5,816.1 L478.5,815.3 L475.5,815.7 L472.4,815.6 L469.4,815.2 L466.4,816.3 L463.3,815.4 L460.3,815.2 L457.3,815.7 L454.2,815.3 L451.2,815.8 L448.2,815.5 L445.2,815.2 L442.1,815.1 L439.1,815.9 L436.1,815.4 L433.0,816.0 L430.0,815.6 L427.0,816.0 L424.0,815.2 L421.0,815.0 L418.0,814.9 L415.0,815.5 L412.0,815.1 L409.0,814.7 L406.0,814.3 L403.0,814.9 L400.0,815.1 L397.0,814.6 L394.0,813.8 L391.0,813.7 L388.0,813.7 L385.0,813.7 L382.0,813.4 L379.0,813.3 L376.0,813.9 L373.0,814.1 L370.0,813.2 L367.0,814.0 L364.0,813.3 L361.0,813.6 L358.0,813.6 L355.0,813.6 L352.0,812.4 L349.0,812.6 L346.0,812.8 L343.0,813.2 L340.0,812.0 L337.0,812.2 L334.0,812.7 L331.0,811.7 L328.0,812.0 L325.0,811.8 L322.0,812.1 L318.9,812.3 L315.9,811.3 L312.9,811.9 L309.8,811.8 L306.8,811.9 L303.8,811.4 L300.8,811.8 L297.7,811.0 L294.7,811.0 L291.7,810.7 L288.6,811.2 L285.6,810.8 L282.6,810.5 L279.5,810.2 L276.5,810.8 L273.5,810.6 L270.5,810.6 L267.4,810.1 L264.4,810.2 L261.4,809.7 L258.3,810.3 L255.3,809.3 L252.3,809.8 L249.2,810.0 L246.2,809.8 L243.2,809.1 L240.2,809.1 L237.1,809.8 L234.1,809.4 L231.1,809.6 L228.0,809.5 L225.0,808.9 L221.9,809.3 L218.8,809.0 L215.8,808.4 L212.7,808.3 L209.6,807.8 L206.5,808.1 L203.4,808.6 L200.4,807.5 L197.3,807.9 L194.2,807.2 L191.1,807.0 L188.1,807.6 L185.0,807.0 L181.9,806.6 L178.8,806.6 L175.7,807.1 L172.7,806.9 L169.6,806.0 L166.5,806.2 L165.0,802.1 L161.7,801.2 L158.4,801.7 L155.2,801.6 L151.9,802.1 L148.6,801.9 L145.3,802.2 L142.1,801.9 L138.8,801.6 L135.5,802.0Z"/></clipPath></defs>
<rect x="225" y="743" width="11.5" height="86.5" fill="#8de3f0"/>
<rect x="225" y="743" width="11.5" height="86.5" fill="#82a5a5" clip-path="url(#envclip)"/>
<rect x="225" y="743" width="11.5" height="86.5" fill="none" stroke="#454f4f" stroke-width="1.3"/>
<rect x="1190.3" y="667.8" width="8.8" height="217.7" fill="#8de3f0"/>
<rect x="1190.3" y="667.8" width="8.8" height="217.7" fill="#82a5a5" clip-path="url(#envclip)"/>
<rect x="1190.3" y="667.8" width="8.8" height="217.7" fill="none" stroke="#454f4f" stroke-width="1.3"/>
<rect x="135.30" y="581.50" width="1140.20" height="408.00" stroke="#000" stroke-width="3" fill="none"/>
<line x1="135.30" y1="921.50" x2="122.30" y2="921.50" stroke="#000" stroke-width="3"/>
<line x1="135.30" y1="785.50" x2="122.30" y2="785.50" stroke="#000" stroke-width="3"/>
<line x1="135.30" y1="649.50" x2="122.30" y2="649.50" stroke="#000" stroke-width="3"/>
<line x1="135.30" y1="989.50" x2="128.30" y2="989.50" stroke="#000" stroke-width="3"/>
<line x1="135.30" y1="853.50" x2="128.30" y2="853.50" stroke="#000" stroke-width="3"/>
<line x1="135.30" y1="717.50" x2="128.30" y2="717.50" stroke="#000" stroke-width="3"/>
<line x1="135.30" y1="581.50" x2="128.30" y2="581.50" stroke="#000" stroke-width="3"/>
<text font-size="31" text-anchor="end" transform="translate(111.5,931.5) scale(1.04,1)" fill="#000">-0.2</text>
<text font-size="31" text-anchor="end" transform="translate(111.5,795.5) scale(1.04,1)" fill="#000">0.0</text>
<text font-size="31" text-anchor="end" transform="translate(111.5,659.5) scale(1.04,1)" fill="#000">0.2</text>
<line x1="135.30" y1="989.50" x2="135.30" y2="1002.50" stroke="#000" stroke-width="3"/>
<line x1="325.33" y1="989.50" x2="325.33" y2="1002.50" stroke="#000" stroke-width="3"/>
<line x1="515.37" y1="989.50" x2="515.37" y2="1002.50" stroke="#000" stroke-width="3"/>
<line x1="705.40" y1="989.50" x2="705.40" y2="1002.50" stroke="#000" stroke-width="3"/>
<line x1="895.43" y1="989.50" x2="895.43" y2="1002.50" stroke="#000" stroke-width="3"/>
<line x1="1085.47" y1="989.50" x2="1085.47" y2="1002.50" stroke="#000" stroke-width="3"/>
<line x1="1275.50" y1="989.50" x2="1275.50" y2="1002.50" stroke="#000" stroke-width="3"/>
<line x1="230.32" y1="989.50" x2="230.32" y2="996.50" stroke="#000" stroke-width="3"/>
<line x1="420.35" y1="989.50" x2="420.35" y2="996.50" stroke="#000" stroke-width="3"/>
<line x1="610.38" y1="989.50" x2="610.38" y2="996.50" stroke="#000" stroke-width="3"/>
<line x1="800.42" y1="989.50" x2="800.42" y2="996.50" stroke="#000" stroke-width="3"/>
<line x1="990.45" y1="989.50" x2="990.45" y2="996.50" stroke="#000" stroke-width="3"/>
<line x1="1180.48" y1="989.50" x2="1180.48" y2="996.50" stroke="#000" stroke-width="3"/>
<text font-size="31" text-anchor="middle" transform="translate(135.3,1039.0) scale(1.04,1)" fill="#000">0</text>
<text font-size="31" text-anchor="middle" transform="translate(325.3,1039.0) scale(1.04,1)" fill="#000">200</text>
<text font-size="31" text-anchor="middle" transform="translate(515.4,1039.0) scale(1.04,1)" fill="#000">400</text>
<text font-size="31" text-anchor="middle" transform="translate(705.4,1039.0) scale(1.04,1)" fill="#000">600</text>
<text font-size="31" text-anchor="middle" transform="translate(895.4,1039.0) scale(1.04,1)" fill="#000">800</text>
<text font-size="31" text-anchor="middle" transform="translate(1085.5,1039.0) scale(1.04,1)" fill="#000">1000</text>
<text font-size="31" text-anchor="middle" transform="translate(1275.5,1039.0) scale(1.04,1)" fill="#000">1200</text>
<text font-size="38" text-anchor="middle" transform="translate(701.3,1088.3) scale(1.06,1)" fill="#000">Time (h)</text>
<text font-size="37" text-anchor="middle" transform="translate(38.8,785.3) rotate(-90) scale(1.04,1)" fill="#000">Voltage (V)</text>
<text font-size="62" text-anchor="start" font-weight="bold" transform="translate(9.0,606.0) scale(1.05,1)" fill="#000">d</text>
<text font-size="34" text-anchor="start" transform="translate(152.6,630.5) scale(1.032,1)" fill="#000">0.1 mA cm<tspan font-size="24" dy="-14">−2</tspan><tspan dy="14">, 0.1 mAh cm</tspan><tspan font-size="24" dy="-14">−2</tspan></text>
<text font-size="34" text-anchor="start" transform="translate(1022.0,629.8) scale(1.032,1)" fill="#000">40 °C</text>
<line x1="149.20" y1="683.50" x2="229.70" y2="683.50" stroke="#e98a67" stroke-width="3.7"/>
<text font-size="34" text-anchor="start" transform="translate(238.9,695.5) scale(1.032,1)" fill="#000">Zn|PipZnBr<tspan font-size="24" dy="8.7">4</tspan><tspan dy="-8.7">|Zn cell</tspan></text>
<line x1="304.00" y1="838.00" x2="271.37" y2="829.36" stroke="#000" stroke-width="4"/>
<path d="M253.0,824.5 L274.8,820.4 L269.9,838.8Z" fill="#000"/>
<line x1="1024.50" y1="887.00" x2="1148.00" y2="887.00" stroke="#000" stroke-width="4"/>
<path d="M1167.6,887.0 L1147.0,897.3 L1147.0,876.7Z" fill="#000"/>
<path d="M276.9,883.5 L277.8,896.2 L298.7,897.8 L299.6,897.8 L300.2,885.5 L318.5,884.3 L319.1,896.2 L337.4,897.8 L337.4,897.8 L338.0,885.5 L356.4,884.3 L356.9,896.2 L375.3,897.8 L375.3,897.8 L375.8,885.5 L394.2,884.3 L394.8,896.2 L413.1,897.8 L413.1,897.8 L413.7,885.5 L432.0,884.3 L432.6,896.2 L450.9,897.8 L450.9,897.8 L451.5,885.5 L469.9,884.3 L470.4,896.2 L488.8,897.8 L488.8,897.8 L489.3,885.5 L503.9,884.3" stroke="#e98a67" stroke-width="3.2" fill="none" stroke-linejoin="round" stroke-linecap="round"/>
<rect x="276.90" y="850.40" width="227.00" height="80.30" stroke="#000" stroke-width="2.8" fill="none"/>
<line x1="276.90" y1="930.70" x2="262.90" y2="930.70" stroke="#000" stroke-width="2.8"/>
<line x1="276.90" y1="890.55" x2="262.90" y2="890.55" stroke="#000" stroke-width="2.8"/>
<line x1="276.90" y1="850.40" x2="262.90" y2="850.40" stroke="#000" stroke-width="2.8"/>
<line x1="276.90" y1="910.62" x2="269.90" y2="910.62" stroke="#000" stroke-width="2.8"/>
<line x1="276.90" y1="870.48" x2="269.90" y2="870.48" stroke="#000" stroke-width="2.8"/>
<text font-size="30" text-anchor="end" transform="translate(254.2,940.0) scale(1.04,1)" fill="#000">-0.2</text>
<text font-size="30" text-anchor="end" transform="translate(254.2,899.8) scale(1.04,1)" fill="#000">0.0</text>
<text font-size="30" text-anchor="end" transform="translate(254.2,859.7) scale(1.04,1)" fill="#000">0.2</text>
<line x1="276.90" y1="930.70" x2="276.90" y2="943.70" stroke="#000" stroke-width="2.8"/>
<line x1="352.57" y1="930.70" x2="352.57" y2="943.70" stroke="#000" stroke-width="2.8"/>
<line x1="428.23" y1="930.70" x2="428.23" y2="943.70" stroke="#000" stroke-width="2.8"/>
<line x1="503.90" y1="930.70" x2="503.90" y2="943.70" stroke="#000" stroke-width="2.8"/>
<line x1="314.73" y1="930.70" x2="314.73" y2="937.70" stroke="#000" stroke-width="2.8"/>
<line x1="390.40" y1="930.70" x2="390.40" y2="937.70" stroke="#000" stroke-width="2.8"/>
<line x1="466.07" y1="930.70" x2="466.07" y2="937.70" stroke="#000" stroke-width="2.8"/>
<text font-size="30" text-anchor="middle" transform="translate(276.9,977.5) scale(1.04,1)" fill="#000">100</text>
<text font-size="30" text-anchor="middle" transform="translate(352.6,977.5) scale(1.04,1)" fill="#000">104</text>
<text font-size="30" text-anchor="middle" transform="translate(428.2,977.5) scale(1.04,1)" fill="#000">108</text>
<text font-size="30" text-anchor="middle" transform="translate(503.9,977.5) scale(1.04,1)" fill="#000">112</text>
<text font-size="31" text-anchor="middle" transform="translate(188.7,893.5) rotate(-90) scale(1.04,1)" fill="#000">Voltage (V)</text>
<path d="M764.0,910.0 L775.3,910.6 L782.9,914.2 L783.9,868.9 L792.4,866.9 L797.1,865.5 L800.9,861.8 L801.8,863.4 L802.8,910.0 L813.2,911.0 L820.8,914.2 L821.7,868.9 L830.2,866.9 L834.9,865.5 L838.7,861.8 L839.7,863.4 L840.6,910.0 L851.0,911.0 L858.6,914.2 L859.5,868.9 L868.0,866.9 L872.8,865.5 L876.6,861.8 L877.5,863.4 L878.4,910.0 L888.8,911.0 L896.4,914.2 L897.4,868.9 L905.9,866.9 L910.6,865.5 L914.4,861.8 L915.3,863.4 L916.3,910.0 L926.7,911.0 L934.2,914.2 L935.2,868.9 L943.7,866.9 L948.4,865.5 L952.2,861.8 L953.2,863.4 L954.1,910.0 L964.5,911.0 L972.1,914.2 L973.0,868.9 L981.5,866.9 L991.0,862.4" stroke="#e98a67" stroke-width="3.2" fill="none" stroke-linejoin="round" stroke-linecap="round"/>
<rect x="764.00" y="850.40" width="227.00" height="80.30" stroke="#000" stroke-width="2.8" fill="none"/>
<line x1="764.00" y1="930.70" x2="750.00" y2="930.70" stroke="#000" stroke-width="2.8"/>
<line x1="764.00" y1="890.55" x2="750.00" y2="890.55" stroke="#000" stroke-width="2.8"/>
<line x1="764.00" y1="850.40" x2="750.00" y2="850.40" stroke="#000" stroke-width="2.8"/>
<line x1="764.00" y1="910.62" x2="757.00" y2="910.62" stroke="#000" stroke-width="2.8"/>
<line x1="764.00" y1="870.48" x2="757.00" y2="870.48" stroke="#000" stroke-width="2.8"/>
<text font-size="30" text-anchor="end" transform="translate(740.0,940.0) scale(1.04,1)" fill="#000">-0.2</text>
<text font-size="30" text-anchor="end" transform="translate(740.0,899.8) scale(1.04,1)" fill="#000">0.0</text>
<text font-size="30" text-anchor="end" transform="translate(740.0,859.7) scale(1.04,1)" fill="#000">0.2</text>
<line x1="764.00" y1="930.70" x2="764.00" y2="943.70" stroke="#000" stroke-width="2.8"/>
<line x1="839.67" y1="930.70" x2="839.67" y2="943.70" stroke="#000" stroke-width="2.8"/>
<line x1="915.33" y1="930.70" x2="915.33" y2="943.70" stroke="#000" stroke-width="2.8"/>
<line x1="991.00" y1="930.70" x2="991.00" y2="943.70" stroke="#000" stroke-width="2.8"/>
<line x1="801.83" y1="930.70" x2="801.83" y2="937.70" stroke="#000" stroke-width="2.8"/>
<line x1="877.50" y1="930.70" x2="877.50" y2="937.70" stroke="#000" stroke-width="2.8"/>
<line x1="953.17" y1="930.70" x2="953.17" y2="937.70" stroke="#000" stroke-width="2.8"/>
<text font-size="30" text-anchor="middle" transform="translate(764.0,977.5) scale(1.04,1)" fill="#000">1100</text>
<text font-size="30" text-anchor="middle" transform="translate(839.7,977.5) scale(1.04,1)" fill="#000">1104</text>
<text font-size="30" text-anchor="middle" transform="translate(915.3,977.5) scale(1.04,1)" fill="#000">1108</text>
<text font-size="30" text-anchor="middle" transform="translate(991.0,977.5) scale(1.04,1)" fill="#000">1112</text>
<text font-size="31" text-anchor="middle" transform="translate(670.3,899.0) rotate(-90) scale(1.04,1)" fill="#000">Voltage (V)</text>
<defs><radialGradient id="sph" cx="0.5" cy="0.5" r="0.5" fx="0.4" fy="0.32"><stop offset="0" stop-color="#ffffff"/><stop offset="0.16" stop-color="#fbe6dc"/><stop offset="0.34" stop-color="#eb9272"/><stop offset="1" stop-color="#e5825f"/></radialGradient></defs>
<g fill="url(#sph)"><circle cx="1471.9" cy="807.1" r="4.6"/><circle cx="1473.4" cy="777.2" r="4.6"/><circle cx="1474.8" cy="751.0" r="4.6"/><circle cx="1476.3" cy="736.7" r="4.6"/><circle cx="1477.7" cy="731.6" r="4.6"/><circle cx="1479.1" cy="728.2" r="4.6"/><circle cx="1480.6" cy="723.1" r="4.6"/><circle cx="1482.0" cy="719.7" r="4.6"/><circle cx="1483.4" cy="718.0" r="4.6"/><circle cx="1484.9" cy="716.3" r="4.6"/><circle cx="1486.3" cy="714.6" r="4.6"/><circle cx="1487.8" cy="718.0" r="4.6"/><circle cx="1489.2" cy="712.9" r="4.6"/><circle cx="1490.6" cy="714.6" r="4.6"/><circle cx="1492.1" cy="711.2" r="4.6"/><circle cx="1493.5" cy="718.0" r="4.6"/><circle cx="1494.9" cy="711.2" r="4.6"/><circle cx="1496.4" cy="707.7" r="4.6"/><circle cx="1497.8" cy="711.2" r="4.6"/><circle cx="1499.3" cy="714.6" r="4.6"/><circle cx="1500.7" cy="707.7" r="4.6"/><circle cx="1502.1" cy="704.3" r="4.6"/><circle cx="1503.6" cy="700.9" r="4.6"/><circle cx="1505.0" cy="711.2" r="4.6"/><circle cx="1506.5" cy="711.2" r="4.6"/><circle cx="1507.9" cy="700.9" r="4.6"/><circle cx="1509.3" cy="704.3" r="4.6"/><circle cx="1510.8" cy="697.5" r="4.6"/><circle cx="1512.2" cy="700.9" r="4.6"/><circle cx="1513.6" cy="704.3" r="4.6"/><circle cx="1515.1" cy="704.3" r="4.6"/><circle cx="1516.5" cy="690.7" r="4.6"/><circle cx="1518.0" cy="704.3" r="4.6"/><circle cx="1519.4" cy="707.7" r="4.6"/><circle cx="1520.8" cy="707.7" r="4.6"/><circle cx="1522.3" cy="700.9" r="4.6"/><circle cx="1523.7" cy="700.9" r="4.6"/><circle cx="1525.1" cy="704.3" r="4.6"/><circle cx="1526.6" cy="700.9" r="4.6"/><circle cx="1528.0" cy="700.9" r="4.6"/><circle cx="1529.5" cy="697.5" r="4.6"/><circle cx="1530.9" cy="694.1" r="4.6"/><circle cx="1532.3" cy="697.5" r="4.6"/><circle cx="1533.8" cy="707.7" r="4.6"/><circle cx="1535.2" cy="694.1" r="4.6"/><circle cx="1536.6" cy="704.3" r="4.6"/><circle cx="1538.1" cy="697.5" r="4.6"/><circle cx="1539.5" cy="700.9" r="4.6"/><circle cx="1541.0" cy="694.1" r="4.6"/><circle cx="1542.4" cy="697.5" r="4.6"/><circle cx="1543.8" cy="694.1" r="4.6"/><circle cx="1545.3" cy="677.1" r="4.6"/><circle cx="1546.7" cy="694.1" r="4.6"/><circle cx="1548.2" cy="690.7" r="4.6"/><circle cx="1549.6" cy="700.9" r="4.6"/><circle cx="1551.0" cy="694.1" r="4.6"/><circle cx="1552.5" cy="690.7" r="4.6"/><circle cx="1553.9" cy="694.1" r="4.6"/><circle cx="1555.3" cy="690.7" r="4.6"/><circle cx="1556.8" cy="690.7" r="4.6"/><circle cx="1558.2" cy="697.5" r="4.6"/><circle cx="1559.7" cy="687.3" r="4.6"/><circle cx="1561.1" cy="694.1" r="4.6"/><circle cx="1562.5" cy="683.9" r="4.6"/><circle cx="1564.0" cy="694.1" r="4.6"/><circle cx="1565.4" cy="687.3" r="4.6"/><circle cx="1566.8" cy="690.7" r="4.6"/><circle cx="1568.3" cy="687.3" r="4.6"/><circle cx="1569.7" cy="694.1" r="4.6"/><circle cx="1571.2" cy="683.9" r="4.6"/><circle cx="1572.6" cy="690.7" r="4.6"/><circle cx="1574.0" cy="683.9" r="4.6"/><circle cx="1575.5" cy="687.3" r="4.6"/><circle cx="1576.9" cy="687.3" r="4.6"/><circle cx="1578.3" cy="694.1" r="4.6"/><circle cx="1579.8" cy="683.9" r="4.6"/><circle cx="1581.2" cy="687.3" r="4.6"/><circle cx="1582.7" cy="680.5" r="4.6"/><circle cx="1584.1" cy="690.7" r="4.6"/><circle cx="1585.5" cy="683.9" r="4.6"/><circle cx="1587.0" cy="683.9" r="4.6"/><circle cx="1588.4" cy="687.3" r="4.6"/><circle cx="1589.9" cy="687.3" r="4.6"/><circle cx="1591.3" cy="687.3" r="4.6"/><circle cx="1592.7" cy="690.7" r="4.6"/><circle cx="1594.2" cy="690.7" r="4.6"/><circle cx="1595.6" cy="687.3" r="4.6"/><circle cx="1597.0" cy="683.9" r="4.6"/><circle cx="1598.5" cy="680.5" r="4.6"/><circle cx="1599.9" cy="680.5" r="4.6"/><circle cx="1601.4" cy="680.5" r="4.6"/><circle cx="1602.8" cy="680.5" r="4.6"/><circle cx="1604.2" cy="680.5" r="4.6"/><circle cx="1605.7" cy="683.9" r="4.6"/><circle cx="1607.1" cy="680.5" r="4.6"/><circle cx="1608.5" cy="677.1" r="4.6"/><circle cx="1610.0" cy="687.3" r="4.6"/><circle cx="1611.4" cy="687.3" r="4.6"/><circle cx="1612.9" cy="673.7" r="4.6"/><circle cx="1614.3" cy="683.9" r="4.6"/><circle cx="1615.7" cy="680.5" r="4.6"/><circle cx="1617.2" cy="680.5" r="4.6"/><circle cx="1618.6" cy="690.7" r="4.6"/><circle cx="1620.1" cy="673.7" r="4.6"/><circle cx="1621.5" cy="673.7" r="4.6"/><circle cx="1622.9" cy="683.9" r="4.6"/><circle cx="1624.4" cy="680.5" r="4.6"/><circle cx="1625.8" cy="683.9" r="4.6"/><circle cx="1627.2" cy="687.3" r="4.6"/><circle cx="1628.7" cy="683.9" r="4.6"/><circle cx="1630.1" cy="680.5" r="4.6"/><circle cx="1631.6" cy="677.1" r="4.6"/><circle cx="1633.0" cy="680.5" r="4.6"/><circle cx="1634.4" cy="683.9" r="4.6"/><circle cx="1635.9" cy="677.1" r="4.6"/><circle cx="1637.3" cy="687.3" r="4.6"/><circle cx="1638.7" cy="680.5" r="4.6"/><circle cx="1640.2" cy="677.1" r="4.6"/><circle cx="1641.6" cy="683.9" r="4.6"/><circle cx="1643.1" cy="690.7" r="4.6"/><circle cx="1644.5" cy="687.3" r="4.6"/><circle cx="1645.9" cy="680.5" r="4.6"/><circle cx="1647.4" cy="680.5" r="4.6"/><circle cx="1648.8" cy="673.7" r="4.6"/><circle cx="1650.2" cy="687.3" r="4.6"/><circle cx="1651.7" cy="680.5" r="4.6"/><circle cx="1653.1" cy="680.5" r="4.6"/><circle cx="1654.6" cy="683.9" r="4.6"/><circle cx="1656.0" cy="694.1" r="4.6"/><circle cx="1657.4" cy="677.1" r="4.6"/><circle cx="1658.9" cy="670.3" r="4.6"/><circle cx="1660.3" cy="677.1" r="4.6"/><circle cx="1661.8" cy="687.3" r="4.6"/><circle cx="1663.2" cy="683.9" r="4.6"/><circle cx="1664.6" cy="680.5" r="4.6"/><circle cx="1666.1" cy="670.3" r="4.6"/><circle cx="1667.5" cy="677.1" r="4.6"/><circle cx="1668.9" cy="680.5" r="4.6"/><circle cx="1670.4" cy="673.7" r="4.6"/><circle cx="1671.8" cy="659.8" r="4.6"/><circle cx="1673.3" cy="673.7" r="4.6"/><circle cx="1674.7" cy="700.9" r="4.6"/><circle cx="1676.1" cy="683.9" r="4.6"/><circle cx="1677.6" cy="677.1" r="4.6"/><circle cx="1679.0" cy="673.7" r="4.6"/><circle cx="1680.4" cy="677.1" r="4.6"/><circle cx="1681.9" cy="680.5" r="4.6"/><circle cx="1683.3" cy="690.7" r="4.6"/><circle cx="1684.8" cy="683.9" r="4.6"/><circle cx="1686.2" cy="666.9" r="4.6"/><circle cx="1687.6" cy="683.9" r="4.6"/><circle cx="1689.1" cy="677.1" r="4.6"/><circle cx="1690.5" cy="683.9" r="4.6"/><circle cx="1692.0" cy="673.7" r="4.6"/><circle cx="1693.4" cy="680.5" r="4.6"/><circle cx="1694.8" cy="683.9" r="4.6"/><circle cx="1696.3" cy="680.5" r="4.6"/><circle cx="1697.7" cy="677.1" r="4.6"/><circle cx="1699.1" cy="673.7" r="4.6"/><circle cx="1700.6" cy="683.9" r="4.6"/><circle cx="1702.0" cy="680.5" r="4.6"/><circle cx="1703.5" cy="690.7" r="4.6"/><circle cx="1704.9" cy="666.9" r="4.6"/><circle cx="1706.3" cy="666.9" r="4.6"/><circle cx="1707.8" cy="680.5" r="4.6"/><circle cx="1709.2" cy="683.9" r="4.6"/><circle cx="1710.6" cy="687.3" r="4.6"/><circle cx="1712.1" cy="677.1" r="4.6"/><circle cx="1713.5" cy="677.1" r="4.6"/><circle cx="1715.0" cy="663.5" r="4.6"/><circle cx="1716.4" cy="677.1" r="4.6"/><circle cx="1717.8" cy="683.9" r="4.6"/><circle cx="1719.3" cy="642.4" r="4.6"/><circle cx="1720.7" cy="666.9" r="4.6"/><circle cx="1722.2" cy="709.1" r="4.6"/><circle cx="1723.6" cy="690.7" r="4.6"/><circle cx="1725.0" cy="677.1" r="4.6"/><circle cx="1726.5" cy="690.7" r="4.6"/><circle cx="1727.9" cy="649.9" r="4.6"/><circle cx="1729.3" cy="648.9" r="4.6"/><circle cx="1730.8" cy="673.7" r="4.6"/><circle cx="1732.2" cy="677.1" r="4.6"/><circle cx="1733.7" cy="694.1" r="4.6"/><circle cx="1735.1" cy="677.1" r="4.6"/><circle cx="1736.5" cy="687.3" r="4.6"/><circle cx="1738.0" cy="673.7" r="4.6"/><circle cx="1739.4" cy="694.1" r="4.6"/><circle cx="1740.8" cy="683.9" r="4.6"/><circle cx="1742.3" cy="666.9" r="4.6"/><circle cx="1743.7" cy="663.5" r="4.6"/><circle cx="1745.2" cy="683.9" r="4.6"/><circle cx="1746.6" cy="687.3" r="4.6"/><circle cx="1748.0" cy="670.3" r="4.6"/><circle cx="1749.5" cy="670.3" r="4.6"/><circle cx="1750.9" cy="683.9" r="4.6"/><circle cx="1752.3" cy="680.5" r="4.6"/><circle cx="1753.8" cy="680.5" r="4.6"/><circle cx="1755.2" cy="650.9" r="4.6"/><circle cx="1756.7" cy="680.5" r="4.6"/><circle cx="1758.1" cy="666.9" r="4.6"/><circle cx="1759.5" cy="670.3" r="4.6"/><circle cx="1761.0" cy="660.1" r="4.6"/><circle cx="1762.4" cy="677.1" r="4.6"/><circle cx="1763.9" cy="677.1" r="4.6"/><circle cx="1765.3" cy="683.9" r="4.6"/><circle cx="1766.7" cy="677.1" r="4.6"/><circle cx="1768.2" cy="648.9" r="4.6"/><circle cx="1769.6" cy="687.3" r="4.6"/><circle cx="1771.0" cy="670.3" r="4.6"/><circle cx="1772.5" cy="663.5" r="4.6"/><circle cx="1773.9" cy="670.3" r="4.6"/><circle cx="1775.4" cy="663.5" r="4.6"/><circle cx="1776.8" cy="673.7" r="4.6"/><circle cx="1778.2" cy="680.5" r="4.6"/><circle cx="1779.7" cy="673.7" r="4.6"/><circle cx="1781.1" cy="640.7" r="4.6"/><circle cx="1782.5" cy="683.9" r="4.6"/><circle cx="1784.0" cy="687.3" r="4.6"/><circle cx="1785.4" cy="687.3" r="4.6"/><circle cx="1786.9" cy="673.7" r="4.6"/><circle cx="1788.3" cy="673.7" r="4.6"/><circle cx="1789.7" cy="677.1" r="4.6"/><circle cx="1791.2" cy="663.5" r="4.6"/><circle cx="1792.6" cy="673.7" r="4.6"/><circle cx="1794.0" cy="652.3" r="4.6"/><circle cx="1795.5" cy="666.9" r="4.6"/><circle cx="1796.9" cy="680.5" r="4.6"/><circle cx="1798.4" cy="690.7" r="4.6"/><circle cx="1799.8" cy="670.3" r="4.6"/><circle cx="1801.2" cy="680.5" r="4.6"/><circle cx="1802.7" cy="663.5" r="4.6"/><circle cx="1804.1" cy="670.3" r="4.6"/><circle cx="1805.6" cy="666.9" r="4.6"/><circle cx="1807.0" cy="655.3" r="4.6"/><circle cx="1808.4" cy="690.7" r="4.6"/><circle cx="1809.9" cy="670.3" r="4.6"/><circle cx="1811.3" cy="680.5" r="4.6"/><circle cx="1812.7" cy="680.5" r="4.6"/><circle cx="1814.2" cy="677.1" r="4.6"/><circle cx="1815.6" cy="666.9" r="4.6"/><circle cx="1817.1" cy="666.9" r="4.6"/><circle cx="1818.5" cy="666.9" r="4.6"/><circle cx="1819.9" cy="687.3" r="4.6"/><circle cx="1821.4" cy="677.1" r="4.6"/><circle cx="1822.8" cy="660.1" r="4.6"/><circle cx="1824.2" cy="673.7" r="4.6"/><circle cx="1825.7" cy="670.3" r="4.6"/><circle cx="1827.1" cy="680.5" r="4.6"/><circle cx="1828.6" cy="670.3" r="4.6"/><circle cx="1830.0" cy="670.3" r="4.6"/><circle cx="1831.4" cy="666.9" r="4.6"/><circle cx="1832.9" cy="680.5" r="4.6"/><circle cx="1834.3" cy="680.5" r="4.6"/><circle cx="1835.8" cy="680.5" r="4.6"/><circle cx="1837.2" cy="660.1" r="4.6"/><circle cx="1838.6" cy="666.9" r="4.6"/><circle cx="1840.1" cy="673.7" r="4.6"/><circle cx="1841.5" cy="670.3" r="4.6"/><circle cx="1842.9" cy="673.7" r="4.6"/><circle cx="1844.4" cy="670.3" r="4.6"/><circle cx="1845.8" cy="673.7" r="4.6"/><circle cx="1847.3" cy="648.9" r="4.6"/><circle cx="1848.7" cy="683.9" r="4.6"/><circle cx="1850.1" cy="677.1" r="4.6"/><circle cx="1851.6" cy="656.7" r="4.6"/><circle cx="1853.0" cy="670.3" r="4.6"/><circle cx="1854.4" cy="673.7" r="4.6"/><circle cx="1855.9" cy="673.7" r="4.6"/><circle cx="1857.3" cy="673.7" r="4.6"/><circle cx="1858.8" cy="670.3" r="4.6"/><circle cx="1860.2" cy="677.1" r="4.6"/><circle cx="1861.6" cy="670.3" r="4.6"/><circle cx="1863.1" cy="670.3" r="4.6"/><circle cx="1864.5" cy="677.1" r="4.6"/><circle cx="1866.0" cy="677.1" r="4.6"/><circle cx="1867.4" cy="680.5" r="4.6"/><circle cx="1868.8" cy="680.5" r="4.6"/><circle cx="1870.3" cy="652.3" r="4.6"/><circle cx="1871.7" cy="690.7" r="4.6"/><circle cx="1873.1" cy="673.7" r="4.6"/><circle cx="1874.6" cy="677.1" r="4.6"/><circle cx="1876.0" cy="677.1" r="4.6"/><circle cx="1877.5" cy="670.3" r="4.6"/><circle cx="1878.9" cy="663.5" r="4.6"/><circle cx="1880.3" cy="656.7" r="4.6"/><circle cx="1881.8" cy="673.7" r="4.6"/><circle cx="1883.2" cy="677.1" r="4.6"/><circle cx="1884.6" cy="673.7" r="4.6"/><circle cx="1886.1" cy="666.9" r="4.6"/><circle cx="1887.5" cy="673.7" r="4.6"/><circle cx="1889.0" cy="680.5" r="4.6"/><circle cx="1890.4" cy="680.5" r="4.6"/><circle cx="1891.8" cy="680.5" r="4.6"/><circle cx="1893.3" cy="683.9" r="4.6"/><circle cx="1894.7" cy="663.5" r="4.6"/><circle cx="1896.1" cy="670.3" r="4.6"/><circle cx="1897.6" cy="673.7" r="4.6"/><circle cx="1899.0" cy="640.7" r="4.6"/><circle cx="1900.5" cy="677.1" r="4.6"/><circle cx="1901.9" cy="666.9" r="4.6"/><circle cx="1903.3" cy="666.9" r="4.6"/><circle cx="1904.8" cy="683.9" r="4.6"/><circle cx="1906.2" cy="683.9" r="4.6"/><circle cx="1907.7" cy="677.1" r="4.6"/><circle cx="1909.1" cy="663.5" r="4.6"/><circle cx="1910.5" cy="656.7" r="4.6"/><circle cx="1912.0" cy="680.5" r="4.6"/><circle cx="1913.4" cy="738.7" r="4.6"/><circle cx="1914.8" cy="704.7" r="4.6"/><circle cx="1916.3" cy="694.1" r="4.6"/><circle cx="1917.7" cy="673.7" r="4.6"/><circle cx="1919.2" cy="673.7" r="4.6"/><circle cx="1920.6" cy="683.9" r="4.6"/><circle cx="1922.0" cy="677.1" r="4.6"/><circle cx="1923.5" cy="680.5" r="4.6"/><circle cx="1924.9" cy="666.9" r="4.6"/><circle cx="1926.3" cy="653.3" r="4.6"/><circle cx="1927.8" cy="649.9" r="4.6"/><circle cx="1929.2" cy="673.7" r="4.6"/><circle cx="1930.7" cy="683.9" r="4.6"/><circle cx="1932.1" cy="673.7" r="4.6"/><circle cx="1933.5" cy="677.1" r="4.6"/><circle cx="1935.0" cy="653.3" r="4.6"/><circle cx="1936.4" cy="713.5" r="4.6"/><circle cx="1937.8" cy="673.7" r="4.6"/><circle cx="1939.3" cy="663.5" r="4.6"/><circle cx="1940.7" cy="685.6" r="4.6"/><circle cx="1942.2" cy="680.5" r="4.6"/><circle cx="1943.6" cy="673.7" r="4.6"/><circle cx="1945.0" cy="670.3" r="4.6"/><circle cx="1946.5" cy="666.9" r="4.6"/><circle cx="1947.9" cy="666.9" r="4.6"/><circle cx="1949.4" cy="670.3" r="4.6"/><circle cx="1950.8" cy="666.9" r="4.6"/><circle cx="1952.2" cy="673.7" r="4.6"/><circle cx="1953.7" cy="673.7" r="4.6"/><circle cx="1955.1" cy="648.9" r="4.6"/><circle cx="1956.5" cy="663.5" r="4.6"/><circle cx="1958.0" cy="663.5" r="4.6"/><circle cx="1959.4" cy="680.5" r="4.6"/><circle cx="1960.9" cy="666.9" r="4.6"/><circle cx="1962.3" cy="660.1" r="4.6"/><circle cx="1963.7" cy="677.1" r="4.6"/><circle cx="1965.2" cy="656.7" r="4.6"/><circle cx="1966.6" cy="670.3" r="4.6"/><circle cx="1968.0" cy="663.5" r="4.6"/><circle cx="1969.5" cy="666.9" r="4.6"/><circle cx="1970.9" cy="663.5" r="4.6"/><circle cx="1972.4" cy="656.7" r="4.6"/><circle cx="1973.8" cy="666.9" r="4.6"/></g>
<rect x="1470.50" y="581.80" width="524.80" height="408.50" stroke="#000" stroke-width="3" fill="none"/>
<line x1="1470.50" y1="990.30" x2="1457.50" y2="990.30" stroke="#000" stroke-width="3"/>
<line x1="1470.50" y1="922.22" x2="1457.50" y2="922.22" stroke="#000" stroke-width="3"/>
<line x1="1470.50" y1="854.13" x2="1457.50" y2="854.13" stroke="#000" stroke-width="3"/>
<line x1="1470.50" y1="786.05" x2="1457.50" y2="786.05" stroke="#000" stroke-width="3"/>
<line x1="1470.50" y1="717.97" x2="1457.50" y2="717.97" stroke="#000" stroke-width="3"/>
<line x1="1470.50" y1="649.88" x2="1457.50" y2="649.88" stroke="#000" stroke-width="3"/>
<line x1="1470.50" y1="581.80" x2="1457.50" y2="581.80" stroke="#000" stroke-width="3"/>
<line x1="1470.50" y1="956.26" x2="1463.50" y2="956.26" stroke="#000" stroke-width="3"/>
<line x1="1470.50" y1="888.17" x2="1463.50" y2="888.17" stroke="#000" stroke-width="3"/>
<line x1="1470.50" y1="820.09" x2="1463.50" y2="820.09" stroke="#000" stroke-width="3"/>
<line x1="1470.50" y1="752.01" x2="1463.50" y2="752.01" stroke="#000" stroke-width="3"/>
<line x1="1470.50" y1="683.92" x2="1463.50" y2="683.92" stroke="#000" stroke-width="3"/>
<line x1="1470.50" y1="615.84" x2="1463.50" y2="615.84" stroke="#000" stroke-width="3"/>
<text font-size="31" text-anchor="end" transform="translate(1447.0,1000.0) scale(1.04,1)" fill="#000">90</text>
<text font-size="31" text-anchor="end" transform="translate(1447.0,931.9) scale(1.04,1)" fill="#000">92</text>
<text font-size="31" text-anchor="end" transform="translate(1447.0,863.8) scale(1.04,1)" fill="#000">94</text>
<text font-size="31" text-anchor="end" transform="translate(1447.0,795.8) scale(1.04,1)" fill="#000">96</text>
<text font-size="31" text-anchor="end" transform="translate(1447.0,727.7) scale(1.04,1)" fill="#000">98</text>
<text font-size="31" text-anchor="end" transform="translate(1447.0,659.6) scale(1.04,1)" fill="#000">100</text>
<text font-size="31" text-anchor="end" transform="translate(1447.0,591.5) scale(1.04,1)" fill="#000">102</text>
<line x1="1470.50" y1="990.30" x2="1470.50" y2="1003.30" stroke="#000" stroke-width="3"/>
<text font-size="31" text-anchor="middle" transform="translate(1470.5,1039.0) scale(1.04,1)" fill="#000">0</text>
<line x1="1542.40" y1="990.30" x2="1542.40" y2="1003.30" stroke="#000" stroke-width="3"/>
<text font-size="31" text-anchor="middle" transform="translate(1542.4,1039.0) scale(1.04,1)" fill="#000">50</text>
<line x1="1614.30" y1="990.30" x2="1614.30" y2="1003.30" stroke="#000" stroke-width="3"/>
<text font-size="31" text-anchor="middle" transform="translate(1614.3,1039.0) scale(1.04,1)" fill="#000">100</text>
<line x1="1686.20" y1="990.30" x2="1686.20" y2="1003.30" stroke="#000" stroke-width="3"/>
<text font-size="31" text-anchor="middle" transform="translate(1686.2,1039.0) scale(1.04,1)" fill="#000">150</text>
<line x1="1758.10" y1="990.30" x2="1758.10" y2="1003.30" stroke="#000" stroke-width="3"/>
<text font-size="31" text-anchor="middle" transform="translate(1758.1,1039.0) scale(1.04,1)" fill="#000">200</text>
<line x1="1830.00" y1="990.30" x2="1830.00" y2="1003.30" stroke="#000" stroke-width="3"/>
<text font-size="31" text-anchor="middle" transform="translate(1830.0,1039.0) scale(1.04,1)" fill="#000">250</text>
<line x1="1901.90" y1="990.30" x2="1901.90" y2="1003.30" stroke="#000" stroke-width="3"/>
<text font-size="31" text-anchor="middle" transform="translate(1901.9,1039.0) scale(1.04,1)" fill="#000">300</text>
<line x1="1973.80" y1="990.30" x2="1973.80" y2="1003.30" stroke="#000" stroke-width="3"/>
<text font-size="31" text-anchor="middle" transform="translate(1973.8,1039.0) scale(1.04,1)" fill="#000">350</text>
<line x1="1506.45" y1="990.30" x2="1506.45" y2="997.30" stroke="#000" stroke-width="3"/>
<line x1="1578.35" y1="990.30" x2="1578.35" y2="997.30" stroke="#000" stroke-width="3"/>
<line x1="1650.25" y1="990.30" x2="1650.25" y2="997.30" stroke="#000" stroke-width="3"/>
<line x1="1722.15" y1="990.30" x2="1722.15" y2="997.30" stroke="#000" stroke-width="3"/>
<line x1="1794.05" y1="990.30" x2="1794.05" y2="997.30" stroke="#000" stroke-width="3"/>
<line x1="1865.95" y1="990.30" x2="1865.95" y2="997.30" stroke="#000" stroke-width="3"/>
<line x1="1937.85" y1="990.30" x2="1937.85" y2="997.30" stroke="#000" stroke-width="3"/>
<text font-size="37" text-anchor="middle" transform="translate(1732.9,1087.5) scale(1.04,1)" fill="#000">Cycle number</text>
<text font-size="38" text-anchor="middle" transform="translate(1378.5,827.6) rotate(-90) scale(1.006,1)" fill="#000">Coulombic efficiency (%)</text>
<text font-size="62" text-anchor="start" font-weight="bold" transform="translate(1350.0,601.5) scale(1.05,1)" fill="#000">e</text>
<text font-size="34" text-anchor="start" transform="translate(1479.0,620.5) scale(1.032,1)" fill="#000">Zn|PipZnBr<tspan font-size="24" dy="8.7">4</tspan><tspan dy="-8.7">|Ti cell</tspan></text>
<text font-size="34" text-anchor="start" transform="translate(1906.0,623.5) scale(1.032,1)" fill="#000">40 °C</text>
<text font-size="34" text-anchor="start" transform="translate(1572.0,783.0) scale(1.032,1)" fill="#000">Average CE: ~98.9%</text>
<text font-size="34" text-anchor="start" transform="translate(1538.4,889.5) scale(1.032,1)" fill="#000">2 mA cm<tspan font-size="24" dy="-14">−2</tspan><tspan dy="14">, 0.5 mAh cm</tspan><tspan font-size="24" dy="-14">−2</tspan></text>
<g fill="none" stroke="#e8896a" stroke-width="1.4"><circle cx="145.5" cy="1312.5" r="5.6"/><circle cx="150.9" cy="1313.1" r="5.6"/><circle cx="156.3" cy="1316.1" r="5.6"/><circle cx="161.6" cy="1321.1" r="5.6"/><circle cx="167.0" cy="1324.3" r="5.6"/><circle cx="172.4" cy="1330.7" r="5.6"/><circle cx="177.7" cy="1333.5" r="5.6"/><circle cx="183.1" cy="1334.1" r="5.6"/><circle cx="188.5" cy="1334.3" r="5.6"/><circle cx="193.9" cy="1334.8" r="5.6"/><circle cx="199.2" cy="1336.1" r="5.6"/><circle cx="204.6" cy="1337.5" r="5.6"/><circle cx="210.0" cy="1338.0" r="5.6"/><circle cx="215.3" cy="1339.5" r="5.6"/><circle cx="220.7" cy="1339.1" r="5.6"/><circle cx="226.1" cy="1339.9" r="5.6"/><circle cx="231.4" cy="1339.8" r="5.6"/><circle cx="236.8" cy="1341.2" r="5.6"/><circle cx="242.2" cy="1340.7" r="5.6"/><circle cx="247.5" cy="1341.4" r="5.6"/><circle cx="252.9" cy="1338.0" r="5.6"/><circle cx="258.3" cy="1339.3" r="5.6"/><circle cx="263.6" cy="1340.1" r="5.6"/><circle cx="269.0" cy="1341.2" r="5.6"/><circle cx="274.4" cy="1339.1" r="5.6"/><circle cx="279.7" cy="1338.5" r="5.6"/><circle cx="285.1" cy="1340.3" r="5.6"/><circle cx="290.5" cy="1342.4" r="5.6"/><circle cx="295.9" cy="1342.5" r="5.6"/><circle cx="301.2" cy="1340.3" r="5.6"/><circle cx="306.6" cy="1343.8" r="5.6"/><circle cx="312.0" cy="1342.0" r="5.6"/><circle cx="317.3" cy="1344.1" r="5.6"/><circle cx="322.7" cy="1340.8" r="5.6"/><circle cx="328.1" cy="1341.3" r="5.6"/><circle cx="333.4" cy="1340.6" r="5.6"/><circle cx="338.8" cy="1342.4" r="5.6"/><circle cx="344.2" cy="1341.1" r="5.6"/><circle cx="349.5" cy="1342.0" r="5.6"/><circle cx="354.9" cy="1342.3" r="5.6"/><circle cx="360.3" cy="1342.3" r="5.6"/><circle cx="365.6" cy="1342.8" r="5.6"/><circle cx="371.0" cy="1342.8" r="5.6"/><circle cx="376.4" cy="1340.5" r="5.6"/><circle cx="381.8" cy="1340.4" r="5.6"/><circle cx="387.1" cy="1339.5" r="5.6"/><circle cx="392.5" cy="1338.1" r="5.6"/><circle cx="397.9" cy="1340.5" r="5.6"/><circle cx="403.2" cy="1341.2" r="5.6"/><circle cx="408.6" cy="1339.8" r="5.6"/><circle cx="414.0" cy="1340.1" r="5.6"/><circle cx="419.3" cy="1340.1" r="5.6"/><circle cx="424.7" cy="1341.0" r="5.6"/><circle cx="430.1" cy="1338.8" r="5.6"/><circle cx="435.4" cy="1342.2" r="5.6"/><circle cx="440.8" cy="1342.0" r="5.6"/><circle cx="446.2" cy="1342.0" r="5.6"/><circle cx="451.5" cy="1340.5" r="5.6"/><circle cx="456.9" cy="1343.6" r="5.6"/><circle cx="462.3" cy="1343.3" r="5.6"/><circle cx="467.6" cy="1339.7" r="5.6"/><circle cx="473.0" cy="1343.8" r="5.6"/><circle cx="478.4" cy="1342.0" r="5.6"/><circle cx="483.8" cy="1342.4" r="5.6"/><circle cx="489.1" cy="1340.5" r="5.6"/><circle cx="494.5" cy="1342.6" r="5.6"/><circle cx="499.9" cy="1344.8" r="5.6"/><circle cx="505.2" cy="1342.0" r="5.6"/><circle cx="510.6" cy="1340.9" r="5.6"/><circle cx="516.0" cy="1342.9" r="5.6"/><circle cx="521.3" cy="1342.2" r="5.6"/><circle cx="526.7" cy="1342.3" r="5.6"/><circle cx="532.1" cy="1341.9" r="5.6"/><circle cx="537.4" cy="1342.5" r="5.6"/><circle cx="542.8" cy="1340.5" r="5.6"/><circle cx="548.2" cy="1340.4" r="5.6"/><circle cx="553.5" cy="1342.4" r="5.6"/><circle cx="558.9" cy="1342.8" r="5.6"/><circle cx="564.3" cy="1342.5" r="5.6"/><circle cx="569.6" cy="1342.8" r="5.6"/><circle cx="575.0" cy="1343.6" r="5.6"/><circle cx="580.4" cy="1342.1" r="5.6"/><circle cx="585.8" cy="1341.3" r="5.6"/><circle cx="591.1" cy="1341.8" r="5.6"/><circle cx="596.5" cy="1341.9" r="5.6"/><circle cx="601.9" cy="1342.2" r="5.6"/><circle cx="607.2" cy="1340.9" r="5.6"/><circle cx="612.6" cy="1342.6" r="5.6"/><circle cx="618.0" cy="1344.3" r="5.6"/><circle cx="623.3" cy="1341.2" r="5.6"/><circle cx="628.7" cy="1341.4" r="5.6"/><circle cx="634.1" cy="1343.1" r="5.6"/><circle cx="639.4" cy="1342.0" r="5.6"/><circle cx="644.8" cy="1341.8" r="5.6"/><circle cx="650.2" cy="1341.6" r="5.6"/><circle cx="655.5" cy="1341.6" r="5.6"/><circle cx="660.9" cy="1340.7" r="5.6"/><circle cx="666.3" cy="1341.2" r="5.6"/><circle cx="671.7" cy="1340.5" r="5.6"/><circle cx="677.0" cy="1340.0" r="5.6"/><circle cx="682.4" cy="1343.7" r="5.6"/><circle cx="687.8" cy="1342.7" r="5.6"/><circle cx="693.1" cy="1341.6" r="5.6"/><circle cx="698.5" cy="1345.0" r="5.6"/><circle cx="703.9" cy="1341.9" r="5.6"/><circle cx="709.2" cy="1341.3" r="5.6"/><circle cx="714.6" cy="1341.8" r="5.6"/><circle cx="720.0" cy="1340.5" r="5.6"/><circle cx="725.3" cy="1343.9" r="5.6"/><circle cx="730.7" cy="1341.0" r="5.6"/><circle cx="736.1" cy="1342.1" r="5.6"/><circle cx="741.4" cy="1341.5" r="5.6"/><circle cx="746.8" cy="1341.6" r="5.6"/><circle cx="752.2" cy="1344.0" r="5.6"/><circle cx="757.5" cy="1344.3" r="5.6"/><circle cx="762.9" cy="1344.0" r="5.6"/><circle cx="768.3" cy="1341.5" r="5.6"/><circle cx="773.7" cy="1343.9" r="5.6"/><circle cx="779.0" cy="1342.8" r="5.6"/><circle cx="784.4" cy="1343.1" r="5.6"/><circle cx="789.8" cy="1342.1" r="5.6"/><circle cx="795.1" cy="1342.7" r="5.6"/><circle cx="800.5" cy="1342.9" r="5.6"/><circle cx="805.9" cy="1343.8" r="5.6"/><circle cx="811.2" cy="1345.4" r="5.6"/><circle cx="816.6" cy="1341.8" r="5.6"/><circle cx="822.0" cy="1343.0" r="5.6"/><circle cx="827.3" cy="1341.5" r="5.6"/><circle cx="832.7" cy="1342.8" r="5.6"/><circle cx="838.1" cy="1341.3" r="5.6"/><circle cx="843.4" cy="1339.2" r="5.6"/><circle cx="848.8" cy="1341.1" r="5.6"/><circle cx="854.2" cy="1342.2" r="5.6"/><circle cx="859.5" cy="1340.4" r="5.6"/><circle cx="864.9" cy="1339.2" r="5.6"/><circle cx="870.3" cy="1338.8" r="5.6"/><circle cx="875.7" cy="1341.0" r="5.6"/><circle cx="881.0" cy="1341.7" r="5.6"/><circle cx="886.4" cy="1343.3" r="5.6"/><circle cx="891.8" cy="1342.2" r="5.6"/><circle cx="897.1" cy="1343.4" r="5.6"/><circle cx="902.5" cy="1343.9" r="5.6"/><circle cx="907.9" cy="1346.2" r="5.6"/><circle cx="913.2" cy="1343.6" r="5.6"/><circle cx="918.6" cy="1344.3" r="5.6"/><circle cx="924.0" cy="1341.7" r="5.6"/><circle cx="929.3" cy="1342.0" r="5.6"/><circle cx="934.7" cy="1342.2" r="5.6"/><circle cx="940.1" cy="1341.9" r="5.6"/><circle cx="945.4" cy="1342.0" r="5.6"/><circle cx="950.8" cy="1340.9" r="5.6"/><circle cx="956.2" cy="1340.8" r="5.6"/><circle cx="961.5" cy="1343.1" r="5.6"/><circle cx="966.9" cy="1342.6" r="5.6"/><circle cx="972.3" cy="1343.3" r="5.6"/><circle cx="977.7" cy="1343.1" r="5.6"/><circle cx="983.0" cy="1342.5" r="5.6"/><circle cx="988.4" cy="1343.8" r="5.6"/><circle cx="993.8" cy="1343.6" r="5.6"/><circle cx="999.1" cy="1343.2" r="5.6"/><circle cx="1004.5" cy="1343.3" r="5.6"/><circle cx="1009.9" cy="1344.7" r="5.6"/><circle cx="1015.2" cy="1340.8" r="5.6"/><circle cx="1020.6" cy="1341.2" r="5.6"/><circle cx="1026.0" cy="1343.2" r="5.6"/><circle cx="1031.3" cy="1344.0" r="5.6"/><circle cx="1036.7" cy="1342.9" r="5.6"/><circle cx="1042.1" cy="1341.3" r="5.6"/><circle cx="1047.4" cy="1342.4" r="5.6"/><circle cx="1052.8" cy="1343.6" r="5.6"/><circle cx="1058.2" cy="1343.6" r="5.6"/><circle cx="1063.6" cy="1343.8" r="5.6"/><circle cx="1068.9" cy="1339.7" r="5.6"/><circle cx="1074.3" cy="1343.2" r="5.6"/><circle cx="1079.7" cy="1344.4" r="5.6"/><circle cx="1085.0" cy="1344.0" r="5.6"/><circle cx="1090.4" cy="1344.0" r="5.6"/><circle cx="1095.8" cy="1344.3" r="5.6"/><circle cx="1101.1" cy="1342.2" r="5.6"/><circle cx="1106.5" cy="1343.6" r="5.6"/><circle cx="1111.9" cy="1341.4" r="5.6"/><circle cx="1117.2" cy="1342.4" r="5.6"/><circle cx="1122.6" cy="1343.9" r="5.6"/><circle cx="1128.0" cy="1341.4" r="5.6"/><circle cx="1133.3" cy="1339.9" r="5.6"/><circle cx="1138.7" cy="1342.2" r="5.6"/><circle cx="1144.1" cy="1343.5" r="5.6"/><circle cx="1149.4" cy="1341.1" r="5.6"/><circle cx="1154.8" cy="1342.4" r="5.6"/><circle cx="1160.2" cy="1342.4" r="5.6"/><circle cx="1165.6" cy="1340.6" r="5.6"/><circle cx="1170.9" cy="1343.4" r="5.6"/><circle cx="1176.3" cy="1341.8" r="5.6"/><circle cx="1181.7" cy="1343.1" r="5.6"/><circle cx="1187.0" cy="1344.4" r="5.6"/><circle cx="1192.4" cy="1343.5" r="5.6"/><circle cx="1197.8" cy="1341.2" r="5.6"/><circle cx="1203.1" cy="1342.7" r="5.6"/><circle cx="1208.5" cy="1344.4" r="5.6"/></g>
<g fill="url(#sph)"><circle cx="140.2" cy="1265.4" r="7.2"/><circle cx="145.5" cy="1310.5" r="6.4"/><circle cx="150.9" cy="1312.7" r="6.4"/><circle cx="156.3" cy="1315.4" r="6.4"/><circle cx="161.6" cy="1319.1" r="6.4"/><circle cx="167.0" cy="1324.5" r="6.4"/><circle cx="172.4" cy="1329.1" r="6.4"/><circle cx="177.7" cy="1331.3" r="6.4"/><circle cx="183.1" cy="1332.7" r="6.4"/><circle cx="188.5" cy="1333.6" r="6.4"/><circle cx="193.9" cy="1334.5" r="6.4"/><circle cx="199.2" cy="1335.4" r="6.4"/><circle cx="204.6" cy="1335.9" r="6.4"/><circle cx="210.0" cy="1336.3" r="6.4"/><circle cx="215.3" cy="1337.2" r="6.4"/><circle cx="220.7" cy="1337.7" r="6.4"/><circle cx="226.1" cy="1338.1" r="6.4"/><circle cx="231.4" cy="1338.6" r="6.4"/><circle cx="236.8" cy="1339.0" r="6.4"/><circle cx="242.2" cy="1339.0" r="6.4"/><circle cx="247.5" cy="1339.5" r="6.4"/><circle cx="252.9" cy="1335.9" r="6.4"/><circle cx="258.3" cy="1337.2" r="6.4"/><circle cx="263.6" cy="1338.1" r="6.4"/><circle cx="269.0" cy="1339.0" r="6.4"/><circle cx="274.4" cy="1338.1" r="6.4"/><circle cx="279.7" cy="1337.2" r="6.4"/><circle cx="285.1" cy="1338.1" r="6.4"/><circle cx="290.5" cy="1341.3" r="6.4"/><circle cx="295.9" cy="1341.3" r="6.4"/><circle cx="301.2" cy="1339.9" r="6.4"/><circle cx="306.6" cy="1342.3" r="6.4"/><circle cx="312.0" cy="1340.5" r="6.4"/><circle cx="317.3" cy="1342.3" r="6.4"/><circle cx="322.7" cy="1339.5" r="6.4"/><circle cx="328.1" cy="1340.3" r="6.4"/><circle cx="333.4" cy="1339.3" r="6.4"/><circle cx="338.8" cy="1340.9" r="6.4"/><circle cx="344.2" cy="1340.1" r="6.4"/><circle cx="349.5" cy="1340.7" r="6.4"/><circle cx="354.9" cy="1341.1" r="6.4"/><circle cx="360.3" cy="1340.4" r="6.4"/><circle cx="365.6" cy="1341.5" r="6.4"/><circle cx="371.0" cy="1340.8" r="6.4"/><circle cx="376.4" cy="1338.6" r="6.4"/><circle cx="381.8" cy="1339.1" r="6.4"/><circle cx="387.1" cy="1339.5" r="6.4"/><circle cx="392.5" cy="1337.4" r="6.4"/><circle cx="397.9" cy="1339.2" r="6.4"/><circle cx="403.2" cy="1339.7" r="6.4"/><circle cx="408.6" cy="1339.1" r="6.4"/><circle cx="414.0" cy="1339.7" r="6.4"/><circle cx="419.3" cy="1339.6" r="6.4"/><circle cx="424.7" cy="1339.5" r="6.4"/><circle cx="430.1" cy="1337.6" r="6.4"/><circle cx="435.4" cy="1340.6" r="6.4"/><circle cx="440.8" cy="1340.5" r="6.4"/><circle cx="446.2" cy="1340.1" r="6.4"/><circle cx="451.5" cy="1339.0" r="6.4"/><circle cx="456.9" cy="1340.8" r="6.4"/><circle cx="462.3" cy="1341.2" r="6.4"/><circle cx="467.6" cy="1338.7" r="6.4"/><circle cx="473.0" cy="1341.9" r="6.4"/><circle cx="478.4" cy="1341.0" r="6.4"/><circle cx="483.8" cy="1340.2" r="6.4"/><circle cx="489.1" cy="1338.9" r="6.4"/><circle cx="494.5" cy="1341.5" r="6.4"/><circle cx="499.9" cy="1342.7" r="6.4"/><circle cx="505.2" cy="1340.2" r="6.4"/><circle cx="510.6" cy="1341.2" r="6.4"/><circle cx="516.0" cy="1341.1" r="6.4"/><circle cx="521.3" cy="1340.4" r="6.4"/><circle cx="526.7" cy="1340.6" r="6.4"/><circle cx="532.1" cy="1340.6" r="6.4"/><circle cx="537.4" cy="1341.2" r="6.4"/><circle cx="542.8" cy="1339.8" r="6.4"/><circle cx="548.2" cy="1339.6" r="6.4"/><circle cx="553.5" cy="1340.8" r="6.4"/><circle cx="558.9" cy="1341.2" r="6.4"/><circle cx="564.3" cy="1340.2" r="6.4"/><circle cx="569.6" cy="1340.5" r="6.4"/><circle cx="575.0" cy="1341.7" r="6.4"/><circle cx="580.4" cy="1341.2" r="6.4"/><circle cx="585.8" cy="1340.0" r="6.4"/><circle cx="591.1" cy="1341.0" r="6.4"/><circle cx="596.5" cy="1341.2" r="6.4"/><circle cx="601.9" cy="1340.7" r="6.4"/><circle cx="607.2" cy="1340.9" r="6.4"/><circle cx="612.6" cy="1340.9" r="6.4"/><circle cx="618.0" cy="1342.5" r="6.4"/><circle cx="623.3" cy="1339.5" r="6.4"/><circle cx="628.7" cy="1340.8" r="6.4"/><circle cx="634.1" cy="1341.7" r="6.4"/><circle cx="639.4" cy="1340.2" r="6.4"/><circle cx="644.8" cy="1340.7" r="6.4"/><circle cx="650.2" cy="1341.0" r="6.4"/><circle cx="655.5" cy="1340.1" r="6.4"/><circle cx="660.9" cy="1339.2" r="6.4"/><circle cx="666.3" cy="1340.6" r="6.4"/><circle cx="671.7" cy="1339.7" r="6.4"/><circle cx="677.0" cy="1339.3" r="6.4"/><circle cx="682.4" cy="1341.9" r="6.4"/><circle cx="687.8" cy="1341.5" r="6.4"/><circle cx="693.1" cy="1340.4" r="6.4"/><circle cx="698.5" cy="1342.5" r="6.4"/><circle cx="703.9" cy="1341.3" r="6.4"/><circle cx="709.2" cy="1340.0" r="6.4"/><circle cx="714.6" cy="1340.2" r="6.4"/><circle cx="720.0" cy="1340.6" r="6.4"/><circle cx="725.3" cy="1342.7" r="6.4"/><circle cx="730.7" cy="1339.2" r="6.4"/><circle cx="736.1" cy="1340.7" r="6.4"/><circle cx="741.4" cy="1340.5" r="6.4"/><circle cx="746.8" cy="1340.8" r="6.4"/><circle cx="752.2" cy="1342.6" r="6.4"/><circle cx="757.5" cy="1342.3" r="6.4"/><circle cx="762.9" cy="1342.2" r="6.4"/><circle cx="768.3" cy="1339.6" r="6.4"/><circle cx="773.7" cy="1341.9" r="6.4"/><circle cx="779.0" cy="1341.4" r="6.4"/><circle cx="784.4" cy="1341.4" r="6.4"/><circle cx="789.8" cy="1340.8" r="6.4"/><circle cx="795.1" cy="1340.8" r="6.4"/><circle cx="800.5" cy="1341.0" r="6.4"/><circle cx="805.9" cy="1342.3" r="6.4"/><circle cx="811.2" cy="1343.8" r="6.4"/><circle cx="816.6" cy="1341.1" r="6.4"/><circle cx="822.0" cy="1341.1" r="6.4"/><circle cx="827.3" cy="1340.3" r="6.4"/><circle cx="832.7" cy="1341.4" r="6.4"/><circle cx="838.1" cy="1339.1" r="6.4"/><circle cx="843.4" cy="1338.3" r="6.4"/><circle cx="848.8" cy="1339.9" r="6.4"/><circle cx="854.2" cy="1339.5" r="6.4"/><circle cx="859.5" cy="1339.4" r="6.4"/><circle cx="864.9" cy="1338.4" r="6.4"/><circle cx="870.3" cy="1336.9" r="6.4"/><circle cx="875.7" cy="1340.7" r="6.4"/><circle cx="881.0" cy="1340.4" r="6.4"/><circle cx="886.4" cy="1341.2" r="6.4"/><circle cx="891.8" cy="1341.2" r="6.4"/><circle cx="897.1" cy="1341.8" r="6.4"/><circle cx="902.5" cy="1341.6" r="6.4"/><circle cx="907.9" cy="1343.4" r="6.4"/><circle cx="913.2" cy="1342.4" r="6.4"/><circle cx="918.6" cy="1342.5" r="6.4"/><circle cx="924.0" cy="1340.8" r="6.4"/><circle cx="929.3" cy="1340.9" r="6.4"/><circle cx="934.7" cy="1340.5" r="6.4"/><circle cx="940.1" cy="1340.2" r="6.4"/><circle cx="945.4" cy="1341.7" r="6.4"/><circle cx="950.8" cy="1340.6" r="6.4"/><circle cx="956.2" cy="1339.9" r="6.4"/><circle cx="961.5" cy="1341.5" r="6.4"/><circle cx="966.9" cy="1340.6" r="6.4"/><circle cx="972.3" cy="1341.7" r="6.4"/><circle cx="977.7" cy="1342.9" r="6.4"/><circle cx="983.0" cy="1341.5" r="6.4"/><circle cx="988.4" cy="1342.2" r="6.4"/><circle cx="993.8" cy="1341.5" r="6.4"/><circle cx="999.1" cy="1342.0" r="6.4"/><circle cx="1004.5" cy="1341.3" r="6.4"/><circle cx="1009.9" cy="1343.3" r="6.4"/><circle cx="1015.2" cy="1339.9" r="6.4"/><circle cx="1020.6" cy="1340.5" r="6.4"/><circle cx="1026.0" cy="1341.9" r="6.4"/><circle cx="1031.3" cy="1342.4" r="6.4"/><circle cx="1036.7" cy="1341.6" r="6.4"/><circle cx="1042.1" cy="1341.1" r="6.4"/><circle cx="1047.4" cy="1341.3" r="6.4"/><circle cx="1052.8" cy="1341.3" r="6.4"/><circle cx="1058.2" cy="1343.3" r="6.4"/><circle cx="1063.6" cy="1342.6" r="6.4"/><circle cx="1068.9" cy="1340.6" r="6.4"/><circle cx="1074.3" cy="1341.5" r="6.4"/><circle cx="1079.7" cy="1343.0" r="6.4"/><circle cx="1085.0" cy="1342.4" r="6.4"/><circle cx="1090.4" cy="1342.9" r="6.4"/><circle cx="1095.8" cy="1342.6" r="6.4"/><circle cx="1101.1" cy="1339.9" r="6.4"/><circle cx="1106.5" cy="1341.0" r="6.4"/><circle cx="1111.9" cy="1339.9" r="6.4"/><circle cx="1117.2" cy="1340.7" r="6.4"/><circle cx="1122.6" cy="1342.1" r="6.4"/><circle cx="1128.0" cy="1341.4" r="6.4"/><circle cx="1133.3" cy="1339.0" r="6.4"/><circle cx="1138.7" cy="1341.5" r="6.4"/><circle cx="1144.1" cy="1341.8" r="6.4"/><circle cx="1149.4" cy="1339.9" r="6.4"/><circle cx="1154.8" cy="1340.9" r="6.4"/><circle cx="1160.2" cy="1341.0" r="6.4"/><circle cx="1165.6" cy="1339.7" r="6.4"/><circle cx="1170.9" cy="1342.4" r="6.4"/><circle cx="1176.3" cy="1340.6" r="6.4"/><circle cx="1181.7" cy="1341.9" r="6.4"/><circle cx="1187.0" cy="1342.2" r="6.4"/><circle cx="1192.4" cy="1341.7" r="6.4"/><circle cx="1197.8" cy="1340.1" r="6.4"/><circle cx="1203.1" cy="1341.1" r="6.4"/><circle cx="1208.5" cy="1342.6" r="6.4"/></g>
<g fill="none" stroke="#55b6e8" stroke-width="1.5"><circle cx="145.5" cy="1157.1" r="7.0"/><circle cx="150.9" cy="1172.4" r="7.0"/><circle cx="156.3" cy="1201.3" r="7.0"/><circle cx="161.6" cy="1178.2" r="7.0"/><circle cx="167.0" cy="1197.2" r="7.0"/><circle cx="172.4" cy="1213.9" r="7.0"/><circle cx="177.7" cy="1229.5" r="7.0"/><circle cx="183.1" cy="1214.6" r="7.0"/><circle cx="188.5" cy="1223.1" r="7.0"/><circle cx="193.9" cy="1220.7" r="7.0"/><circle cx="199.2" cy="1228.5" r="7.0"/><circle cx="204.6" cy="1219.0" r="7.0"/><circle cx="210.0" cy="1222.4" r="7.0"/><circle cx="215.3" cy="1232.9" r="7.0"/><circle cx="220.7" cy="1221.7" r="7.0"/><circle cx="226.1" cy="1224.1" r="7.0"/><circle cx="231.4" cy="1232.6" r="7.0"/><circle cx="236.8" cy="1219.0" r="7.0"/><circle cx="242.2" cy="1225.8" r="7.0"/><circle cx="247.5" cy="1235.0" r="7.0"/><circle cx="252.9" cy="1275.1" r="7.0"/><circle cx="258.3" cy="1219.0" r="7.0"/><circle cx="263.6" cy="1202.0" r="7.0"/><circle cx="269.0" cy="1250.6" r="7.0"/><circle cx="274.4" cy="1257.1" r="7.0"/><circle cx="279.7" cy="1199.6" r="7.0"/><circle cx="285.1" cy="1229.9" r="7.0"/><circle cx="290.5" cy="1256.4" r="7.0"/><circle cx="295.9" cy="1217.6" r="7.0"/><circle cx="301.2" cy="1222.5" r="7.0"/><circle cx="306.6" cy="1234.4" r="7.0"/><circle cx="312.0" cy="1232.1" r="7.0"/><circle cx="317.3" cy="1217.6" r="7.0"/><circle cx="322.7" cy="1229.1" r="7.0"/><circle cx="328.1" cy="1212.5" r="7.0"/><circle cx="333.4" cy="1220.9" r="7.0"/><circle cx="338.8" cy="1218.3" r="7.0"/><circle cx="344.2" cy="1215.3" r="7.0"/><circle cx="349.5" cy="1246.0" r="7.0"/><circle cx="354.9" cy="1226.5" r="7.0"/><circle cx="360.3" cy="1237.8" r="7.0"/><circle cx="365.6" cy="1230.1" r="7.0"/><circle cx="371.0" cy="1226.8" r="7.0"/><circle cx="376.4" cy="1214.2" r="7.0"/><circle cx="381.8" cy="1226.2" r="7.0"/><circle cx="387.1" cy="1236.0" r="7.0"/><circle cx="392.5" cy="1232.6" r="7.0"/><circle cx="397.9" cy="1210.5" r="7.0"/><circle cx="403.2" cy="1230.7" r="7.0"/><circle cx="408.6" cy="1226.3" r="7.0"/><circle cx="414.0" cy="1210.5" r="7.0"/><circle cx="419.3" cy="1224.9" r="7.0"/><circle cx="424.7" cy="1217.0" r="7.0"/><circle cx="430.1" cy="1226.3" r="7.0"/><circle cx="435.4" cy="1231.6" r="7.0"/><circle cx="440.8" cy="1228.9" r="7.0"/><circle cx="446.2" cy="1238.8" r="7.0"/><circle cx="451.5" cy="1214.1" r="7.0"/><circle cx="456.9" cy="1218.8" r="7.0"/><circle cx="462.3" cy="1221.8" r="7.0"/><circle cx="467.6" cy="1223.2" r="7.0"/><circle cx="473.0" cy="1231.4" r="7.0"/><circle cx="478.4" cy="1229.6" r="7.0"/><circle cx="483.8" cy="1218.3" r="7.0"/><circle cx="489.1" cy="1233.1" r="7.0"/><circle cx="494.5" cy="1233.1" r="7.0"/><circle cx="499.9" cy="1211.1" r="7.0"/><circle cx="505.2" cy="1211.3" r="7.0"/><circle cx="510.6" cy="1223.1" r="7.0"/><circle cx="516.0" cy="1220.8" r="7.0"/><circle cx="521.3" cy="1224.1" r="7.0"/><circle cx="526.7" cy="1212.5" r="7.0"/><circle cx="532.1" cy="1229.9" r="7.0"/><circle cx="537.4" cy="1225.0" r="7.0"/><circle cx="542.8" cy="1221.3" r="7.0"/><circle cx="548.2" cy="1205.4" r="7.0"/><circle cx="553.5" cy="1212.4" r="7.0"/><circle cx="558.9" cy="1228.1" r="7.0"/><circle cx="564.3" cy="1223.6" r="7.0"/><circle cx="569.6" cy="1230.3" r="7.0"/><circle cx="575.0" cy="1231.9" r="7.0"/><circle cx="580.4" cy="1231.9" r="7.0"/><circle cx="585.8" cy="1213.9" r="7.0"/><circle cx="591.1" cy="1225.0" r="7.0"/><circle cx="596.5" cy="1217.6" r="7.0"/><circle cx="601.9" cy="1232.2" r="7.0"/><circle cx="607.2" cy="1231.4" r="7.0"/><circle cx="612.6" cy="1229.5" r="7.0"/><circle cx="618.0" cy="1222.5" r="7.0"/><circle cx="623.3" cy="1219.3" r="7.0"/><circle cx="628.7" cy="1237.4" r="7.0"/><circle cx="634.1" cy="1222.5" r="7.0"/><circle cx="639.4" cy="1235.0" r="7.0"/><circle cx="644.8" cy="1219.2" r="7.0"/><circle cx="650.2" cy="1234.7" r="7.0"/><circle cx="655.5" cy="1235.8" r="7.0"/><circle cx="660.9" cy="1232.4" r="7.0"/><circle cx="666.3" cy="1226.4" r="7.0"/><circle cx="671.7" cy="1235.0" r="7.0"/><circle cx="677.0" cy="1223.8" r="7.0"/><circle cx="682.4" cy="1224.4" r="7.0"/><circle cx="687.8" cy="1225.0" r="7.0"/><circle cx="693.1" cy="1223.3" r="7.0"/><circle cx="698.5" cy="1217.7" r="7.0"/><circle cx="703.9" cy="1232.5" r="7.0"/><circle cx="709.2" cy="1225.8" r="7.0"/><circle cx="714.6" cy="1226.1" r="7.0"/><circle cx="720.0" cy="1244.7" r="7.0"/><circle cx="725.3" cy="1222.2" r="7.0"/><circle cx="730.7" cy="1232.9" r="7.0"/><circle cx="736.1" cy="1225.8" r="7.0"/><circle cx="741.4" cy="1232.4" r="7.0"/><circle cx="746.8" cy="1229.9" r="7.0"/><circle cx="752.2" cy="1224.9" r="7.0"/><circle cx="757.5" cy="1222.8" r="7.0"/><circle cx="762.9" cy="1221.3" r="7.0"/><circle cx="768.3" cy="1232.2" r="7.0"/><circle cx="773.7" cy="1219.4" r="7.0"/><circle cx="779.0" cy="1221.9" r="7.0"/><circle cx="784.4" cy="1229.4" r="7.0"/><circle cx="789.8" cy="1213.9" r="7.0"/><circle cx="795.1" cy="1226.0" r="7.0"/><circle cx="800.5" cy="1218.4" r="7.0"/><circle cx="805.9" cy="1221.8" r="7.0"/><circle cx="811.2" cy="1219.4" r="7.0"/><circle cx="816.6" cy="1224.8" r="7.0"/><circle cx="822.0" cy="1215.3" r="7.0"/><circle cx="827.3" cy="1205.4" r="7.0"/><circle cx="832.7" cy="1221.6" r="7.0"/><circle cx="838.1" cy="1251.6" r="7.0"/><circle cx="843.4" cy="1240.5" r="7.0"/><circle cx="848.8" cy="1209.9" r="7.0"/><circle cx="854.2" cy="1231.0" r="7.0"/><circle cx="859.5" cy="1238.5" r="7.0"/><circle cx="864.9" cy="1191.1" r="7.0"/><circle cx="870.3" cy="1247.6" r="7.0"/><circle cx="875.7" cy="1221.9" r="7.0"/><circle cx="881.0" cy="1215.7" r="7.0"/><circle cx="886.4" cy="1216.6" r="7.0"/><circle cx="891.8" cy="1229.3" r="7.0"/><circle cx="897.1" cy="1212.5" r="7.0"/><circle cx="902.5" cy="1226.5" r="7.0"/><circle cx="907.9" cy="1217.3" r="7.0"/><circle cx="913.2" cy="1231.2" r="7.0"/><circle cx="918.6" cy="1225.2" r="7.0"/><circle cx="924.0" cy="1223.8" r="7.0"/><circle cx="929.3" cy="1225.3" r="7.0"/><circle cx="934.7" cy="1222.1" r="7.0"/><circle cx="940.1" cy="1245.9" r="7.0"/><circle cx="945.4" cy="1211.4" r="7.0"/><circle cx="950.8" cy="1231.0" r="7.0"/><circle cx="956.2" cy="1219.8" r="7.0"/><circle cx="961.5" cy="1233.1" r="7.0"/><circle cx="966.9" cy="1224.3" r="7.0"/><circle cx="972.3" cy="1227.4" r="7.0"/><circle cx="977.7" cy="1240.3" r="7.0"/><circle cx="983.0" cy="1222.3" r="7.0"/><circle cx="988.4" cy="1220.0" r="7.0"/><circle cx="993.8" cy="1236.0" r="7.0"/><circle cx="999.1" cy="1245.1" r="7.0"/><circle cx="1004.5" cy="1231.7" r="7.0"/><circle cx="1009.9" cy="1233.5" r="7.0"/><circle cx="1015.2" cy="1224.8" r="7.0"/><circle cx="1020.6" cy="1226.0" r="7.0"/><circle cx="1026.0" cy="1211.0" r="7.0"/><circle cx="1031.3" cy="1205.4" r="7.0"/><circle cx="1036.7" cy="1246.2" r="7.0"/><circle cx="1042.1" cy="1219.8" r="7.0"/><circle cx="1047.4" cy="1228.2" r="7.0"/><circle cx="1052.8" cy="1224.3" r="7.0"/><circle cx="1058.2" cy="1252.3" r="7.0"/><circle cx="1063.6" cy="1234.1" r="7.0"/><circle cx="1068.9" cy="1215.6" r="7.0"/><circle cx="1074.3" cy="1234.3" r="7.0"/><circle cx="1079.7" cy="1226.8" r="7.0"/><circle cx="1085.0" cy="1246.2" r="7.0"/><circle cx="1090.4" cy="1222.9" r="7.0"/><circle cx="1095.8" cy="1223.8" r="7.0"/><circle cx="1101.1" cy="1217.2" r="7.0"/><circle cx="1106.5" cy="1232.1" r="7.0"/><circle cx="1111.9" cy="1223.0" r="7.0"/><circle cx="1117.2" cy="1227.0" r="7.0"/><circle cx="1122.6" cy="1225.7" r="7.0"/><circle cx="1128.0" cy="1222.8" r="7.0"/><circle cx="1133.3" cy="1228.4" r="7.0"/><circle cx="1138.7" cy="1223.9" r="7.0"/><circle cx="1144.1" cy="1226.1" r="7.0"/><circle cx="1149.4" cy="1216.4" r="7.0"/><circle cx="1154.8" cy="1226.8" r="7.0"/><circle cx="1160.2" cy="1207.1" r="7.0"/><circle cx="1165.6" cy="1223.0" r="7.0"/><circle cx="1170.9" cy="1202.0" r="7.0"/><circle cx="1176.3" cy="1220.1" r="7.0"/><circle cx="1181.7" cy="1221.1" r="7.0"/><circle cx="1187.0" cy="1215.9" r="7.0"/><circle cx="1192.4" cy="1235.0" r="7.0"/><circle cx="1197.8" cy="1244.2" r="7.0"/><circle cx="1203.1" cy="1219.3" r="7.0"/><circle cx="1208.5" cy="1218.9" r="7.0"/></g>
<rect x="134.80" y="1144.40" width="1073.70" height="407.80" stroke="#000" stroke-width="3" fill="none"/>
<line x1="134.80" y1="1552.20" x2="120.80" y2="1552.20" stroke="#000" stroke-width="3"/>
<text font-size="31" text-anchor="end" transform="translate(110.5,1562.0) scale(1.04,1)" fill="#000">0</text>
<line x1="134.80" y1="1461.49" x2="120.80" y2="1461.49" stroke="#000" stroke-width="3"/>
<text font-size="31" text-anchor="end" transform="translate(110.5,1471.3) scale(1.04,1)" fill="#000">100</text>
<line x1="134.80" y1="1370.78" x2="120.80" y2="1370.78" stroke="#000" stroke-width="3"/>
<text font-size="31" text-anchor="end" transform="translate(110.5,1380.6) scale(1.04,1)" fill="#000">200</text>
<line x1="134.80" y1="1280.07" x2="120.80" y2="1280.07" stroke="#000" stroke-width="3"/>
<text font-size="31" text-anchor="end" transform="translate(110.5,1289.9) scale(1.04,1)" fill="#000">300</text>
<line x1="134.80" y1="1189.36" x2="120.80" y2="1189.36" stroke="#000" stroke-width="3"/>
<text font-size="31" text-anchor="end" transform="translate(110.5,1199.2) scale(1.04,1)" fill="#000">400</text>
<line x1="134.80" y1="1506.85" x2="127.80" y2="1506.85" stroke="#000" stroke-width="3"/>
<line x1="134.80" y1="1416.13" x2="127.80" y2="1416.13" stroke="#000" stroke-width="3"/>
<line x1="134.80" y1="1325.42" x2="127.80" y2="1325.42" stroke="#000" stroke-width="3"/>
<line x1="134.80" y1="1234.72" x2="127.80" y2="1234.72" stroke="#000" stroke-width="3"/>
<line x1="134.80" y1="1144.01" x2="127.80" y2="1144.01" stroke="#000" stroke-width="3"/>
<line x1="1208.50" y1="1552.20" x2="1222.50" y2="1552.20" stroke="#000" stroke-width="3"/>
<text font-size="31" text-anchor="start" transform="translate(1235.5,1561.7)" fill="#000">90</text>
<line x1="1208.50" y1="1484.20" x2="1222.50" y2="1484.20" stroke="#000" stroke-width="3"/>
<text font-size="31" text-anchor="start" transform="translate(1235.5,1493.7)" fill="#000">92</text>
<line x1="1208.50" y1="1416.20" x2="1222.50" y2="1416.20" stroke="#000" stroke-width="3"/>
<text font-size="31" text-anchor="start" transform="translate(1235.5,1425.7)" fill="#000">94</text>
<line x1="1208.50" y1="1348.20" x2="1222.50" y2="1348.20" stroke="#000" stroke-width="3"/>
<text font-size="31" text-anchor="start" transform="translate(1235.5,1357.7)" fill="#000">96</text>
<line x1="1208.50" y1="1280.20" x2="1222.50" y2="1280.20" stroke="#000" stroke-width="3"/>
<text font-size="31" text-anchor="start" transform="translate(1235.5,1289.7)" fill="#000">98</text>
<line x1="1208.50" y1="1212.20" x2="1222.50" y2="1212.20" stroke="#000" stroke-width="3"/>
<text font-size="31" text-anchor="start" transform="translate(1235.5,1221.7)" fill="#000">100</text>
<line x1="1208.50" y1="1144.20" x2="1222.50" y2="1144.20" stroke="#000" stroke-width="3"/>
<text font-size="31" text-anchor="start" transform="translate(1235.5,1153.7)" fill="#000">102</text>
<line x1="1208.50" y1="1518.20" x2="1215.50" y2="1518.20" stroke="#000" stroke-width="3"/>
<line x1="1208.50" y1="1450.20" x2="1215.50" y2="1450.20" stroke="#000" stroke-width="3"/>
<line x1="1208.50" y1="1382.20" x2="1215.50" y2="1382.20" stroke="#000" stroke-width="3"/>
<line x1="1208.50" y1="1314.20" x2="1215.50" y2="1314.20" stroke="#000" stroke-width="3"/>
<line x1="1208.50" y1="1246.20" x2="1215.50" y2="1246.20" stroke="#000" stroke-width="3"/>
<line x1="1208.50" y1="1178.20" x2="1215.50" y2="1178.20" stroke="#000" stroke-width="3"/>
<line x1="134.80" y1="1552.20" x2="134.80" y2="1565.20" stroke="#000" stroke-width="3"/>
<text font-size="31" text-anchor="middle" transform="translate(134.8,1599.5) scale(1.04,1)" fill="#000">0</text>
<line x1="242.17" y1="1552.20" x2="242.17" y2="1565.20" stroke="#000" stroke-width="3"/>
<text font-size="31" text-anchor="middle" transform="translate(242.2,1599.5) scale(1.04,1)" fill="#000">20</text>
<line x1="349.54" y1="1552.20" x2="349.54" y2="1565.20" stroke="#000" stroke-width="3"/>
<text font-size="31" text-anchor="middle" transform="translate(349.5,1599.5) scale(1.04,1)" fill="#000">40</text>
<line x1="456.91" y1="1552.20" x2="456.91" y2="1565.20" stroke="#000" stroke-width="3"/>
<text font-size="31" text-anchor="middle" transform="translate(456.9,1599.5) scale(1.04,1)" fill="#000">60</text>
<line x1="564.28" y1="1552.20" x2="564.28" y2="1565.20" stroke="#000" stroke-width="3"/>
<text font-size="31" text-anchor="middle" transform="translate(564.3,1599.5) scale(1.04,1)" fill="#000">80</text>
<line x1="671.65" y1="1552.20" x2="671.65" y2="1565.20" stroke="#000" stroke-width="3"/>
<text font-size="31" text-anchor="middle" transform="translate(671.7,1599.5) scale(1.04,1)" fill="#000">100</text>
<line x1="779.02" y1="1552.20" x2="779.02" y2="1565.20" stroke="#000" stroke-width="3"/>
<text font-size="31" text-anchor="middle" transform="translate(779.0,1599.5) scale(1.04,1)" fill="#000">120</text>
<line x1="886.39" y1="1552.20" x2="886.39" y2="1565.20" stroke="#000" stroke-width="3"/>
<text font-size="31" text-anchor="middle" transform="translate(886.4,1599.5) scale(1.04,1)" fill="#000">140</text>
<line x1="993.76" y1="1552.20" x2="993.76" y2="1565.20" stroke="#000" stroke-width="3"/>
<text font-size="31" text-anchor="middle" transform="translate(993.8,1599.5) scale(1.04,1)" fill="#000">160</text>
<line x1="1101.13" y1="1552.20" x2="1101.13" y2="1565.20" stroke="#000" stroke-width="3"/>
<text font-size="31" text-anchor="middle" transform="translate(1101.1,1599.5) scale(1.04,1)" fill="#000">180</text>
<line x1="1208.50" y1="1552.20" x2="1208.50" y2="1565.20" stroke="#000" stroke-width="3"/>
<text font-size="31" text-anchor="middle" transform="translate(1208.5,1599.5) scale(1.04,1)" fill="#000">200</text>
<line x1="188.49" y1="1552.20" x2="188.49" y2="1559.20" stroke="#000" stroke-width="3"/>
<line x1="295.86" y1="1552.20" x2="295.86" y2="1559.20" stroke="#000" stroke-width="3"/>
<line x1="403.23" y1="1552.20" x2="403.23" y2="1559.20" stroke="#000" stroke-width="3"/>
<line x1="510.60" y1="1552.20" x2="510.60" y2="1559.20" stroke="#000" stroke-width="3"/>
<line x1="617.97" y1="1552.20" x2="617.97" y2="1559.20" stroke="#000" stroke-width="3"/>
<line x1="725.34" y1="1552.20" x2="725.34" y2="1559.20" stroke="#000" stroke-width="3"/>
<line x1="832.70" y1="1552.20" x2="832.70" y2="1559.20" stroke="#000" stroke-width="3"/>
<line x1="940.08" y1="1552.20" x2="940.08" y2="1559.20" stroke="#000" stroke-width="3"/>
<line x1="1047.44" y1="1552.20" x2="1047.44" y2="1559.20" stroke="#000" stroke-width="3"/>
<line x1="1154.82" y1="1552.20" x2="1154.82" y2="1559.20" stroke="#000" stroke-width="3"/>
<text font-size="37" text-anchor="middle" transform="translate(671.6,1647.5) scale(1.04,1)" fill="#000">Cycle number</text>
<text font-size="37" text-anchor="middle" transform="translate(37.6,1346.2) rotate(-90) scale(1.04,1)" fill="#000">Capacity (mAh g<tspan font-size="23" dy="-15.5">−1</tspan><tspan dy="15.5">)</tspan></text>
<text font-size="37" text-anchor="middle" transform="translate(1315.0,1325.6) rotate(-90) scale(0.92,1)" fill="#000">Coulombic efficiency (%)</text>
<text font-size="62" text-anchor="start" font-weight="bold" transform="translate(13.5,1171.0) scale(1.05,1)" fill="#000">f</text>
<line x1="192.10" y1="1160.40" x2="164.22" y2="1152.96" stroke="#000" stroke-width="3.5"/>
<path d="M144.9,1147.8 L167.3,1145.5 L163.1,1160.9Z" fill="#000"/>
<text font-size="31" text-anchor="start" transform="translate(195.3,1176.8)" fill="#000">1st 120.72 %</text>
<text font-size="35" text-anchor="start" transform="translate(563.5,1306.6) scale(1.04,1)" fill="#000">0.2 mA cm<tspan font-size="24" dy="-14.5">−2</tspan></text>
<text font-size="35" text-anchor="start" transform="translate(895.4,1306.6) scale(1.04,1)" fill="#000">40 °C</text>
<path d="M250.3,1350.3 L250.3,1392.6 L163,1392.6" fill="none" stroke="#000" stroke-width="3.5"/>
<line x1="170.00" y1="1392.60" x2="164.30" y2="1392.60" stroke="#000" stroke-width="3.5"/>
<path d="M144.3,1392.6 L165.3,1384.6 L165.3,1400.6Z" fill="#000"/>
<path d="M1095.6,1239.8 L1095.6,1280.8 L1180,1280.8" fill="none" stroke="#000" stroke-width="3.5"/>
<line x1="1170.00" y1="1280.80" x2="1176.40" y2="1280.80" stroke="#000" stroke-width="3.5"/>
<path d="M1196.4,1280.8 L1175.4,1288.8 L1175.4,1272.8Z" fill="#000"/>
<circle cx="161.2" cy="1471.8" r="11.0" fill="none" stroke="#e8896a" stroke-width="1.8"/>
<circle cx="239.2" cy="1471.8" r="11.7" fill="url(#sph)"/>
<circle cx="239.2" cy="1520.4" r="11.0" fill="none" stroke="#55b6e8" stroke-width="1.8"/>
<text font-size="34" text-anchor="start" transform="translate(279.6,1483.6) scale(1.032,1)" fill="#000">Charging/discharging capacity</text>
<text font-size="34" text-anchor="start" transform="translate(279.6,1532.4) scale(1.032,1)" fill="#000">Coulombic efficiency</text>
<text font-size="34" text-anchor="start" transform="translate(806.2,1485.0) scale(1.032,1)" fill="#000">I<tspan font-size="24" dy="8.7">2</tspan><tspan dy="-8.7"> loading: 3.0 mg cm</tspan><tspan font-size="24" dy="-14">−2</tspan></text>
<text font-size="34" text-anchor="start" transform="translate(806.2,1535.6) scale(1.032,1)" fill="#000">Volage range: 0.3 ~ 1.3 V</text>
<defs><clipPath id="gclip"><rect x="1470" y="1144" width="526" height="408"/></clipPath></defs><g clip-path="url(#gclip)">
<path d="M1470.1,1190.7 L1471.3,1191.4 L1472.9,1192.4 L1474.8,1193.6 L1476.9,1194.9 L1479.2,1196.4 L1481.7,1197.8 L1484.2,1199.2 L1486.8,1200.5 L1489.4,1201.8 L1492.1,1203.1 L1494.9,1204.4 L1497.8,1205.7 L1500.9,1207.0 L1504.2,1208.3 L1507.9,1209.5 L1511.9,1210.7 L1516.3,1211.9 L1521.2,1213.0 L1526.3,1214.2 L1531.7,1215.3 L1537.3,1216.3 L1542.8,1217.3 L1548.3,1218.3 L1553.7,1219.2 L1558.9,1220.0 L1564.3,1220.7 L1569.6,1221.4 L1575.0,1222.1 L1580.3,1222.7 L1585.5,1223.2 L1590.6,1223.8 L1595.4,1224.3 L1600.2,1224.8 L1605.0,1225.2 L1609.8,1225.6 L1614.4,1226.0 L1618.8,1226.4 L1622.9,1226.8 L1626.7,1227.2 L1630.0,1227.7 L1632.9,1228.2 L1635.4,1228.8 L1637.5,1229.4 L1639.4,1230.1 L1641.0,1230.7 L1642.6,1231.4 L1644.1,1232.1 L1645.6,1232.8 L1647.1,1233.4 L1648.4,1234.1 L1649.5,1234.7 L1650.6,1235.3 L1651.7,1236.0 L1652.8,1236.8 L1654.0,1237.6 L1655.3,1238.6 L1656.7,1239.6 L1658.2,1240.8 L1659.7,1242.0 L1661.3,1243.2 L1662.9,1244.6 L1664.5,1246.0 L1666.1,1247.5 L1667.6,1249.1 L1669.2,1250.7 L1670.7,1252.4 L1672.3,1254.2 L1673.8,1256.0 L1675.4,1257.9 L1676.9,1259.9 L1678.5,1261.9 L1680.0,1264.0 L1681.5,1266.2 L1682.8,1268.3 L1684.1,1270.4 L1685.4,1272.6 L1686.9,1275.0 L1688.4,1277.6 L1690.3,1280.5 L1692.4,1283.7 L1694.9,1287.4 L1697.7,1291.6 L1700.7,1296.0 L1703.9,1300.7 L1707.2,1305.5 L1710.5,1310.2 L1713.8,1314.9 L1717.0,1319.4 L1720.0,1323.7 L1723.1,1328.1 L1726.2,1332.3 L1729.3,1336.6 L1732.4,1340.8 L1735.5,1345.0 L1738.6,1349.2 L1741.7,1353.4 L1744.8,1357.5 L1747.9,1361.5 L1751.0,1365.5 L1754.1,1369.5 L1757.2,1373.5 L1760.3,1377.5 L1763.4,1381.5 L1766.4,1385.6 L1769.4,1389.8 L1772.4,1394.0 L1775.3,1398.3 L1778.3,1402.5 L1781.2,1406.8 L1784.2,1411.1 L1787.1,1415.4 L1790.2,1419.6 L1793.1,1423.9 L1796.0,1428.2 L1798.9,1432.5 L1801.9,1436.8 L1804.9,1441.0 L1808.1,1445.3 L1811.5,1449.5 L1815.2,1453.6 L1819.3,1457.7 L1823.7,1461.9 L1828.3,1466.0 L1833.1,1470.1 L1838.0,1474.1 L1842.9,1477.9 L1847.7,1481.5 L1852.3,1484.8 L1856.9,1487.9 L1861.6,1490.7 L1866.3,1493.3 L1871.0,1495.8 L1875.5,1498.1 L1879.9,1500.3 L1884.1,1502.5 L1887.9,1504.5 L1891.6,1506.6 L1895.2,1508.7 L1898.6,1510.7 L1901.8,1512.6 L1904.8,1514.3 L1907.4,1515.8 L1909.6,1517.1 L1911.3,1518.1" stroke="#bde8f7" stroke-width="3.4" fill="none" stroke-linejoin="round" stroke-linecap="round"/>
<path d="M1470.1,1491.0 L1470.2,1490.7 L1470.4,1490.5 L1470.5,1490.3 L1470.7,1490.0 L1471.0,1489.6 L1471.4,1489.1 L1471.9,1488.4 L1472.6,1487.6 L1473.5,1486.5 L1474.5,1485.3 L1475.7,1483.9 L1476.9,1482.5 L1478.3,1480.9 L1479.7,1479.2 L1481.1,1477.5 L1482.5,1475.7 L1483.8,1473.9 L1485.1,1472.1 L1486.4,1470.3 L1487.7,1468.4 L1489.2,1466.3 L1490.8,1464.1 L1492.7,1461.5 L1494.8,1458.7 L1497.3,1455.4 L1500.1,1451.7 L1503.1,1447.8 L1506.3,1443.6 L1509.6,1439.4 L1513.0,1435.1 L1516.2,1431.0 L1519.4,1427.1 L1522.5,1423.4 L1525.6,1419.7 L1528.7,1416.1 L1531.8,1412.5 L1534.9,1409.0 L1538.0,1405.5 L1541.0,1402.0 L1544.1,1398.6 L1547.2,1395.1 L1550.3,1391.7 L1553.4,1388.4 L1556.5,1385.1 L1559.6,1381.8 L1562.7,1378.5 L1565.8,1375.3 L1568.9,1372.1 L1572.0,1368.9 L1575.1,1365.8 L1578.2,1362.7 L1581.3,1359.6 L1584.3,1356.5 L1587.4,1353.5 L1590.5,1350.4 L1593.6,1347.3 L1596.7,1344.1 L1599.8,1340.9 L1602.8,1337.7 L1605.9,1334.5 L1609.0,1331.3 L1612.0,1328.1 L1615.1,1325.0 L1618.2,1321.8 L1621.3,1318.6 L1624.3,1315.5 L1627.4,1312.3 L1630.5,1309.2 L1633.6,1306.1 L1636.7,1302.9 L1639.8,1299.8 L1642.9,1296.6 L1646.1,1293.4 L1649.4,1290.0 L1652.7,1286.6 L1656.1,1283.2 L1659.3,1279.9 L1662.3,1276.8 L1665.1,1273.8 L1667.6,1271.2 L1669.8,1268.8 L1671.6,1266.8 L1673.2,1265.0 L1674.6,1263.4 L1675.9,1261.8 L1677.2,1260.2 L1678.6,1258.5 L1680.0,1256.6 L1681.6,1254.5 L1683.1,1252.3 L1684.7,1250.0 L1686.2,1247.7 L1687.8,1245.4 L1689.3,1243.1 L1690.8,1240.9 L1692.4,1238.9 L1693.9,1236.9 L1695.4,1235.0 L1697.0,1233.1 L1698.5,1231.3 L1700.0,1229.6 L1701.5,1227.9 L1703.1,1226.4 L1704.6,1225.0 L1706.0,1223.7 L1707.4,1222.6 L1708.7,1221.6 L1710.0,1220.7 L1711.4,1219.8 L1713.0,1218.9 L1714.8,1218.1 L1717.0,1217.2 L1719.3,1216.2 L1721.7,1215.2 L1724.3,1214.3 L1727.1,1213.4 L1730.1,1212.4 L1733.5,1211.5 L1737.4,1210.6 L1741.7,1209.7 L1746.6,1208.8 L1752.3,1207.9 L1758.4,1207.0 L1764.8,1206.2 L1771.3,1205.3 L1777.8,1204.5 L1784.2,1203.7 L1790.2,1202.9 L1795.9,1202.1 L1801.5,1201.4 L1807.0,1200.7 L1812.5,1200.0 L1817.8,1199.3 L1823.1,1198.6 L1828.3,1197.9 L1833.4,1197.1 L1838.5,1196.3 L1843.4,1195.6 L1848.2,1194.9 L1853.0,1194.1 L1857.6,1193.3 L1862.2,1192.4 L1866.8,1191.4 L1871.2,1190.3 L1875.8,1189.0 L1880.6,1187.4 L1885.4,1185.7 L1890.0,1184.0 L1894.4,1182.2 L1898.3,1180.7 L1901.6,1179.4 L1904.1,1178.4" stroke="#bde8f7" stroke-width="3.4" fill="none" stroke-linejoin="round" stroke-linecap="round"/>
<path d="M1470.1,1190.7 L1471.3,1191.4 L1472.9,1192.4 L1474.8,1193.6 L1476.9,1194.9 L1479.2,1196.4 L1481.7,1197.8 L1484.2,1199.2 L1486.8,1200.5 L1489.4,1201.8 L1492.1,1203.1 L1494.9,1204.4 L1497.8,1205.7 L1500.9,1207.0 L1504.2,1208.3 L1507.9,1209.5 L1511.9,1210.7 L1516.3,1211.9 L1521.2,1213.0 L1526.4,1214.1 L1531.8,1215.2 L1537.4,1216.2 L1543.0,1217.2 L1548.4,1218.2 L1553.7,1219.2 L1558.9,1220.1 L1564.3,1221.1 L1569.7,1221.9 L1575.1,1222.8 L1580.3,1223.6 L1585.2,1224.4 L1589.7,1225.2 L1593.6,1226.0 L1597.0,1226.7 L1600.0,1227.3 L1602.5,1227.9 L1604.8,1228.4 L1606.8,1229.0 L1608.6,1229.6 L1610.4,1230.3 L1612.2,1231.1 L1613.8,1232.0 L1615.3,1232.9 L1616.6,1233.9 L1617.8,1234.9 L1618.9,1236.0 L1620.0,1237.2 L1621.1,1238.4 L1622.2,1239.6 L1623.3,1240.8 L1624.3,1242.0 L1625.3,1243.3 L1626.2,1244.6 L1627.2,1246.0 L1628.2,1247.5 L1629.3,1249.1 L1630.5,1250.8 L1631.9,1252.7 L1633.4,1254.7 L1634.9,1256.8 L1636.5,1259.1 L1638.1,1261.3 L1639.7,1263.6 L1641.3,1265.9 L1642.9,1268.1 L1644.5,1270.3 L1646.0,1272.5 L1647.6,1274.6 L1649.1,1276.8 L1650.6,1279.0 L1652.2,1281.2 L1653.7,1283.3 L1655.3,1285.4 L1656.7,1287.4 L1658.1,1289.3 L1659.4,1291.1 L1660.7,1292.9 L1662.1,1294.8 L1663.7,1296.9 L1665.5,1299.3 L1667.6,1302.1 L1670.1,1305.3 L1673.0,1308.9 L1676.0,1312.8 L1679.3,1317.0 L1682.6,1321.2 L1685.9,1325.4 L1689.2,1329.6 L1692.4,1333.7 L1695.5,1337.6 L1698.5,1341.6 L1701.6,1345.5 L1704.7,1349.4 L1707.7,1353.4 L1710.8,1357.3 L1713.9,1361.1 L1717.0,1364.9 L1720.0,1368.7 L1723.1,1372.3 L1726.2,1376.0 L1729.3,1379.6 L1732.4,1383.2 L1735.5,1386.8 L1738.6,1390.5 L1741.7,1394.1 L1744.8,1397.9 L1747.9,1401.6 L1751.0,1405.4 L1754.1,1409.2 L1757.2,1413.0 L1760.3,1416.8 L1763.4,1420.6 L1766.4,1424.4 L1769.4,1428.2 L1772.4,1432.1 L1775.3,1436.0 L1778.3,1439.9 L1781.2,1443.8 L1784.2,1447.6 L1787.1,1451.3 L1790.2,1454.9 L1793.2,1458.4 L1796.3,1461.9 L1799.4,1465.2 L1802.6,1468.5 L1805.7,1471.7 L1808.9,1474.8 L1812.0,1477.8 L1815.2,1480.8 L1818.4,1483.6 L1821.6,1486.3 L1824.8,1489.0 L1828.0,1491.5 L1831.2,1494.0 L1834.5,1496.4 L1837.8,1498.8 L1841.1,1501.1 L1844.7,1503.5 L1848.6,1506.0 L1852.6,1508.5 L1856.6,1510.9 L1860.4,1513.2 L1863.8,1515.2 L1866.7,1516.8 L1868.9,1518.1" stroke="#8ed4f2" stroke-width="3.4" fill="none" stroke-linejoin="round" stroke-linecap="round"/>
<path d="M1470.1,1497.7 L1470.2,1497.6 L1470.4,1497.4 L1470.5,1497.2 L1470.7,1496.9 L1471.0,1496.5 L1471.4,1496.0 L1471.9,1495.3 L1472.6,1494.4 L1473.5,1493.2 L1474.5,1491.8 L1475.7,1490.2 L1476.9,1488.5 L1478.3,1486.7 L1479.7,1484.8 L1481.1,1482.8 L1482.5,1480.8 L1483.8,1478.8 L1485.1,1476.8 L1486.4,1474.8 L1487.7,1472.6 L1489.2,1470.4 L1490.8,1467.9 L1492.7,1465.1 L1494.8,1462.1 L1497.3,1458.6 L1500.1,1454.8 L1503.1,1450.6 L1506.3,1446.3 L1509.6,1441.8 L1513.0,1437.4 L1516.2,1433.2 L1519.4,1429.1 L1522.5,1425.3 L1525.6,1421.5 L1528.7,1417.8 L1531.8,1414.1 L1534.9,1410.5 L1538.0,1407.0 L1541.0,1403.4 L1544.1,1399.9 L1547.2,1396.4 L1550.3,1393.0 L1553.4,1389.6 L1556.5,1386.2 L1559.6,1382.9 L1562.7,1379.6 L1565.8,1376.3 L1568.9,1373.1 L1572.0,1369.9 L1575.1,1366.8 L1578.2,1363.7 L1581.3,1360.6 L1584.3,1357.6 L1587.4,1354.5 L1590.5,1351.4 L1593.6,1348.3 L1596.7,1345.1 L1599.8,1341.9 L1602.8,1338.6 L1605.9,1335.4 L1609.0,1332.1 L1612.0,1328.9 L1615.1,1325.7 L1618.2,1322.5 L1621.3,1319.3 L1624.3,1316.1 L1627.4,1313.0 L1630.5,1309.9 L1633.6,1306.7 L1636.7,1303.6 L1639.8,1300.5 L1642.9,1297.3 L1646.1,1294.1 L1649.4,1290.7 L1652.7,1287.3 L1656.1,1283.9 L1659.3,1280.6 L1662.3,1277.5 L1665.1,1274.5 L1667.6,1271.8 L1669.8,1269.5 L1671.6,1267.5 L1673.2,1265.7 L1674.6,1264.1 L1675.9,1262.5 L1677.2,1260.9 L1678.6,1259.1 L1680.0,1257.2 L1681.6,1255.2 L1683.1,1253.0 L1684.7,1250.7 L1686.2,1248.4 L1687.8,1246.1 L1689.3,1243.8 L1690.8,1241.6 L1692.4,1239.6 L1693.9,1237.6 L1695.4,1235.6 L1697.0,1233.7 L1698.5,1231.8 L1700.0,1230.0 L1701.5,1228.3 L1703.1,1226.8 L1704.6,1225.3 L1706.0,1224.0 L1707.4,1222.9 L1708.7,1221.9 L1710.0,1221.0 L1711.4,1220.2 L1713.0,1219.3 L1714.8,1218.5 L1717.0,1217.5 L1719.3,1216.5 L1721.7,1215.4 L1724.3,1214.4 L1727.1,1213.3 L1730.1,1212.2 L1733.5,1211.2 L1737.4,1210.1 L1741.7,1209.0 L1746.6,1207.9 L1752.3,1206.9 L1758.4,1205.8 L1764.8,1204.7 L1771.3,1203.6 L1777.8,1202.5 L1784.2,1201.4 L1790.2,1200.2 L1795.8,1198.9 L1801.4,1197.6 L1806.9,1196.2 L1812.4,1194.9 L1817.7,1193.5 L1823.0,1192.1 L1828.3,1190.7 L1833.4,1189.3 L1838.8,1187.9 L1844.4,1186.3 L1850.1,1184.7 L1855.7,1183.2 L1860.9,1181.7 L1865.6,1180.4 L1869.6,1179.3 L1872.5,1178.4" stroke="#8ed4f2" stroke-width="3.4" fill="none" stroke-linejoin="round" stroke-linecap="round"/>
<path d="M1470.9,1191.3 L1472.2,1192.1 L1473.7,1193.1 L1475.6,1194.3 L1477.7,1195.6 L1480.0,1197.0 L1482.5,1198.5 L1485.0,1199.9 L1487.6,1201.2 L1490.3,1202.5 L1492.9,1203.8 L1495.7,1205.1 L1498.6,1206.4 L1501.7,1207.7 L1505.1,1208.9 L1508.7,1210.2 L1512.7,1211.4 L1517.2,1212.5 L1522.0,1213.7 L1527.2,1214.8 L1532.7,1215.8 L1538.2,1216.9 L1543.8,1217.9 L1549.3,1218.9 L1554.5,1219.9 L1559.7,1220.8 L1565.1,1221.7 L1570.6,1222.6 L1575.9,1223.5 L1581.1,1224.3 L1586.0,1225.1 L1590.5,1225.9 L1594.4,1226.7 L1597.8,1227.4 L1600.8,1228.0 L1603.3,1228.6 L1605.6,1229.1 L1607.6,1229.7 L1609.5,1230.3 L1611.2,1231.0 L1613.0,1231.8 L1614.7,1232.6 L1616.1,1233.6 L1617.5,1234.6 L1618.6,1235.6 L1619.8,1236.7 L1620.8,1237.9 L1621.9,1239.0 L1623.0,1240.3 L1624.1,1241.5 L1625.1,1242.7 L1626.1,1244.0 L1627.1,1245.3 L1628.0,1246.7 L1629.0,1248.2 L1630.2,1249.8 L1631.4,1251.5 L1632.7,1253.3 L1634.2,1255.4 L1635.7,1257.5 L1637.3,1259.7 L1638.9,1262.0 L1640.6,1264.3 L1642.2,1266.6 L1643.7,1268.8 L1645.3,1271.0 L1646.8,1273.1 L1648.4,1275.3 L1649.9,1277.5 L1651.5,1279.7 L1653.0,1281.8 L1654.6,1284.0 L1656.1,1286.1 L1657.6,1288.1 L1658.9,1290.0 L1660.2,1291.7 L1661.5,1293.5 L1662.9,1295.5 L1664.5,1297.6 L1666.3,1300.0 L1668.5,1302.8 L1671.0,1306.0 L1673.8,1309.6 L1676.9,1313.5 L1680.1,1317.6 L1683.4,1321.9 L1686.8,1326.1 L1690.1,1330.3 L1693.2,1334.4 L1696.3,1338.3 L1699.4,1342.2 L1702.4,1346.2 L1705.5,1350.1 L1708.6,1354.0 L1711.6,1357.9 L1714.7,1361.8 L1717.8,1365.6 L1720.9,1369.3 L1724.0,1373.0 L1727.1,1376.7 L1730.1,1380.3 L1733.2,1383.9 L1736.3,1387.5 L1739.4,1391.1 L1742.5,1394.8 L1745.6,1398.5 L1748.7,1402.3 L1751.8,1406.1 L1755.0,1409.9 L1758.1,1413.6 L1761.1,1417.4 L1764.2,1421.2 L1767.3,1425.1 L1770.3,1428.9 L1773.2,1432.8 L1776.2,1436.7 L1779.1,1440.6 L1782.0,1444.5 L1785.0,1448.3 L1788.0,1452.0 L1791.0,1455.6 L1794.1,1459.1 L1797.1,1462.5 L1800.3,1465.9 L1803.4,1469.2 L1806.5,1472.4 L1809.7,1475.5 L1812.9,1478.5 L1816.1,1481.4 L1819.2,1484.3 L1822.4,1487.0 L1825.6,1489.6 L1828.8,1492.2 L1832.1,1494.7 L1835.3,1497.1 L1838.6,1499.5 L1842.0,1501.8 L1845.5,1504.2 L1849.4,1506.7 L1853.5,1509.2 L1857.5,1511.6 L1861.3,1513.8 L1864.7,1515.8 L1867.6,1517.5 L1869.7,1518.8" stroke="#6cc3ef" stroke-width="3.4" fill="none" stroke-linejoin="round" stroke-linecap="round"/>
<path d="M1469.3,1497.1 L1469.4,1496.9 L1469.5,1496.7 L1469.7,1496.5 L1469.9,1496.2 L1470.2,1495.8 L1470.6,1495.3 L1471.1,1494.6 L1471.8,1493.7 L1472.6,1492.5 L1473.7,1491.1 L1474.8,1489.5 L1476.1,1487.8 L1477.4,1486.0 L1478.8,1484.1 L1480.2,1482.1 L1481.6,1480.1 L1483.0,1478.1 L1484.3,1476.1 L1485.6,1474.1 L1486.9,1472.0 L1488.4,1469.7 L1490.0,1467.2 L1491.9,1464.5 L1494.0,1461.4 L1496.5,1457.9 L1499.3,1454.1 L1502.3,1449.9 L1505.5,1445.6 L1508.8,1441.2 L1512.1,1436.8 L1515.4,1432.5 L1518.6,1428.4 L1521.7,1424.6 L1524.7,1420.8 L1527.8,1417.1 L1530.9,1413.5 L1534.0,1409.9 L1537.1,1406.3 L1540.2,1402.7 L1543.3,1399.2 L1546.4,1395.8 L1549.5,1392.3 L1552.6,1388.9 L1555.7,1385.5 L1558.8,1382.2 L1561.9,1378.9 L1564.9,1375.6 L1568.0,1372.4 L1571.1,1369.2 L1574.2,1366.1 L1577.3,1363.0 L1580.4,1359.9 L1583.5,1356.9 L1586.6,1353.8 L1589.7,1350.7 L1592.8,1347.6 L1595.9,1344.4 L1598.9,1341.2 L1602.0,1338.0 L1605.1,1334.7 L1608.1,1331.5 L1611.2,1328.2 L1614.3,1325.0 L1617.3,1321.8 L1620.4,1318.6 L1623.5,1315.5 L1626.6,1312.3 L1629.7,1309.2 L1632.8,1306.1 L1635.9,1302.9 L1639.0,1299.8 L1642.1,1296.6 L1645.3,1293.4 L1648.6,1290.0 L1651.9,1286.6 L1655.2,1283.2 L1658.4,1279.9 L1661.5,1276.8 L1664.3,1273.8 L1666.8,1271.2 L1668.9,1268.8 L1670.8,1266.8 L1672.4,1265.0 L1673.8,1263.4 L1675.1,1261.8 L1676.4,1260.2 L1677.7,1258.5 L1679.2,1256.6 L1680.7,1254.5 L1682.3,1252.3 L1683.8,1250.0 L1685.4,1247.7 L1686.9,1245.4 L1688.5,1243.1 L1690.0,1241.0 L1691.5,1238.9 L1693.1,1236.9 L1694.6,1234.9 L1696.1,1233.0 L1697.6,1231.1 L1699.2,1229.4 L1700.7,1227.7 L1702.2,1226.1 L1703.7,1224.6 L1705.2,1223.3 L1706.5,1222.2 L1707.8,1221.3 L1709.1,1220.4 L1710.6,1219.5 L1712.1,1218.7 L1714.0,1217.8 L1716.1,1216.8 L1718.5,1215.8 L1720.9,1214.7 L1723.4,1213.7 L1726.2,1212.6 L1729.3,1211.6 L1732.7,1210.5 L1736.5,1209.4 L1740.9,1208.3 L1745.8,1207.2 L1751.4,1206.2 L1757.5,1205.1 L1763.9,1204.1 L1770.5,1203.0 L1777.0,1201.9 L1783.3,1200.7 L1789.3,1199.5 L1795.0,1198.2 L1800.6,1196.9 L1806.1,1195.6 L1811.5,1194.2 L1816.9,1192.8 L1822.2,1191.4 L1827.4,1190.0 L1832.6,1188.6 L1838.0,1187.2 L1843.6,1185.6 L1849.3,1184.1 L1854.9,1182.5 L1860.1,1181.0 L1864.8,1179.7 L1868.7,1178.6 L1871.7,1177.8" stroke="#6cc3ef" stroke-width="3.4" fill="none" stroke-linejoin="round" stroke-linecap="round"/>
<path d="M1470.1,1190.7 L1471.3,1191.4 L1472.9,1192.4 L1474.8,1193.6 L1476.9,1194.9 L1479.2,1196.4 L1481.7,1197.8 L1484.2,1199.2 L1486.8,1200.5 L1489.4,1201.8 L1492.1,1203.1 L1494.9,1204.4 L1497.8,1205.7 L1500.9,1207.0 L1504.2,1208.3 L1507.9,1209.5 L1511.9,1210.7 L1516.3,1211.9 L1521.2,1213.0 L1526.4,1214.1 L1531.8,1215.1 L1537.4,1216.2 L1543.0,1217.2 L1548.4,1218.2 L1553.7,1219.2 L1558.9,1220.2 L1564.4,1221.2 L1569.9,1222.1 L1575.3,1223.1 L1580.6,1224.0 L1585.4,1224.9 L1589.8,1225.8 L1593.6,1226.7 L1596.7,1227.5 L1599.2,1228.2 L1601.2,1229.0 L1602.8,1229.7 L1604.3,1230.4 L1605.6,1231.1 L1606.9,1231.9 L1608.3,1232.8 L1609.8,1233.7 L1611.1,1234.5 L1612.3,1235.4 L1613.4,1236.3 L1614.5,1237.3 L1615.6,1238.5 L1616.9,1239.8 L1618.2,1241.3 L1619.6,1243.0 L1621.1,1245.0 L1622.6,1247.1 L1624.2,1249.4 L1625.8,1251.8 L1627.4,1254.2 L1629.0,1256.6 L1630.5,1258.9 L1632.1,1261.3 L1633.6,1263.7 L1635.2,1266.2 L1636.7,1268.7 L1638.3,1271.2 L1639.8,1273.7 L1641.4,1276.2 L1642.9,1278.6 L1644.5,1281.1 L1646.0,1283.6 L1647.6,1286.0 L1649.1,1288.5 L1650.6,1290.9 L1652.2,1293.3 L1653.7,1295.7 L1655.3,1298.0 L1656.7,1300.1 L1658.1,1302.1 L1659.4,1303.9 L1660.7,1305.7 L1662.1,1307.7 L1663.7,1309.8 L1665.5,1312.3 L1667.6,1315.3 L1670.1,1318.8 L1673.0,1322.8 L1676.0,1327.2 L1679.3,1331.7 L1682.6,1336.4 L1685.9,1341.1 L1689.2,1345.6 L1692.4,1350.0 L1695.5,1354.1 L1698.5,1358.3 L1701.6,1362.4 L1704.7,1366.4 L1707.7,1370.5 L1710.8,1374.4 L1713.9,1378.4 L1717.0,1382.2 L1720.0,1386.1 L1723.1,1389.8 L1726.2,1393.4 L1729.3,1397.0 L1732.4,1400.7 L1735.5,1404.3 L1738.6,1408.0 L1741.7,1411.8 L1744.8,1415.7 L1747.9,1419.7 L1751.0,1423.8 L1754.1,1427.9 L1757.2,1432.0 L1760.3,1436.0 L1763.4,1440.0 L1766.4,1443.7 L1769.4,1447.4 L1772.4,1451.0 L1775.3,1454.5 L1778.3,1458.0 L1781.2,1461.4 L1784.2,1464.6 L1787.1,1467.8 L1790.2,1470.9 L1793.2,1473.9 L1796.4,1476.8 L1799.6,1479.7 L1802.8,1482.4 L1805.9,1485.1 L1809.1,1487.6 L1812.2,1490.0 L1815.2,1492.3 L1818.2,1494.4 L1821.1,1496.4 L1823.9,1498.2 L1826.7,1499.9 L1829.5,1501.5 L1832.3,1503.1 L1835.0,1504.6 L1837.8,1506.2 L1840.7,1507.9 L1843.8,1509.6 L1846.9,1511.4 L1850.1,1513.1 L1853.0,1514.6 L1855.6,1516.0 L1857.8,1517.2 L1859.5,1518.1" stroke="#3c7bbd" stroke-width="3.4" fill="none" stroke-linejoin="round" stroke-linecap="round"/>
<path d="M1469.6,1505.9 L1469.7,1505.7 L1469.9,1505.4 L1470.0,1505.2 L1470.2,1504.8 L1470.5,1504.4 L1470.9,1503.7 L1471.4,1502.9 L1472.1,1501.8 L1473.0,1500.5 L1474.0,1498.9 L1475.2,1497.1 L1476.4,1495.2 L1477.8,1493.1 L1479.2,1491.0 L1480.6,1488.8 L1482.0,1486.5 L1483.3,1484.3 L1484.6,1482.1 L1485.9,1479.9 L1487.2,1477.5 L1488.7,1475.0 L1490.3,1472.3 L1492.2,1469.4 L1494.3,1466.2 L1496.8,1462.5 L1499.6,1458.5 L1502.6,1454.2 L1505.8,1449.7 L1509.1,1445.2 L1512.5,1440.7 L1515.7,1436.3 L1518.9,1432.2 L1522.0,1428.3 L1525.1,1424.4 L1528.2,1420.7 L1531.3,1417.0 L1534.4,1413.3 L1537.4,1409.7 L1540.5,1406.2 L1543.6,1402.6 L1546.7,1399.1 L1549.8,1395.6 L1552.9,1392.2 L1556.0,1388.7 L1559.1,1385.4 L1562.2,1382.0 L1565.3,1378.7 L1568.4,1375.5 L1571.5,1372.2 L1574.6,1369.1 L1577.7,1366.0 L1580.8,1363.0 L1583.8,1359.9 L1586.9,1356.9 L1590.0,1353.8 L1593.1,1350.7 L1596.2,1347.5 L1599.3,1344.3 L1602.3,1341.0 L1605.4,1337.8 L1608.5,1334.5 L1611.5,1331.3 L1614.6,1328.0 L1617.7,1324.8 L1620.8,1321.7 L1623.8,1318.5 L1626.9,1315.4 L1630.0,1312.3 L1633.1,1309.1 L1636.2,1306.0 L1639.3,1302.9 L1642.4,1299.7 L1645.6,1296.5 L1648.9,1293.1 L1652.2,1289.7 L1655.6,1286.3 L1658.8,1283.0 L1661.8,1279.8 L1664.6,1276.9 L1667.1,1274.2 L1669.3,1271.9 L1671.1,1269.9 L1672.7,1268.1 L1674.1,1266.4 L1675.4,1264.8 L1676.7,1263.2 L1678.1,1261.5 L1679.5,1259.6 L1681.1,1257.5 L1682.6,1255.4 L1684.2,1253.1 L1685.7,1250.8 L1687.3,1248.5 L1688.8,1246.3 L1690.3,1244.1 L1691.9,1242.0 L1693.4,1239.9 L1694.9,1237.8 L1696.5,1235.7 L1698.0,1233.7 L1699.5,1231.8 L1701.0,1230.0 L1702.6,1228.2 L1704.1,1226.7 L1705.5,1225.3 L1706.9,1224.1 L1708.2,1223.0 L1709.5,1222.0 L1710.9,1221.1 L1712.5,1220.2 L1714.3,1219.2 L1716.4,1218.2 L1718.8,1217.1 L1721.2,1215.9 L1723.8,1214.8 L1726.6,1213.7 L1729.6,1212.5 L1733.0,1211.3 L1736.9,1210.2 L1741.2,1209.0 L1746.1,1207.8 L1751.8,1206.7 L1757.8,1205.6 L1764.3,1204.4 L1770.8,1203.2 L1777.3,1202.0 L1783.7,1200.8 L1789.7,1199.5 L1795.4,1198.1 L1801.2,1196.6 L1807.0,1195.1 L1812.7,1193.6 L1818.2,1192.0 L1823.4,1190.5 L1828.4,1189.0 L1832.9,1187.6 L1837.2,1186.2 L1841.3,1184.7 L1845.1,1183.2 L1848.7,1181.8 L1851.9,1180.4 L1854.7,1179.2 L1857.1,1178.2 L1859.0,1177.4" stroke="#3c7bbd" stroke-width="3.4" fill="none" stroke-linejoin="round" stroke-linecap="round"/>
<path d="M1471.8,1190.7 L1473.0,1191.4 L1474.6,1192.4 L1476.4,1193.6 L1478.6,1194.9 L1480.9,1196.4 L1483.3,1197.8 L1485.9,1199.2 L1488.5,1200.5 L1491.1,1201.8 L1493.8,1203.1 L1496.5,1204.4 L1499.5,1205.7 L1502.6,1207.0 L1505.9,1208.3 L1509.6,1209.5 L1513.6,1210.7 L1518.0,1211.9 L1522.9,1213.0 L1528.1,1214.1 L1533.5,1215.1 L1539.1,1216.2 L1544.6,1217.2 L1550.1,1218.2 L1555.3,1219.2 L1560.6,1220.2 L1566.0,1221.2 L1571.6,1222.1 L1577.0,1223.1 L1582.2,1224.0 L1587.1,1224.9 L1591.5,1225.8 L1595.3,1226.7 L1598.4,1227.5 L1600.8,1228.2 L1602.9,1229.0 L1604.5,1229.7 L1605.9,1230.4 L1607.2,1231.1 L1608.6,1231.9 L1610.0,1232.8 L1611.4,1233.7 L1612.7,1234.5 L1613.9,1235.4 L1615.1,1236.3 L1616.2,1237.3 L1617.3,1238.5 L1618.5,1239.8 L1619.8,1241.3 L1621.3,1243.0 L1622.8,1245.0 L1624.3,1247.1 L1625.9,1249.4 L1627.5,1251.8 L1629.1,1254.2 L1630.7,1256.6 L1632.2,1258.9 L1633.8,1261.3 L1635.3,1263.7 L1636.9,1266.2 L1638.4,1268.7 L1639.9,1271.2 L1641.5,1273.7 L1643.0,1276.2 L1644.6,1278.6 L1646.1,1281.1 L1647.7,1283.6 L1649.2,1286.0 L1650.8,1288.5 L1652.3,1290.9 L1653.9,1293.3 L1655.4,1295.7 L1657.0,1298.0 L1658.4,1300.1 L1659.8,1302.1 L1661.0,1303.9 L1662.4,1305.7 L1663.8,1307.7 L1665.4,1309.8 L1667.2,1312.3 L1669.3,1315.3 L1671.8,1318.8 L1674.6,1322.8 L1677.7,1327.2 L1680.9,1331.7 L1684.2,1336.4 L1687.6,1341.1 L1690.9,1345.6 L1694.1,1350.0 L1697.1,1354.1 L1700.2,1358.3 L1703.3,1362.4 L1706.3,1366.4 L1709.4,1370.5 L1712.5,1374.4 L1715.5,1378.4 L1718.6,1382.2 L1721.7,1386.1 L1724.8,1389.8 L1727.9,1393.4 L1731.0,1397.0 L1734.1,1400.7 L1737.2,1404.3 L1740.3,1408.0 L1743.4,1411.8 L1746.5,1415.7 L1749.6,1419.7 L1752.7,1423.8 L1755.8,1427.9 L1758.9,1432.0 L1762.0,1436.0 L1765.0,1440.0 L1768.1,1443.7 L1771.1,1447.4 L1774.1,1451.0 L1777.0,1454.5 L1779.9,1458.0 L1782.9,1461.4 L1785.8,1464.6 L1788.8,1467.8 L1791.8,1470.9 L1794.9,1473.9 L1798.1,1476.8 L1801.2,1479.7 L1804.4,1482.4 L1807.6,1485.1 L1810.8,1487.6 L1813.9,1490.0 L1816.9,1492.3 L1819.8,1494.4 L1822.7,1496.4 L1825.6,1498.2 L1828.4,1499.9 L1831.2,1501.5 L1833.9,1503.1 L1836.7,1504.6 L1839.5,1506.2 L1842.4,1507.9 L1845.5,1509.6 L1848.6,1511.4 L1851.7,1513.1 L1854.7,1514.6 L1857.3,1516.0 L1859.5,1517.2 L1861.2,1518.1" stroke="#e0a066" stroke-width="3.4" fill="none" stroke-linejoin="round" stroke-linecap="round"/>
<path d="M1470.1,1506.9 L1470.2,1506.7 L1470.4,1506.5 L1470.5,1506.2 L1470.7,1505.8 L1471.0,1505.4 L1471.4,1504.7 L1471.9,1503.9 L1472.6,1502.8 L1473.5,1501.5 L1474.5,1499.9 L1475.7,1498.2 L1476.9,1496.2 L1478.3,1494.2 L1479.7,1492.0 L1481.1,1489.8 L1482.5,1487.6 L1483.8,1485.3 L1485.1,1483.1 L1486.4,1480.9 L1487.7,1478.5 L1489.2,1476.0 L1490.8,1473.3 L1492.7,1470.4 L1494.8,1467.2 L1497.3,1463.5 L1500.1,1459.5 L1503.1,1455.2 L1506.3,1450.8 L1509.6,1446.2 L1513.0,1441.7 L1516.2,1437.3 L1519.4,1433.2 L1522.5,1429.3 L1525.6,1425.5 L1528.7,1421.7 L1531.8,1418.0 L1534.9,1414.4 L1538.0,1410.8 L1541.0,1407.2 L1544.1,1403.7 L1547.2,1400.1 L1550.3,1396.6 L1553.4,1393.2 L1556.5,1389.8 L1559.6,1386.4 L1562.7,1383.0 L1565.8,1379.7 L1568.9,1376.5 L1572.0,1373.3 L1575.1,1370.1 L1578.2,1367.0 L1581.3,1364.0 L1584.3,1360.9 L1587.4,1357.9 L1590.5,1354.8 L1593.6,1351.7 L1596.7,1348.5 L1599.8,1345.3 L1602.8,1342.0 L1605.9,1338.8 L1609.0,1335.5 L1612.0,1332.3 L1615.1,1329.1 L1618.2,1325.9 L1621.3,1322.7 L1624.3,1319.5 L1627.4,1316.4 L1630.5,1313.3 L1633.6,1310.1 L1636.7,1307.0 L1639.8,1303.9 L1642.9,1300.7 L1646.1,1297.5 L1649.4,1294.1 L1652.7,1290.7 L1656.1,1287.3 L1659.3,1284.0 L1662.3,1280.9 L1665.1,1277.9 L1667.6,1275.2 L1669.8,1272.9 L1671.6,1270.9 L1673.2,1269.1 L1674.6,1267.5 L1675.9,1265.9 L1677.2,1264.2 L1678.6,1262.5 L1680.0,1260.6 L1681.6,1258.6 L1683.1,1256.4 L1684.7,1254.1 L1686.2,1251.8 L1687.8,1249.6 L1689.3,1247.3 L1690.8,1245.1 L1692.4,1243.0 L1693.9,1240.9 L1695.4,1238.8 L1697.0,1236.8 L1698.5,1234.8 L1700.0,1232.8 L1701.5,1231.0 L1703.1,1229.3 L1704.6,1227.7 L1706.0,1226.3 L1707.4,1225.1 L1708.7,1224.0 L1710.0,1223.1 L1711.4,1222.1 L1713.0,1221.2 L1714.8,1220.2 L1717.0,1219.2 L1719.3,1218.1 L1721.7,1217.0 L1724.3,1215.8 L1727.1,1214.7 L1730.1,1213.5 L1733.5,1212.4 L1737.4,1211.2 L1741.7,1210.0 L1746.6,1208.9 L1752.3,1207.7 L1758.4,1206.6 L1764.8,1205.4 L1771.3,1204.3 L1777.8,1203.1 L1784.2,1201.8 L1790.2,1200.5 L1795.9,1199.1 L1801.7,1197.7 L1807.5,1196.2 L1813.2,1194.6 L1818.7,1193.1 L1824.0,1191.5 L1828.9,1190.0 L1833.4,1188.6 L1837.7,1187.2 L1841.8,1185.7 L1845.6,1184.2 L1849.2,1182.8 L1852.4,1181.4 L1855.2,1180.2 L1857.6,1179.2 L1859.5,1178.4" stroke="#e0a066" stroke-width="3.4" fill="none" stroke-linejoin="round" stroke-linecap="round"/>
<path d="M1470.1,1190.0 L1471.3,1190.7 L1472.9,1191.7 L1474.8,1192.9 L1476.9,1194.3 L1479.2,1195.7 L1481.7,1197.1 L1484.2,1198.5 L1486.8,1199.8 L1489.4,1201.1 L1492.1,1202.4 L1494.9,1203.7 L1497.8,1205.0 L1500.9,1206.3 L1504.2,1207.6 L1507.9,1208.8 L1511.9,1210.0 L1516.3,1211.2 L1521.2,1212.3 L1526.4,1213.4 L1531.8,1214.4 L1537.4,1215.5 L1543.0,1216.5 L1548.4,1217.5 L1553.7,1218.5 L1558.9,1219.5 L1564.4,1220.5 L1569.9,1221.5 L1575.3,1222.4 L1580.6,1223.3 L1585.4,1224.2 L1589.8,1225.1 L1593.6,1226.0 L1596.7,1226.8 L1599.2,1227.6 L1601.2,1228.3 L1602.8,1229.0 L1604.3,1229.7 L1605.6,1230.4 L1606.9,1231.2 L1608.3,1232.1 L1609.8,1233.0 L1611.1,1233.8 L1612.3,1234.7 L1613.4,1235.6 L1614.5,1236.6 L1615.6,1237.8 L1616.9,1239.1 L1618.2,1240.6 L1619.6,1242.4 L1621.1,1244.3 L1622.6,1246.5 L1624.2,1248.7 L1625.8,1251.1 L1627.4,1253.5 L1629.0,1255.9 L1630.5,1258.3 L1632.1,1260.6 L1633.6,1263.0 L1635.2,1265.5 L1636.7,1268.0 L1638.3,1270.5 L1639.8,1273.0 L1641.4,1275.5 L1642.9,1278.0 L1644.5,1280.4 L1646.0,1282.9 L1647.6,1285.3 L1649.1,1287.8 L1650.6,1290.2 L1652.2,1292.6 L1653.7,1295.0 L1655.3,1297.3 L1656.7,1299.5 L1658.1,1301.4 L1659.4,1303.2 L1660.7,1305.0 L1662.1,1307.0 L1663.7,1309.1 L1665.5,1311.7 L1667.6,1314.6 L1670.1,1318.2 L1673.0,1322.1 L1676.0,1326.5 L1679.3,1331.0 L1682.6,1335.7 L1685.9,1340.4 L1689.2,1345.0 L1692.4,1349.3 L1695.5,1353.5 L1698.5,1357.6 L1701.6,1361.7 L1704.7,1365.8 L1707.7,1369.8 L1710.8,1373.7 L1713.9,1377.7 L1717.0,1381.6 L1720.0,1385.4 L1723.1,1389.1 L1726.2,1392.7 L1729.3,1396.4 L1732.4,1400.0 L1735.5,1403.6 L1738.6,1407.3 L1741.7,1411.1 L1744.8,1415.0 L1747.9,1419.1 L1751.0,1423.1 L1754.1,1427.2 L1757.2,1431.3 L1760.3,1435.4 L1763.4,1439.3 L1766.4,1443.1 L1769.4,1446.7 L1772.4,1450.3 L1775.3,1453.8 L1778.3,1457.3 L1781.2,1460.7 L1784.2,1464.0 L1787.1,1467.1 L1790.2,1470.2 L1793.2,1473.2 L1796.4,1476.2 L1799.6,1479.0 L1802.8,1481.8 L1805.9,1484.4 L1809.1,1486.9 L1812.2,1489.4 L1815.2,1491.6 L1818.2,1493.7 L1821.1,1495.7 L1823.9,1497.5 L1826.7,1499.2 L1829.5,1500.8 L1832.3,1502.4 L1835.0,1504.0 L1837.8,1505.6 L1840.7,1507.2 L1843.8,1509.0 L1846.9,1510.7 L1850.1,1512.4 L1853.0,1514.0 L1855.6,1515.4 L1857.8,1516.5 L1859.5,1517.5" stroke="#e2c466" stroke-width="3.4" fill="none" stroke-linejoin="round" stroke-linecap="round"/>
<path d="M1468.4,1506.2 L1468.6,1506.0 L1468.7,1505.8 L1468.9,1505.5 L1469.1,1505.2 L1469.3,1504.7 L1469.7,1504.1 L1470.3,1503.2 L1470.9,1502.2 L1471.8,1500.8 L1472.8,1499.3 L1474.0,1497.5 L1475.2,1495.5 L1476.6,1493.5 L1478.0,1491.3 L1479.4,1489.1 L1480.8,1486.9 L1482.1,1484.7 L1483.4,1482.5 L1484.7,1480.2 L1486.1,1477.9 L1487.5,1475.4 L1489.2,1472.7 L1491.0,1469.7 L1493.2,1466.5 L1495.6,1462.9 L1498.4,1458.9 L1501.5,1454.6 L1504.7,1450.1 L1508.0,1445.5 L1511.3,1441.0 L1514.6,1436.7 L1517.7,1432.5 L1520.8,1428.6 L1523.9,1424.8 L1527.0,1421.0 L1530.1,1417.3 L1533.2,1413.7 L1536.3,1410.1 L1539.4,1406.5 L1542.5,1403.0 L1545.6,1399.4 L1548.7,1396.0 L1551.7,1392.5 L1554.8,1389.1 L1557.9,1385.7 L1561.0,1382.4 L1564.1,1379.1 L1567.2,1375.8 L1570.3,1372.6 L1573.4,1369.5 L1576.5,1366.4 L1579.6,1363.3 L1582.7,1360.3 L1585.8,1357.2 L1588.9,1354.1 L1591.9,1351.0 L1595.0,1347.8 L1598.1,1344.6 L1601.2,1341.4 L1604.2,1338.1 L1607.3,1334.9 L1610.4,1331.6 L1613.4,1328.4 L1616.5,1325.2 L1619.6,1322.0 L1622.7,1318.9 L1625.8,1315.7 L1628.9,1312.6 L1632.0,1309.5 L1635.1,1306.3 L1638.1,1303.2 L1641.2,1300.0 L1644.4,1296.8 L1647.7,1293.4 L1651.1,1290.0 L1654.4,1286.6 L1657.6,1283.3 L1660.7,1280.2 L1663.5,1277.2 L1666.0,1274.6 L1668.1,1272.2 L1669.9,1270.2 L1671.5,1268.4 L1672.9,1266.8 L1674.2,1265.2 L1675.5,1263.6 L1676.9,1261.9 L1678.3,1260.0 L1679.9,1257.9 L1681.4,1255.7 L1683.0,1253.5 L1684.5,1251.2 L1686.1,1248.9 L1687.6,1246.6 L1689.2,1244.4 L1690.7,1242.3 L1692.2,1240.2 L1693.8,1238.1 L1695.3,1236.1 L1696.8,1234.1 L1698.3,1232.1 L1699.9,1230.3 L1701.4,1228.6 L1702.9,1227.0 L1704.4,1225.6 L1705.7,1224.4 L1707.0,1223.4 L1708.3,1222.4 L1709.7,1221.5 L1711.3,1220.5 L1713.1,1219.6 L1715.3,1218.5 L1717.6,1217.4 L1720.0,1216.3 L1722.6,1215.1 L1725.4,1214.0 L1728.5,1212.8 L1731.9,1211.7 L1735.7,1210.5 L1740.0,1209.3 L1745.0,1208.2 L1750.6,1207.0 L1756.7,1205.9 L1763.1,1204.8 L1769.6,1203.6 L1776.2,1202.4 L1782.5,1201.1 L1788.5,1199.8 L1794.3,1198.4 L1800.1,1197.0 L1805.9,1195.5 L1811.5,1193.9 L1817.0,1192.4 L1822.3,1190.9 L1827.2,1189.4 L1831.8,1187.9 L1836.0,1186.5 L1840.1,1185.0 L1844.0,1183.5 L1847.5,1182.1 L1850.7,1180.8 L1853.6,1179.5 L1855.9,1178.5 L1857.8,1177.8" stroke="#e2c466" stroke-width="3.4" fill="none" stroke-linejoin="round" stroke-linecap="round"/>
<path d="M1472.6,1191.3 L1473.8,1192.1 L1475.4,1193.1 L1477.3,1194.3 L1479.4,1195.6 L1481.7,1197.0 L1484.2,1198.5 L1486.7,1199.9 L1489.3,1201.2 L1491.9,1202.5 L1494.6,1203.8 L1497.4,1205.1 L1500.3,1206.4 L1503.4,1207.7 L1506.8,1208.9 L1510.4,1210.2 L1514.4,1211.4 L1518.8,1212.5 L1523.7,1213.6 L1528.9,1214.7 L1534.4,1215.8 L1539.9,1216.8 L1545.5,1217.9 L1550.9,1218.9 L1556.2,1219.9 L1561.4,1220.9 L1566.9,1221.8 L1572.4,1222.8 L1577.8,1223.8 L1583.1,1224.7 L1587.9,1225.6 L1592.3,1226.5 L1596.1,1227.3 L1599.2,1228.2 L1601.7,1228.9 L1603.7,1229.6 L1605.3,1230.3 L1606.8,1231.1 L1608.1,1231.8 L1609.4,1232.6 L1610.8,1233.5 L1612.3,1234.3 L1613.6,1235.2 L1614.8,1236.1 L1615.9,1237.0 L1617.0,1238.0 L1618.2,1239.1 L1619.4,1240.4 L1620.7,1242.0 L1622.1,1243.7 L1623.6,1245.7 L1625.1,1247.8 L1626.7,1250.1 L1628.3,1252.4 L1629.9,1254.8 L1631.5,1257.3 L1633.1,1259.6 L1634.6,1262.0 L1636.1,1264.4 L1637.7,1266.9 L1639.2,1269.4 L1640.8,1271.9 L1642.3,1274.4 L1643.9,1276.9 L1645.4,1279.3 L1647.0,1281.8 L1648.5,1284.2 L1650.1,1286.7 L1651.6,1289.2 L1653.1,1291.6 L1654.7,1294.0 L1656.2,1296.4 L1657.8,1298.7 L1659.2,1300.8 L1660.6,1302.8 L1661.9,1304.6 L1663.2,1306.4 L1664.6,1308.3 L1666.2,1310.5 L1668.0,1313.0 L1670.2,1316.0 L1672.7,1319.5 L1675.5,1323.5 L1678.5,1327.8 L1681.8,1332.4 L1685.1,1337.1 L1688.4,1341.8 L1691.7,1346.3 L1694.9,1350.7 L1698.0,1354.8 L1701.0,1359.0 L1704.1,1363.1 L1707.2,1367.1 L1710.2,1371.1 L1713.3,1375.1 L1716.4,1379.0 L1719.5,1382.9 L1722.5,1386.7 L1725.6,1390.5 L1728.7,1394.1 L1731.8,1397.7 L1734.9,1401.3 L1738.0,1405.0 L1741.1,1408.7 L1744.2,1412.5 L1747.3,1416.4 L1750.4,1420.4 L1753.5,1424.5 L1756.6,1428.6 L1759.7,1432.7 L1762.8,1436.7 L1765.9,1440.6 L1768.9,1444.4 L1771.9,1448.1 L1774.9,1451.7 L1777.8,1455.2 L1780.8,1458.7 L1783.7,1462.0 L1786.7,1465.3 L1789.6,1468.5 L1792.7,1471.6 L1795.7,1474.6 L1798.9,1477.5 L1802.1,1480.4 L1805.3,1483.1 L1808.5,1485.8 L1811.6,1488.3 L1814.7,1490.7 L1817.7,1493.0 L1820.7,1495.1 L1823.6,1497.0 L1826.4,1498.9 L1829.2,1500.6 L1832.0,1502.2 L1834.8,1503.8 L1837.5,1505.3 L1840.3,1506.9 L1843.2,1508.6 L1846.3,1510.3 L1849.5,1512.1 L1852.6,1513.7 L1855.5,1515.3 L1858.1,1516.7 L1860.3,1517.9 L1862.0,1518.8" stroke="#ebb898" stroke-width="3.4" fill="none" stroke-linejoin="round" stroke-linecap="round"/>
<path d="M1471.8,1507.9 L1471.9,1507.7 L1472.0,1507.5 L1472.2,1507.2 L1472.4,1506.9 L1472.7,1506.4 L1473.1,1505.8 L1473.6,1504.9 L1474.3,1503.9 L1475.1,1502.5 L1476.2,1500.9 L1477.3,1499.2 L1478.6,1497.2 L1479.9,1495.2 L1481.3,1493.0 L1482.7,1490.8 L1484.1,1488.6 L1485.5,1486.4 L1486.8,1484.2 L1488.1,1481.9 L1489.4,1479.6 L1490.9,1477.1 L1492.5,1474.4 L1494.4,1471.4 L1496.5,1468.2 L1499.0,1464.6 L1501.8,1460.6 L1504.8,1456.3 L1508.0,1451.8 L1511.3,1447.2 L1514.6,1442.7 L1517.9,1438.4 L1521.1,1434.2 L1524.2,1430.3 L1527.2,1426.5 L1530.3,1422.7 L1533.4,1419.0 L1536.5,1415.4 L1539.6,1411.8 L1542.7,1408.2 L1545.8,1404.7 L1548.9,1401.1 L1552.0,1397.7 L1555.1,1394.2 L1558.2,1390.8 L1561.3,1387.4 L1564.4,1384.1 L1567.5,1380.8 L1570.5,1377.5 L1573.6,1374.3 L1576.7,1371.2 L1579.8,1368.1 L1582.9,1365.0 L1586.0,1362.0 L1589.1,1358.9 L1592.2,1355.8 L1595.3,1352.7 L1598.4,1349.5 L1601.4,1346.3 L1604.5,1343.1 L1607.6,1339.8 L1610.6,1336.6 L1613.7,1333.3 L1616.8,1330.1 L1619.8,1326.9 L1622.9,1323.7 L1626.0,1320.6 L1629.1,1317.4 L1632.2,1314.3 L1635.3,1311.2 L1638.4,1308.0 L1641.5,1304.9 L1644.6,1301.7 L1647.8,1298.5 L1651.1,1295.1 L1654.4,1291.7 L1657.7,1288.3 L1660.9,1285.0 L1664.0,1281.9 L1666.8,1278.9 L1669.3,1276.3 L1671.5,1273.9 L1673.3,1271.9 L1674.9,1270.1 L1676.3,1268.5 L1677.6,1266.9 L1678.9,1265.3 L1680.2,1263.6 L1681.7,1261.7 L1683.2,1259.6 L1684.8,1257.4 L1686.3,1255.2 L1687.9,1252.9 L1689.4,1250.6 L1691.0,1248.3 L1692.5,1246.1 L1694.1,1244.0 L1695.6,1241.9 L1697.1,1239.8 L1698.6,1237.8 L1700.2,1235.8 L1701.7,1233.8 L1703.2,1232.0 L1704.7,1230.3 L1706.3,1228.7 L1707.7,1227.3 L1709.0,1226.1 L1710.3,1225.1 L1711.7,1224.1 L1713.1,1223.1 L1714.7,1222.2 L1716.5,1221.3 L1718.6,1220.2 L1721.0,1219.1 L1723.4,1218.0 L1725.9,1216.8 L1728.7,1215.7 L1731.8,1214.5 L1735.2,1213.4 L1739.0,1212.2 L1743.4,1211.0 L1748.3,1209.9 L1753.9,1208.7 L1760.0,1207.6 L1766.4,1206.5 L1773.0,1205.3 L1779.5,1204.1 L1785.9,1202.8 L1791.8,1201.5 L1797.6,1200.1 L1803.4,1198.7 L1809.2,1197.2 L1814.9,1195.6 L1820.4,1194.1 L1825.6,1192.5 L1830.6,1191.1 L1835.1,1189.6 L1839.4,1188.2 L1843.5,1186.7 L1847.3,1185.2 L1850.9,1183.8 L1854.1,1182.4 L1856.9,1181.2 L1859.3,1180.2 L1861.2,1179.4" stroke="#ebb898" stroke-width="3.4" fill="none" stroke-linejoin="round" stroke-linecap="round"/>
</g>
<rect x="1470.10" y="1144.40" width="525.40" height="407.70" stroke="#000" stroke-width="3" fill="none"/>
<line x1="1470.10" y1="1552.10" x2="1456.10" y2="1552.10" stroke="#000" stroke-width="3"/>
<text font-size="31" text-anchor="end" transform="translate(1447.0,1562.1) scale(1.04,1)" fill="#000">0.2</text>
<line x1="1470.10" y1="1484.16" x2="1456.10" y2="1484.16" stroke="#000" stroke-width="3"/>
<text font-size="31" text-anchor="end" transform="translate(1447.0,1494.2) scale(1.04,1)" fill="#000">0.4</text>
<line x1="1470.10" y1="1416.22" x2="1456.10" y2="1416.22" stroke="#000" stroke-width="3"/>
<text font-size="31" text-anchor="end" transform="translate(1447.0,1426.2) scale(1.04,1)" fill="#000">0.6</text>
<line x1="1470.10" y1="1348.28" x2="1456.10" y2="1348.28" stroke="#000" stroke-width="3"/>
<text font-size="31" text-anchor="end" transform="translate(1447.0,1358.3) scale(1.04,1)" fill="#000">0.8</text>
<line x1="1470.10" y1="1280.34" x2="1456.10" y2="1280.34" stroke="#000" stroke-width="3"/>
<text font-size="31" text-anchor="end" transform="translate(1447.0,1290.3) scale(1.04,1)" fill="#000">1.0</text>
<line x1="1470.10" y1="1212.40" x2="1456.10" y2="1212.40" stroke="#000" stroke-width="3"/>
<text font-size="31" text-anchor="end" transform="translate(1447.0,1222.4) scale(1.04,1)" fill="#000">1.2</text>
<line x1="1470.10" y1="1144.46" x2="1456.10" y2="1144.46" stroke="#000" stroke-width="3"/>
<text font-size="31" text-anchor="end" transform="translate(1447.0,1154.5) scale(1.04,1)" fill="#000">1.4</text>
<line x1="1470.10" y1="1518.13" x2="1463.10" y2="1518.13" stroke="#000" stroke-width="3"/>
<line x1="1470.10" y1="1450.19" x2="1463.10" y2="1450.19" stroke="#000" stroke-width="3"/>
<line x1="1470.10" y1="1382.25" x2="1463.10" y2="1382.25" stroke="#000" stroke-width="3"/>
<line x1="1470.10" y1="1314.31" x2="1463.10" y2="1314.31" stroke="#000" stroke-width="3"/>
<line x1="1470.10" y1="1246.37" x2="1463.10" y2="1246.37" stroke="#000" stroke-width="3"/>
<line x1="1470.10" y1="1178.43" x2="1463.10" y2="1178.43" stroke="#000" stroke-width="3"/>
<line x1="1470.10" y1="1552.10" x2="1470.10" y2="1565.10" stroke="#000" stroke-width="3"/>
<text font-size="31" text-anchor="middle" transform="translate(1470.1,1599.5) scale(1.04,1)" fill="#000">0</text>
<line x1="1553.66" y1="1552.10" x2="1553.66" y2="1565.10" stroke="#000" stroke-width="3"/>
<text font-size="31" text-anchor="middle" transform="translate(1553.7,1599.5) scale(1.04,1)" fill="#000">50</text>
<line x1="1637.23" y1="1552.10" x2="1637.23" y2="1565.10" stroke="#000" stroke-width="3"/>
<text font-size="31" text-anchor="middle" transform="translate(1637.2,1599.5) scale(1.04,1)" fill="#000">100</text>
<line x1="1720.79" y1="1552.10" x2="1720.79" y2="1565.10" stroke="#000" stroke-width="3"/>
<text font-size="31" text-anchor="middle" transform="translate(1720.8,1599.5) scale(1.04,1)" fill="#000">150</text>
<line x1="1804.36" y1="1552.10" x2="1804.36" y2="1565.10" stroke="#000" stroke-width="3"/>
<text font-size="31" text-anchor="middle" transform="translate(1804.4,1599.5) scale(1.04,1)" fill="#000">200</text>
<line x1="1887.92" y1="1552.10" x2="1887.92" y2="1565.10" stroke="#000" stroke-width="3"/>
<text font-size="31" text-anchor="middle" transform="translate(1887.9,1599.5) scale(1.04,1)" fill="#000">250</text>
<line x1="1971.49" y1="1552.10" x2="1971.49" y2="1565.10" stroke="#000" stroke-width="3"/>
<text font-size="31" text-anchor="middle" transform="translate(1971.5,1599.5) scale(1.04,1)" fill="#000">300</text>
<line x1="1511.88" y1="1552.10" x2="1511.88" y2="1559.10" stroke="#000" stroke-width="3"/>
<line x1="1595.45" y1="1552.10" x2="1595.45" y2="1559.10" stroke="#000" stroke-width="3"/>
<line x1="1679.01" y1="1552.10" x2="1679.01" y2="1559.10" stroke="#000" stroke-width="3"/>
<line x1="1762.58" y1="1552.10" x2="1762.58" y2="1559.10" stroke="#000" stroke-width="3"/>
<line x1="1846.14" y1="1552.10" x2="1846.14" y2="1559.10" stroke="#000" stroke-width="3"/>
<line x1="1929.71" y1="1552.10" x2="1929.71" y2="1559.10" stroke="#000" stroke-width="3"/>
<text font-size="37" text-anchor="middle" transform="translate(1733.0,1648.7) scale(1.04,1)" fill="#000">Capacity (mAh g<tspan font-size="23" dy="-15.4">−1</tspan><tspan dy="15.4">)</tspan></text>
<text font-size="37" text-anchor="middle" transform="translate(1376.6,1348.0) rotate(-90) scale(1.04,1)" fill="#000">Voltage (V)</text>
<text font-size="62" text-anchor="start" font-weight="bold" transform="translate(1347.0,1160.0) scale(1.05,1)" fill="#000">g</text>
<line x1="1842.50" y1="1216.50" x2="1888.50" y2="1216.50" stroke="#bde8f7" stroke-width="3.6" stroke-linecap="round"/>
<text font-size="34" text-anchor="start" transform="translate(1904.5,1226.5) scale(1.032,1)" fill="#000">2nd</text>
<line x1="1842.50" y1="1257.50" x2="1888.50" y2="1257.50" stroke="#8ed4f2" stroke-width="3.6" stroke-linecap="round"/>
<text font-size="34" text-anchor="start" transform="translate(1904.5,1267.5) scale(1.032,1)" fill="#000">10th</text>
<line x1="1842.50" y1="1298.50" x2="1888.50" y2="1298.50" stroke="#6cc3ef" stroke-width="3.6" stroke-linecap="round"/>
<text font-size="34" text-anchor="start" transform="translate(1904.5,1308.5) scale(1.032,1)" fill="#000">20th</text>
<line x1="1842.50" y1="1339.50" x2="1888.50" y2="1339.50" stroke="#3c7bbd" stroke-width="3.6" stroke-linecap="round"/>
<text font-size="34" text-anchor="start" transform="translate(1904.5,1349.5) scale(1.032,1)" fill="#000">50th</text>
<line x1="1842.50" y1="1380.50" x2="1888.50" y2="1380.50" stroke="#e0a066" stroke-width="3.6" stroke-linecap="round"/>
<text font-size="34" text-anchor="start" transform="translate(1904.5,1390.5) scale(1.032,1)" fill="#000">100th</text>
<line x1="1842.50" y1="1421.50" x2="1888.50" y2="1421.50" stroke="#e2c466" stroke-width="3.6" stroke-linecap="round"/>
<text font-size="34" text-anchor="start" transform="translate(1904.5,1431.5) scale(1.032,1)" fill="#000">150th</text>
<line x1="1842.50" y1="1462.50" x2="1888.50" y2="1462.50" stroke="#ebb898" stroke-width="3.6" stroke-linecap="round"/>
<text font-size="34" text-anchor="start" transform="translate(1904.5,1472.5) scale(1.032,1)" fill="#000">200th</text>
</svg></body></html>
